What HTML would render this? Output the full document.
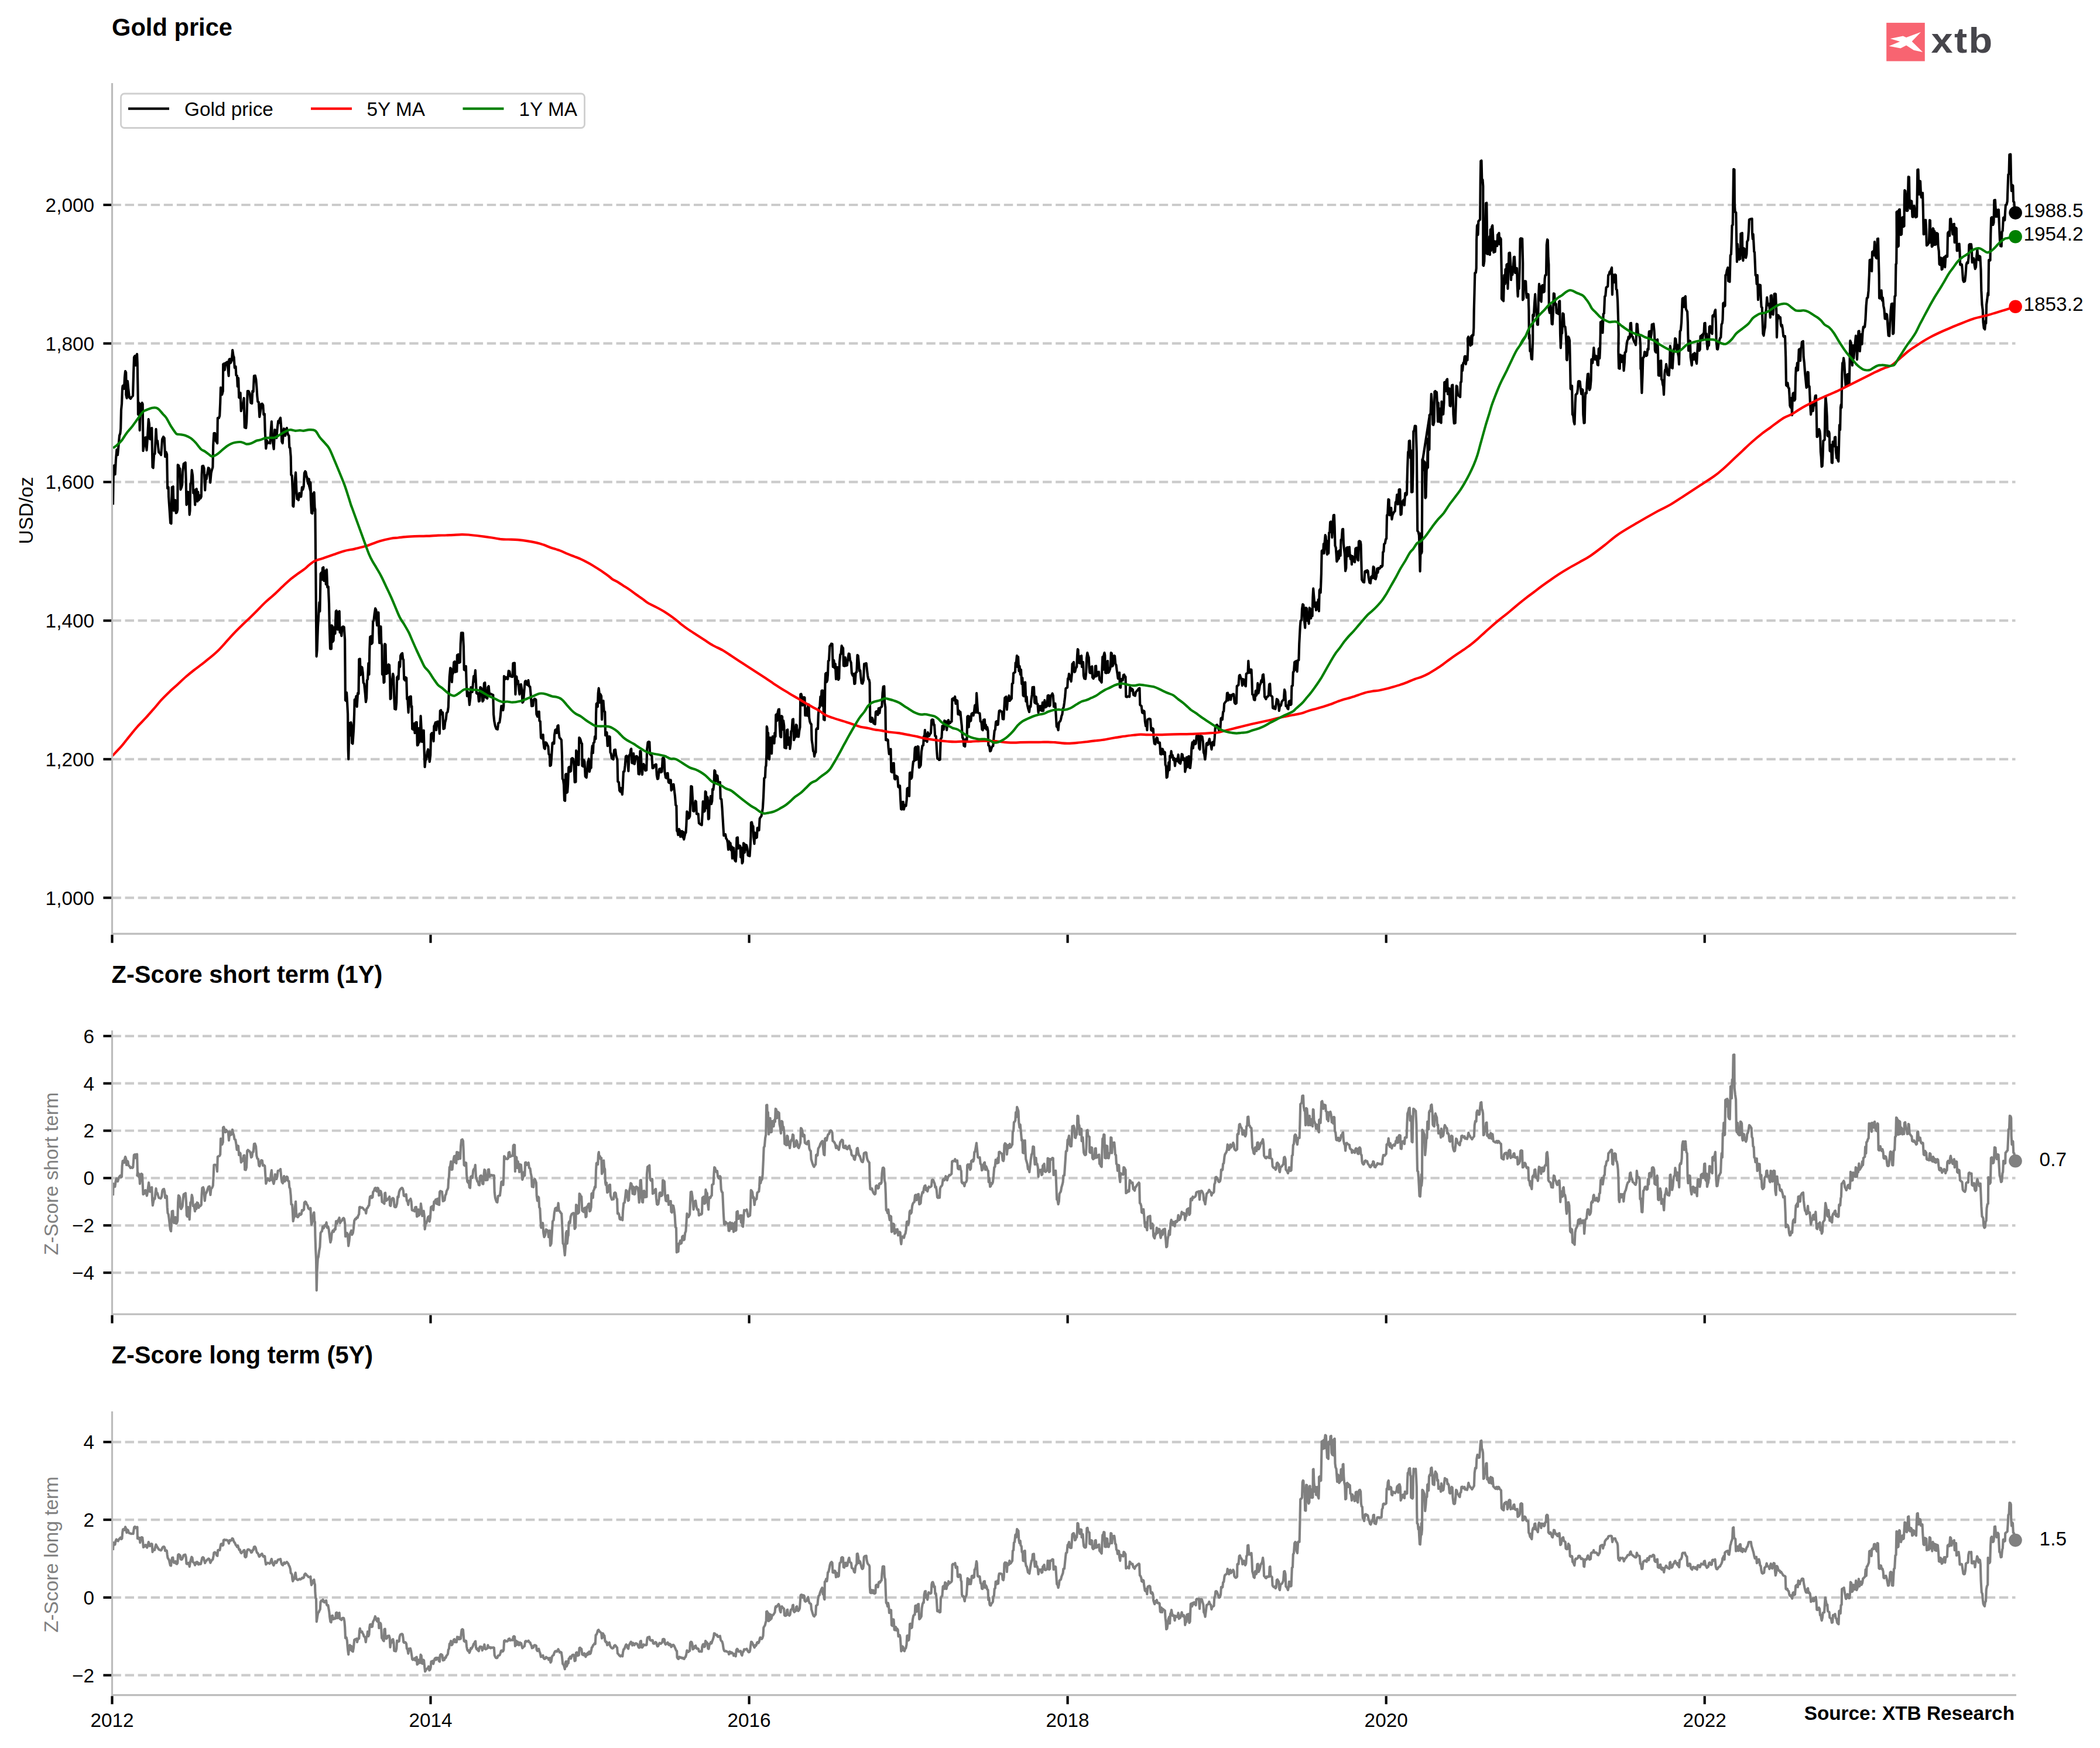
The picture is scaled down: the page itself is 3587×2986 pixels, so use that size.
<!DOCTYPE html>
<html><head><meta charset="utf-8"><title>Gold price</title>
<style>html,body{margin:0;padding:0;background:#fff}body{width:3587px;height:2986px;overflow:hidden}svg{display:block}
text{font-family:"Liberation Sans",Arial,Helvetica,sans-serif;font-size:33.33px;fill:#000}
.t{font-size:41.67px;font-weight:bold}.b{font-weight:bold}.g{fill:#808080}.r{text-anchor:end}.m{text-anchor:middle}
.grid{stroke:#cbcbcb;stroke-width:4.17;stroke-dasharray:15.41 6.6675;fill:none}
.sp{stroke:#bcbcbc;stroke-width:3.2;fill:none}.tk{stroke:#000;stroke-width:4.17;fill:none}
.ln{fill:none;stroke-width:4.17;stroke-linejoin:round;stroke-linecap:butt}
</style></head><body>
<svg xmlns="http://www.w3.org/2000/svg" width="3587" height="2986" viewBox="0 0 3587 2986">
<rect width="3587" height="2986" fill="#fff"/>
<text class="t" x="191" y="61">Gold price</text>
<text class="t" x="190.5" y="1678.5">Z-Score short term (1Y)</text>
<text class="t" x="190.5" y="2329">Z-Score long term (5Y)</text>
<g id="logo"><rect x="3222.2" y="38.9" width="65.6" height="65.6" fill="#f86471"/>
<polygon fill="#fff" points="3228.7,66.0 3250.5,61.4 3256.1,64.1 3281.1,54.7 3265.7,70.8 3284.2,89.1 3269.0,85.7 3256.1,77.4 3246.4,82.4 3226.6,78.7 3245.3,71.0"/>
<text transform="translate(3298.5,89.5) scale(1.075,1)" style="font-size:62px;font-weight:bold;fill:#46454b;letter-spacing:2.2px">xtb</text></g>
<line class="grid" x1="191.5" y1="1533.6" x2="3442.5" y2="1533.6"/>
<line class="grid" x1="191.5" y1="1296.9" x2="3442.5" y2="1296.9"/>
<line class="grid" x1="191.5" y1="1060.2" x2="3442.5" y2="1060.2"/>
<line class="grid" x1="191.5" y1="823.4" x2="3442.5" y2="823.4"/>
<line class="grid" x1="191.5" y1="586.7" x2="3442.5" y2="586.7"/>
<line class="grid" x1="191.5" y1="350.0" x2="3442.5" y2="350.0"/>
<line class="grid" x1="191.5" y1="2174.1" x2="3442.5" y2="2174.1"/>
<line class="grid" x1="191.5" y1="2093.3" x2="3442.5" y2="2093.3"/>
<line class="grid" x1="191.5" y1="2012.4" x2="3442.5" y2="2012.4"/>
<line class="grid" x1="191.5" y1="1931.5" x2="3442.5" y2="1931.5"/>
<line class="grid" x1="191.5" y1="1850.7" x2="3442.5" y2="1850.7"/>
<line class="grid" x1="191.5" y1="1769.8" x2="3442.5" y2="1769.8"/>
<line class="grid" x1="191.5" y1="2861.7" x2="3442.5" y2="2861.7"/>
<line class="grid" x1="191.5" y1="2728.9" x2="3442.5" y2="2728.9"/>
<line class="grid" x1="191.5" y1="2596.1" x2="3442.5" y2="2596.1"/>
<line class="grid" x1="191.5" y1="2463.3" x2="3442.5" y2="2463.3"/>
<defs><clipPath id="cp"><rect x="191.5" y="0" width="3262" height="2986"/></clipPath></defs><g clip-path="url(#cp)">
<polyline class="ln" stroke="#000" points="193.0,862.3 193.6,820.3 194.0,796.2 195.0,795.2 196.6,810.3 198.0,784.2 199.4,768.2 201.0,777.2 202.6,760.2 204.0,744.2 205.4,740.2 206.2,732.2 207.0,700.1 208.0,690.1 209.0,664.1 209.6,659.1 211.0,658.1 212.0,664.1 213.0,644.1 214.0,634.1 215.2,636.1 215.6,654.1 215.2,674.1 216.6,680.1 218.0,651.1 219.4,666.1 221.0,679.1 223.0,681.1 225.0,678.1 227.0,676.1 228.0,640.1 229.0,610.1 230.5,608.0 231.7,624.1 232.7,608.0 234.1,605.0 234.7,620.1 235.3,656.1 235.7,682.1 235.9,708.1 237.3,688.1 238.1,700.1 238.7,735.2 240.1,690.1 241.5,700.1 242.7,688.1 243.7,690.1 244.5,770.2 246.1,760.2 247.1,748.2 248.7,747.2 250.5,769.2 251.7,752.2 253.7,716.2 254.9,724.2 256.1,750.2 257.7,732.2 259.3,731.2 260.5,798.2 261.7,799.2 263.1,776.2 264.5,775.2 266.5,733.2 267.7,754.2 269.1,753.2 271.1,772.2 273.1,774.2 275.1,777.2 277.1,750.2 279.1,746.2 280.7,748.2 282.1,780.2 283.7,772.2 285.1,776.2 286.1,834.3 287.7,832.3 288.1,848.3 289.7,872.3 291.1,893.3 292.5,894.3 293.1,856.3 293.7,832.3 295.7,831.3 296.7,872.3 298.1,871.3 299.3,854.3 300.7,876.3 302.1,875.3 303.3,870.3 303.7,794.2 305.3,795.2 306.1,806.2 307.3,800.2 308.5,836.3 310.1,832.3 311.1,828.3 312.1,806.2 313.7,792.2 315.3,791.2 316.7,790.2 317.7,820.3 318.5,862.3 319.7,860.3 321.1,840.3 322.5,842.3 323.7,879.3 324.5,872.3 325.3,826.3 326.5,824.3 327.7,803.2 329.1,812.3 330.2,842.3 331.8,838.3 333.2,862.3 334.2,836.3 335.8,835.3 337.2,856.3 338.2,840.3 339.6,854.3 341.2,846.3 342.6,851.3 343.8,848.3 344.6,810.3 345.4,796.2 347.2,795.8 348.6,800.2 350.2,837.3 351.4,812.3 352.6,818.3 354.2,808.2 355.8,799.2 357.4,800.2 359.2,824.3 360.6,808.2 361.8,803.2 363.4,798.2 364.2,760.2 365.4,740.2 367.2,740.2 368.2,752.2 371.2,757.2 371.8,714.2 373.8,714.2 375.2,710.2 376.2,688.1 377.0,662.1 378.2,663.1 379.2,674.1 380.8,668.1 381.2,622.1 382.6,621.1 383.8,632.1 385.2,620.1 387.2,619.1 388.2,618.1 390.6,642.1 391.4,614.1 392.6,613.1 393.8,620.1 395.8,616.1 397.2,598.0 398.6,608.0 399.6,610.1 400.8,628.1 402.6,626.1 403.4,641.1 405.0,642.1 405.8,660.1 407.2,646.1 408.2,679.1 409.8,680.1 410.6,671.1 411.8,702.1 413.2,696.1 414.6,694.1 416.6,680.1 417.8,730.2 420.2,731.2 421.2,720.2 422.8,668.1 424.6,668.1 426.6,672.1 428.2,688.1 430.3,689.1 431.3,668.1 432.7,669.1 433.9,642.1 435.9,641.7 437.3,648.1 438.3,660.1 439.3,676.1 440.3,686.1 441.9,687.1 443.3,712.2 444.7,704.1 446.3,690.1 447.9,689.7 449.3,692.1 450.3,708.1 451.9,707.1 452.7,736.2 454.3,766.2 455.9,752.2 457.3,757.2 459.3,756.2 461.3,757.2 462.3,740.2 463.9,720.2 465.1,748.2 466.3,757.2 467.7,767.2 469.3,734.2 470.9,735.2 472.3,748.2 473.9,730.2 475.3,719.2 476.3,722.2 477.7,716.2 479.1,713.8 480.3,730.2 481.3,754.2 482.7,757.2 483.9,740.2 484.9,732.2 486.3,734.2 487.3,744.2 488.3,734.2 489.9,731.2 491.3,740.2 492.3,743.2 493.5,744.2 494.3,764.2 495.5,765.2 496.7,780.2 497.3,811.3 498.7,812.3 499.9,840.3 500.3,864.3 501.3,865.3 502.7,840.3 503.9,818.3 505.1,807.2 506.3,836.3 507.5,852.3 508.7,848.3 509.9,854.3 511.3,842.3 512.7,848.3 514.3,848.3 515.9,832.3 517.3,836.3 518.7,831.3 519.9,808.2 521.3,805.2 522.3,806.2 523.9,815.3 525.3,818.3 526.3,826.3 527.7,818.3 528.7,826.3 530.4,824.3 532.0,876.3 533.4,875.3 534.8,844.3 536.4,841.3 537.4,872.3 538.4,870.3 524.0,814.0 525.4,823.0 526.6,818.0 528.0,827.0 530.0,825.0 531.0,856.1 532.0,876.1 533.4,877.1 534.4,860.1 535.2,844.1 536.6,841.1 537.6,868.1 538.4,871.1 539.0,940.2 539.4,980.2 540.0,1060.3 540.6,1121.3 541.6,1110.3 543.0,1070.3 544.0,1054.3 545.4,1029.2 546.4,1044.3 547.6,980.2 549.0,978.2 550.0,990.2 551.0,970.2 552.4,969.2 553.4,992.2 554.4,978.2 555.6,975.2 556.8,998.2 558.0,973.2 559.2,1003.2 560.8,1002.2 562.0,1030.3 562.8,1070.3 564.0,1108.3 566.0,1108.3 566.4,1068.3 567.6,1069.3 568.4,1096.3 569.6,1094.3 570.5,1074.3 571.7,1071.3 572.5,1082.3 573.7,1044.3 574.7,1043.3 575.7,1074.3 576.9,1075.3 578.1,1045.3 579.7,1044.3 580.5,1080.3 582.1,1078.3 583.3,1086.3 584.5,1071.3 586.1,1070.3 587.7,1071.3 589.1,1092.3 589.5,1140.1 589.9,1196.1 591.1,1197.1 592.1,1183.1 593.1,1200.1 594.1,1220.1 594.7,1280.2 595.3,1296.8 596.1,1260.2 597.1,1235.2 598.5,1256.2 599.5,1234.2 600.5,1240.2 601.1,1269.2 602.5,1270.2 604.1,1246.2 605.1,1220.1 605.7,1195.1 607.1,1196.1 608.5,1189.1 609.7,1207.1 611.1,1184.1 612.5,1185.1 613.3,1126.0 614.9,1125.6 615.7,1153.1 616.9,1139.1 618.5,1140.1 619.7,1149.1 620.7,1166.1 622.1,1168.1 623.7,1184.1 624.9,1199.1 626.1,1192.1 626.9,1162.1 628.1,1160.1 629.3,1133.1 630.5,1152.1 631.3,1110.0 632.1,1088.0 633.7,1087.0 634.5,1100.0 636.1,1098.0 637.1,1062.3 638.5,1059.3 639.7,1048.3 641.1,1039.3 642.5,1042.3 643.1,1058.3 644.1,1068.3 645.3,1046.3 646.5,1046.3 647.3,1080.3 648.1,1098.3 649.1,1070.3 650.5,1070.3 651.3,1098.3 652.5,1102.3 652.9,1152.1 653.7,1151.1 654.5,1140.1 655.5,1166.1 656.5,1165.1 657.3,1100.0 658.5,1101.0 659.1,1130.1 660.1,1151.1 661.7,1150.1 662.5,1137.1 663.7,1135.1 665.1,1136.1 666.1,1160.1 666.7,1194.1 667.7,1193.1 668.5,1166.1 669.7,1165.1 671.2,1151.1 672.2,1156.1 673.2,1190.1 674.2,1211.1 676.2,1211.7 677.2,1200.1 678.2,1157.1 679.8,1155.1 680.6,1160.1 681.8,1131.1 683.2,1139.1 684.2,1120.0 685.8,1117.0 687.2,1116.0 688.2,1126.0 689.2,1127.0 690.2,1160.1 691.8,1162.1 692.6,1157.1 694.2,1158.1 695.2,1194.1 696.2,1192.1 697.6,1217.1 698.8,1191.1 700.2,1190.1 701.8,1189.7 702.6,1208.1 703.4,1206.1 704.2,1245.2 705.8,1246.2 707.2,1236.2 708.6,1252.2 709.8,1234.2 711.8,1233.8 712.8,1273.2 714.2,1272.2 715.2,1244.2 716.2,1268.2 717.4,1265.2 718.6,1223.1 719.8,1246.2 720.8,1267.2 722.2,1248.2 723.8,1247.8 724.6,1280.2 725.6,1310.2 726.8,1298.2 728.2,1297.2 729.8,1284.2 731.2,1280.2 732.6,1290.2 733.8,1301.2 735.2,1290.2 736.2,1254.2 737.8,1252.2 739.2,1253.2 740.6,1266.2 741.4,1240.2 742.6,1238.2 743.8,1234.2 745.2,1247.2 746.2,1233.2 748.2,1232.6 749.8,1240.2 750.8,1253.2 751.8,1214.1 753.2,1213.1 754.6,1220.1 756.2,1217.1 757.4,1245.2 759.2,1244.2 760.2,1234.2 761.8,1228.1 762.8,1218.1 764.6,1216.1 765.8,1208.1 766.8,1180.1 767.8,1156.1 769.2,1141.1 770.3,1142.1 771.9,1165.1 772.7,1152.1 773.9,1150.1 775.3,1131.1 776.7,1130.1 777.9,1148.1 778.9,1136.1 780.3,1147.1 780.9,1119.0 782.7,1118.0 783.9,1132.1 785.9,1131.1 786.7,1100.0 787.9,1081.0 790.7,1081.0 791.9,1104.0 792.7,1144.1 794.3,1145.1 795.9,1138.1 796.7,1166.1 797.9,1189.1 799.3,1182.1 800.3,1184.1 801.9,1204.1 803.3,1192.1 804.3,1174.1 805.7,1175.1 806.7,1182.1 807.9,1168.1 809.1,1155.1 810.3,1164.1 811.9,1145.1 812.7,1160.1 813.9,1184.1 815.3,1185.1 816.7,1184.1 817.9,1198.1 819.3,1197.1 820.3,1174.1 821.9,1175.1 823.3,1178.1 824.3,1198.1 825.7,1196.1 826.9,1167.1 828.3,1166.1 829.5,1191.1 830.9,1192.1 832.3,1193.1 833.3,1174.1 834.7,1172.1 835.9,1186.1 837.9,1185.1 839.9,1186.1 842.3,1187.1 843.1,1220.1 844.3,1232.2 845.9,1240.2 847.9,1245.2 849.9,1245.8 851.3,1235.2 853.3,1234.2 854.7,1224.1 856.3,1206.1 858.3,1205.7 859.3,1213.1 860.3,1206.1 860.9,1155.1 862.3,1156.1 863.3,1160.1 865.3,1157.1 867.3,1160.1 868.7,1146.1 870.4,1147.1 871.6,1155.1 873.4,1155.7 875.4,1156.1 876.4,1133.1 879.0,1132.5 879.8,1160.1 880.4,1186.1 881.4,1160.1 882.4,1155.7 883.4,1168.1 884.8,1163.1 886.0,1174.1 887.4,1186.1 888.4,1170.1 890.0,1169.1 891.4,1179.1 892.4,1200.1 894.0,1198.1 895.4,1180.1 896.8,1164.1 898.0,1163.1 899.4,1168.1 900.8,1170.1 902.4,1162.1 903.6,1172.1 905.4,1173.1 906.4,1184.1 908.0,1206.1 910.4,1205.7 911.4,1195.1 913.4,1193.7 915.4,1195.1 916.4,1220.1 918.0,1224.1 919.4,1216.1 920.8,1215.7 921.4,1231.2 922.8,1232.2 924.0,1260.2 925.4,1261.2 926.4,1256.2 927.6,1255.2 928.4,1269.2 929.6,1278.2 930.8,1279.2 932.0,1268.2 933.4,1269.2 934.8,1272.2 936.4,1275.2 937.4,1288.2 938.8,1289.2 939.4,1308.2 941.0,1307.2 942.0,1294.2 943.6,1269.1 945.0,1268.1 946.4,1270.2 947.0,1256.1 948.4,1247.1 950.0,1246.1 951.0,1252.1 952.4,1240.1 953.6,1239.1 954.4,1250.1 955.6,1260.1 957.0,1261.1 959.0,1264.1 960.0,1290.2 960.8,1330.2 962.0,1332.2 963.0,1340.2 964.0,1367.2 965.2,1367.8 966.0,1323.2 967.2,1322.2 968.0,1354.2 969.2,1353.2 970.1,1340.2 971.3,1311.2 972.5,1310.2 973.5,1318.2 975.1,1317.2 976.1,1296.2 977.5,1295.2 979.3,1296.2 980.5,1308.2 981.7,1336.2 983.5,1335.8 984.1,1282.2 985.3,1284.2 986.5,1306.2 988.5,1306.6 989.3,1260.1 990.5,1261.1 991.7,1264.1 992.9,1269.1 994.1,1270.2 994.5,1308.2 996.1,1309.2 997.1,1298.2 998.5,1301.2 999.7,1326.2 1001.7,1328.2 1002.9,1316.2 1004.1,1302.2 1005.7,1296.2 1006.9,1318.2 1008.1,1312.2 1009.7,1311.8 1010.5,1286.2 1011.7,1274.2 1012.9,1286.2 1013.7,1269.1 1015.1,1268.1 1016.1,1258.1 1017.5,1262.1 1018.1,1220.1 1018.7,1202.1 1019.7,1201.1 1020.9,1207.1 1021.7,1184.1 1022.7,1175.7 1023.7,1184.1 1024.5,1200.1 1025.7,1186.1 1027.1,1189.1 1028.1,1229.1 1029.3,1198.1 1030.5,1197.1 1031.7,1214.1 1033.3,1216.1 1034.1,1256.1 1035.3,1252.1 1036.5,1251.1 1037.7,1274.2 1039.1,1273.2 1040.1,1258.1 1041.7,1258.5 1042.5,1285.2 1043.7,1287.2 1044.9,1295.2 1046.1,1296.2 1047.7,1297.2 1049.1,1281.2 1051.1,1280.6 1052.1,1289.2 1053.3,1294.2 1054.5,1298.2 1055.3,1335.2 1057.1,1336.2 1058.1,1350.2 1059.3,1352.2 1060.5,1346.2 1061.7,1352.2 1062.9,1357.2 1063.7,1346.2 1064.9,1318.2 1066.5,1317.8 1067.7,1307.2 1068.9,1292.2 1070.2,1291.2 1071.4,1294.2 1072.2,1299.2 1073.4,1317.2 1074.6,1290.2 1076.2,1289.2 1077.4,1280.2 1078.2,1279.2 1079.4,1303.2 1081.4,1303.8 1082.2,1287.2 1083.8,1305.2 1085.0,1299.2 1086.2,1292.2 1087.8,1291.8 1089.4,1294.2 1090.6,1322.2 1092.2,1322.6 1093.4,1283.2 1094.6,1283.8 1095.8,1310.2 1097.0,1323.2 1098.2,1307.2 1099.4,1305.2 1100.6,1307.2 1102.2,1316.2 1104.2,1315.8 1105.2,1280.2 1106.6,1268.1 1108.2,1267.1 1109.4,1267.7 1110.2,1288.2 1112.2,1290.2 1113.4,1291.2 1114.6,1312.2 1116.2,1311.8 1117.8,1307.2 1119.4,1306.2 1120.8,1305.8 1121.8,1324.2 1123.0,1330.6 1124.2,1330.2 1126.2,1313.8 1127.8,1313.2 1129.0,1319.2 1130.6,1318.2 1131.8,1295.2 1133.4,1294.2 1134.6,1297.2 1135.4,1318.2 1137.0,1328.2 1138.2,1329.2 1139.4,1321.2 1140.6,1320.8 1141.8,1336.2 1143.2,1337.2 1144.2,1332.2 1145.8,1332.6 1146.6,1350.2 1147.8,1348.2 1149.2,1340.2 1150.6,1339.8 1151.8,1350.2 1153.0,1360.2 1154.2,1375.3 1155.4,1376.3 1156.2,1419.3 1157.4,1420.3 1158.2,1426.3 1159.8,1416.3 1161.0,1418.3 1162.2,1429.3 1163.4,1420.3 1165.0,1419.9 1166.2,1430.3 1167.4,1421.3 1168.2,1433.9 1170.3,1424.3 1171.5,1422.3 1172.3,1410.3 1173.3,1386.3 1174.3,1387.3 1175.5,1398.3 1176.9,1397.3 1178.3,1394.3 1179.5,1366.2 1180.3,1343.2 1181.9,1343.8 1183.1,1366.2 1183.9,1385.3 1185.3,1385.9 1186.7,1376.3 1187.9,1368.2 1188.9,1369.2 1189.9,1390.3 1191.5,1390.7 1192.7,1390.3 1193.9,1406.3 1195.5,1407.3 1196.7,1408.3 1198.7,1409.3 1199.9,1388.3 1200.7,1369.2 1201.9,1369.8 1202.7,1386.3 1203.9,1385.3 1204.7,1352.2 1205.9,1353.2 1206.7,1380.3 1207.9,1361.2 1208.7,1362.2 1209.9,1399.3 1211.1,1398.3 1211.9,1368.2 1213.1,1369.2 1213.9,1360.2 1215.1,1373.3 1216.3,1368.2 1217.1,1348.2 1218.3,1349.2 1219.5,1340.2 1220.3,1316.2 1221.5,1317.2 1222.7,1334.2 1223.9,1324.2 1225.5,1325.2 1226.7,1338.2 1228.3,1337.2 1229.9,1336.2 1230.7,1364.2 1232.3,1365.2 1233.5,1380.3 1234.7,1400.3 1236.3,1427.3 1237.9,1426.3 1239.1,1425.3 1240.3,1432.3 1241.9,1434.3 1243.1,1440.3 1244.0,1451.3 1245.2,1437.3 1246.4,1450.3 1247.6,1440.3 1248.8,1452.3 1250.0,1446.3 1250.8,1466.3 1252.0,1454.3 1253.2,1448.3 1254.4,1467.3 1255.6,1470.3 1256.8,1471.3 1257.6,1460.3 1258.4,1431.3 1260.0,1430.7 1260.8,1449.3 1262.0,1445.3 1263.2,1444.3 1264.4,1445.3 1265.2,1464.3 1266.4,1448.3 1267.6,1474.7 1268.8,1472.3 1270.0,1440.3 1271.2,1441.3 1272.0,1456.3 1273.6,1443.3 1275.2,1443.9 1276.4,1449.3 1277.6,1461.3 1279.2,1461.9 1280.5,1462.3 1281.7,1444.3 1282.5,1428.3 1282.9,1405.2 1284.1,1404.6 1285.3,1410.3 1286.5,1411.3 1287.3,1430.3 1288.5,1441.3 1289.3,1422.3 1290.5,1426.3 1291.7,1431.3 1292.9,1430.3 1293.7,1414.3 1295.3,1413.9 1296.5,1418.3 1297.7,1398.2 1298.9,1396.2 1300.5,1394.2 1301.7,1388.2 1302.9,1380.2 1304.1,1360.2 1305.3,1329.2 1306.9,1328.2 1307.7,1310.2 1308.5,1308.1 1309.3,1288.1 1309.7,1241.1 1310.5,1244.1 1311.3,1268.1 1312.1,1252.1 1312.9,1296.1 1314.1,1297.1 1314.9,1272.1 1315.7,1260.1 1316.9,1286.1 1318.1,1287.1 1318.9,1262.1 1319.7,1258.1 1320.9,1269.1 1322.5,1269.7 1323.3,1252.1 1324.5,1258.1 1325.3,1221.1 1326.5,1220.1 1327.3,1231.1 1328.5,1217.1 1329.7,1212.1 1330.9,1211.7 1331.7,1238.1 1332.9,1258.1 1334.1,1259.1 1334.9,1223.1 1336.1,1224.1 1336.9,1246.1 1338.1,1231.1 1339.3,1240.1 1340.1,1277.1 1341.7,1277.7 1342.9,1278.1 1344.1,1247.1 1345.3,1246.5 1346.1,1272.1 1347.3,1261.1 1348.5,1260.1 1349.3,1279.1 1350.5,1270.1 1351.3,1249.1 1352.5,1248.1 1353.7,1229.1 1354.9,1228.5 1356.1,1264.1 1357.3,1260.1 1358.5,1259.1 1359.7,1238.1 1360.9,1239.1 1362.1,1258.1 1364.1,1258.5 1365.3,1248.1 1366.5,1242.1 1367.3,1186.0 1368.5,1185.6 1369.7,1190.0 1370.9,1205.0 1372.1,1192.0 1373.3,1191.0 1374.5,1191.6 1375.3,1222.1 1376.5,1210.1 1377.7,1222.1 1378.9,1222.5 1380.2,1204.0 1381.4,1203.6 1382.2,1226.1 1383.4,1233.1 1384.6,1236.1 1385.8,1237.1 1386.6,1264.1 1387.8,1272.1 1389.0,1283.1 1390.2,1284.1 1391.0,1292.1 1392.2,1286.1 1393.4,1285.1 1394.2,1246.1 1395.4,1244.1 1397.0,1245.1 1397.8,1220.1 1399.0,1209.0 1400.2,1208.0 1401.4,1190.0 1402.2,1205.0 1403.4,1180.0 1404.6,1179.6 1405.4,1206.0 1406.2,1180.0 1407.0,1229.1 1408.6,1230.1 1409.4,1168.0 1410.0,1151.1 1411.2,1149.7 1412.0,1165.1 1413.2,1162.1 1414.0,1152.1 1414.8,1129.1 1416.0,1128.1 1417.2,1104.1 1418.4,1102.5 1420.0,1099.7 1421.6,1100.1 1422.4,1128.1 1422.8,1139.1 1424.4,1128.1 1425.6,1141.1 1426.8,1134.1 1428.0,1160.1 1429.2,1139.7 1430.8,1140.1 1432.0,1161.1 1433.2,1159.1 1434.0,1132.1 1435.2,1118.1 1436.4,1117.1 1437.6,1103.1 1438.8,1105.7 1440.1,1107.1 1440.9,1137.1 1442.5,1137.7 1443.7,1123.1 1444.9,1137.1 1446.9,1136.5 1448.5,1124.1 1449.7,1116.5 1450.9,1117.1 1452.1,1128.1 1453.7,1132.1 1454.9,1150.1 1456.5,1154.1 1458.1,1151.1 1459.3,1168.1 1460.5,1167.7 1461.7,1149.1 1463.3,1148.1 1464.5,1119.1 1465.7,1120.1 1466.9,1132.1 1468.1,1146.1 1469.3,1145.1 1470.5,1158.1 1471.7,1167.1 1473.3,1167.7 1474.9,1162.1 1476.1,1134.1 1477.7,1133.7 1479.7,1133.1 1480.9,1144.1 1482.1,1154.1 1483.3,1160.1 1484.5,1161.1 1485.5,1166.0 1486.3,1232.1 1487.9,1233.1 1489.1,1226.1 1490.3,1227.1 1491.9,1235.1 1493.1,1236.1 1494.7,1237.1 1495.9,1216.1 1497.1,1215.1 1498.3,1215.7 1499.5,1221.1 1500.7,1210.1 1502.3,1218.1 1503.5,1209.0 1505.1,1208.0 1506.3,1207.0 1507.5,1184.0 1508.7,1173.0 1510.3,1172.4 1511.1,1200.0 1512.3,1208.0 1513.1,1264.1 1514.3,1264.5 1515.5,1263.1 1516.7,1264.1 1517.5,1277.1 1518.7,1288.1 1519.9,1280.1 1521.5,1279.7 1522.3,1318.2 1523.9,1319.2 1525.1,1304.1 1526.7,1303.7 1527.9,1330.2 1529.1,1331.2 1530.3,1325.2 1531.9,1326.2 1533.1,1327.2 1534.3,1344.2 1535.9,1345.2 1537.1,1342.2 1537.9,1362.2 1539.1,1382.2 1540.3,1382.6 1541.1,1370.2 1542.7,1369.8 1543.9,1382.6 1545.1,1377.2 1546.3,1375.2 1547.5,1376.6 1548.7,1366.2 1549.5,1347.2 1550.7,1346.2 1551.9,1359.2 1553.1,1359.8 1553.9,1320.2 1555.1,1319.8 1556.3,1330.2 1557.5,1328.2 1558.7,1312.2 1559.9,1301.1 1561.5,1300.1 1562.7,1278.1 1563.9,1276.1 1564.7,1298.1 1566.3,1297.1 1567.5,1275.1 1568.7,1275.7 1569.9,1311.2 1571.1,1310.2 1572.7,1307.1 1573.9,1284.1 1575.5,1274.1 1577.1,1273.1 1577.9,1258.1 1579.1,1257.1 1579.9,1247.1 1580.8,1265.1 1582.4,1254.1 1583.6,1267.1 1584.8,1251.1 1586.0,1254.1 1587.2,1257.1 1588.4,1254.1 1590.0,1252.1 1591.2,1230.1 1592.4,1229.1 1594.0,1229.7 1595.2,1239.1 1596.0,1238.1 1597.2,1257.1 1598.8,1257.7 1600.0,1280.1 1601.2,1296.1 1602.8,1296.5 1604.0,1298.1 1605.6,1297.7 1606.8,1262.1 1608.4,1260.1 1609.6,1240.1 1610.8,1239.7 1612.0,1246.1 1613.2,1231.1 1614.4,1232.1 1616.0,1232.5 1617.2,1247.1 1618.4,1233.1 1620.0,1230.1 1621.2,1236.1 1622.8,1235.1 1624.0,1233.1 1625.6,1232.5 1626.4,1194.0 1628.0,1193.0 1629.6,1196.0 1631.2,1190.0 1632.4,1202.0 1633.6,1196.0 1635.2,1197.0 1636.4,1220.1 1638.0,1214.1 1639.2,1221.1 1640.4,1216.1 1641.6,1229.1 1642.8,1240.1 1644.0,1260.1 1645.2,1261.1 1646.4,1274.1 1648.0,1274.5 1648.3,1275.2 1649.1,1263.2 1650.7,1262.2 1651.5,1265.2 1652.3,1224.2 1653.5,1223.2 1654.7,1242.2 1655.9,1224.2 1657.1,1232.2 1658.3,1231.2 1659.5,1219.2 1661.1,1218.2 1662.7,1222.2 1663.9,1216.2 1665.1,1205.2 1666.3,1204.2 1667.1,1217.2 1668.1,1184.2 1669.1,1200.2 1670.3,1217.2 1671.9,1218.2 1673.5,1218.6 1674.7,1232.2 1676.3,1233.2 1677.5,1246.2 1678.7,1247.2 1679.9,1229.8 1681.9,1229.2 1682.7,1244.2 1683.9,1238.2 1685.1,1246.2 1686.3,1242.2 1687.5,1248.2 1688.3,1273.2 1689.9,1274.2 1691.1,1283.3 1692.3,1282.7 1693.5,1278.2 1694.7,1275.2 1696.3,1274.2 1697.5,1260.2 1698.7,1248.2 1699.9,1246.2 1701.1,1233.2 1702.3,1232.2 1703.5,1238.2 1704.7,1237.8 1705.9,1222.2 1706.7,1214.2 1708.3,1213.8 1709.9,1215.2 1711.5,1215.8 1712.7,1228.2 1714.3,1228.6 1715.5,1206.2 1716.3,1192.2 1717.5,1191.2 1718.7,1190.2 1719.9,1212.2 1721.1,1196.2 1722.3,1197.2 1723.5,1188.2 1724.7,1197.2 1726.3,1195.2 1727.9,1193.2 1728.7,1168.1 1730.3,1167.1 1731.1,1150.1 1732.7,1149.1 1733.9,1148.1 1734.7,1132.1 1735.9,1131.1 1736.9,1120.1 1737.9,1139.1 1739.1,1122.1 1740.4,1146.1 1741.6,1138.1 1742.8,1152.1 1744.0,1144.1 1745.2,1168.1 1746.4,1158.1 1747.6,1188.2 1748.8,1189.2 1750.0,1166.1 1751.2,1165.7 1752.4,1198.2 1753.6,1190.2 1754.8,1204.2 1756.4,1211.2 1758.0,1216.2 1759.2,1206.2 1760.4,1207.2 1761.6,1194.2 1762.8,1186.2 1763.6,1174.1 1766.0,1173.7 1767.2,1200.2 1768.4,1201.2 1769.6,1190.2 1770.8,1202.2 1772.4,1202.6 1773.6,1217.2 1774.8,1207.2 1776.0,1206.2 1777.2,1213.2 1778.4,1206.2 1779.6,1214.2 1780.8,1200.2 1782.0,1214.2 1783.2,1204.2 1784.4,1196.2 1785.6,1208.2 1787.2,1207.2 1788.4,1206.2 1789.6,1188.2 1791.2,1187.8 1792.4,1206.2 1793.6,1205.2 1794.8,1188.2 1796.4,1187.2 1797.6,1184.6 1798.8,1188.2 1800.0,1207.2 1801.2,1202.2 1802.4,1201.8 1803.6,1220.2 1804.8,1241.2 1806.4,1242.2 1807.6,1247.2 1808.8,1234.2 1809.6,1233.2 1810.8,1232.2 1812.0,1229.2 1813.2,1223.2 1814.4,1220.2 1815.6,1210.2 1816.8,1208.2 1818.0,1200.2 1819.2,1190.2 1820.4,1176.1 1822.0,1175.1 1823.2,1174.5 1824.0,1159.1 1825.2,1158.1 1826.0,1151.1 1827.2,1160.1 1828.4,1154.1 1829.6,1164.1 1830.8,1152.1 1831.6,1134.1 1832.8,1133.1 1834.0,1131.1 1835.2,1148.1 1836.4,1147.1 1837.6,1141.1 1839.2,1139.1 1840.0,1120.1 1840.8,1109.1 1841.6,1110.1 1842.4,1132.1 1843.6,1121.1 1844.8,1133.1 1846.0,1121.1 1847.2,1120.1 1848.0,1139.1 1848.8,1132.1 1850.1,1131.1 1850.9,1154.1 1852.1,1159.1 1854.1,1159.7 1855.3,1148.1 1856.1,1124.1 1857.3,1115.1 1858.5,1120.1 1859.7,1123.1 1860.5,1140.1 1861.3,1149.1 1862.9,1149.7 1864.1,1139.1 1865.3,1138.5 1866.1,1157.1 1867.7,1159.1 1868.9,1155.1 1870.1,1155.7 1870.9,1138.1 1872.1,1137.7 1872.9,1155.1 1874.5,1152.1 1875.7,1148.1 1876.9,1147.7 1878.1,1161.1 1879.3,1162.1 1880.5,1164.1 1881.7,1165.7 1882.5,1141.1 1883.3,1122.1 1884.1,1144.1 1885.3,1120.1 1886.5,1115.1 1887.3,1119.1 1888.1,1149.1 1889.7,1149.7 1890.9,1130.1 1892.1,1129.1 1892.9,1149.1 1894.1,1148.1 1895.7,1144.1 1896.9,1139.1 1897.7,1115.1 1898.9,1116.1 1899.7,1138.1 1900.9,1137.1 1901.7,1122.1 1902.9,1120.1 1904.1,1120.5 1905.3,1134.1 1906.5,1136.1 1907.7,1145.1 1908.5,1150.1 1909.7,1159.1 1910.5,1149.7 1912.1,1149.1 1912.9,1174.1 1914.1,1174.5 1914.9,1160.1 1916.5,1161.1 1917.7,1162.1 1918.9,1153.1 1920.1,1152.5 1921.3,1155.1 1922.5,1156.1 1923.3,1190.2 1924.9,1190.6 1926.5,1189.7 1928.1,1189.1 1929.3,1190.2 1930.1,1174.1 1931.3,1180.1 1932.5,1176.1 1933.7,1177.1 1934.9,1178.1 1936.1,1187.1 1937.7,1188.1 1938.9,1188.5 1940.1,1182.1 1942.1,1180.1 1943.7,1178.1 1945.3,1176.1 1946.5,1175.7 1947.3,1204.2 1948.5,1205.2 1949.7,1206.2 1951.0,1217.2 1952.6,1218.2 1953.4,1214.2 1954.6,1215.2 1955.8,1232.2 1957.0,1240.2 1958.2,1233.2 1959.4,1247.2 1960.2,1229.2 1961.8,1228.2 1963.4,1227.8 1965.0,1228.6 1966.2,1247.2 1967.8,1248.2 1968.6,1244.2 1969.8,1245.2 1970.6,1260.2 1971.8,1270.2 1973.4,1271.2 1974.6,1263.2 1975.8,1260.2 1977.0,1261.2 1978.2,1269.2 1979.4,1268.2 1981.0,1268.6 1982.2,1288.2 1983.8,1288.6 1985.0,1279.2 1986.2,1280.2 1987.4,1288.2 1988.6,1284.2 1989.8,1285.2 1990.6,1306.3 1991.8,1309.3 1992.6,1328.3 1993.8,1327.3 1995.0,1316.3 1996.2,1302.3 1997.4,1315.3 1998.2,1291.3 1999.4,1294.3 2000.6,1283.2 2001.8,1292.3 2003.0,1290.3 2004.2,1298.3 2005.8,1295.3 2007.0,1308.3 2008.2,1297.3 2009.8,1296.3 2011.4,1300.3 2012.6,1289.2 2013.8,1302.3 2015.0,1303.3 2016.2,1304.3 2017.4,1298.3 2018.6,1288.2 2019.8,1289.2 2021.0,1298.3 2022.2,1295.3 2023.4,1296.3 2024.2,1318.3 2025.4,1312.3 2026.6,1293.9 2027.8,1310.3 2029.4,1292.7 2030.6,1291.9 2031.8,1311.3 2033.0,1311.9 2034.2,1300.3 2035.4,1277.2 2036.6,1268.2 2037.8,1278.2 2039.4,1265.2 2041.0,1271.2 2042.6,1270.2 2043.8,1257.2 2045.4,1256.2 2047.0,1256.6 2048.2,1278.2 2049.4,1280.2 2050.7,1257.2 2052.3,1257.8 2053.5,1258.2 2054.7,1266.2 2055.9,1285.2 2057.1,1288.2 2058.3,1297.3 2059.5,1288.2 2060.7,1270.2 2061.9,1269.2 2063.5,1272.2 2064.7,1266.2 2065.9,1262.2 2067.1,1270.2 2068.3,1272.2 2069.5,1280.2 2070.7,1268.2 2072.3,1267.2 2073.5,1273.2 2074.7,1260.2 2075.9,1242.2 2077.1,1239.2 2078.7,1238.2 2080.3,1240.2 2081.9,1247.2 2083.1,1248.2 2084.3,1246.2 2085.5,1227.2 2086.7,1226.2 2087.9,1229.2 2089.1,1216.2 2090.3,1215.2 2091.1,1202.2 2092.3,1200.2 2093.9,1198.2 2095.1,1197.2 2095.9,1184.1 2097.1,1183.7 2098.3,1196.2 2099.9,1187.1 2101.1,1194.2 2102.3,1195.2 2103.5,1187.1 2105.1,1188.1 2106.3,1185.7 2107.5,1186.1 2108.7,1200.2 2110.3,1202.2 2111.9,1201.2 2112.7,1172.1 2114.3,1171.1 2115.5,1170.1 2116.7,1154.1 2117.9,1153.1 2119.5,1158.1 2120.7,1160.1 2121.9,1171.1 2123.1,1160.1 2124.3,1168.1 2125.5,1161.1 2126.7,1171.1 2127.9,1172.1 2128.7,1151.1 2130.3,1150.1 2131.5,1149.7 2132.3,1129.1 2133.5,1148.1 2134.7,1149.1 2136.3,1143.7 2137.5,1144.1 2138.3,1160.1 2139.1,1186.1 2140.7,1187.1 2141.9,1195.2 2143.5,1195.8 2144.7,1180.1 2145.9,1188.1 2147.1,1185.1 2148.3,1167.1 2149.5,1184.1 2150.8,1178.1 2152.0,1170.1 2153.2,1168.1 2154.4,1162.1 2155.6,1165.1 2156.8,1153.1 2158.0,1152.1 2159.2,1166.1 2160.0,1190.2 2161.2,1192.2 2162.4,1194.2 2164.0,1190.2 2165.6,1189.7 2166.8,1188.1 2168.0,1169.1 2169.2,1168.1 2170.4,1188.1 2172.0,1189.1 2173.2,1190.2 2174.0,1209.2 2175.6,1210.2 2177.2,1207.2 2178.4,1211.2 2179.6,1204.2 2180.8,1194.2 2182.4,1195.2 2183.6,1198.2 2184.8,1214.2 2186.4,1204.2 2188.0,1205.2 2189.2,1199.2 2190.4,1197.2 2191.6,1196.2 2192.8,1195.2 2194.0,1178.1 2195.2,1182.1 2196.4,1206.2 2198.0,1205.2 2199.2,1210.2 2200.4,1211.2 2201.6,1198.2 2203.2,1197.2 2204.4,1204.2 2205.6,1203.2 2206.4,1172.1 2208.0,1171.1 2208.8,1148.1 2210.0,1147.1 2211.2,1131.1 2212.4,1130.1 2213.2,1144.1 2214.4,1129.1 2215.6,1147.1 2216.8,1128.1 2218.4,1127.7 2219.2,1100.1 2220.8,1069.9 2221.6,1060.3 2223.2,1059.3 2224.0,1040.3 2225.2,1032.3 2226.4,1033.3 2227.6,1050.3 2228.0,1060.3 2229.2,1072.4 2230.4,1038.3 2232.0,1039.3 2233.2,1060.3 2234.4,1050.3 2235.6,1065.3 2236.8,1038.3 2238.0,1050.3 2239.2,1056.3 2240.4,1040.3 2241.6,1052.3 2242.4,1020.3 2243.2,1005.3 2244.4,1020.3 2245.6,1036.3 2246.8,1029.3 2248.0,1042.3 2249.2,1029.3 2250.5,1040.3 2251.7,1024.3 2252.9,1043.9 2253.7,1008.3 2254.9,1006.3 2255.7,1012.3 2256.9,980.3 2257.7,941.2 2258.9,940.2 2260.1,945.2 2260.9,929.2 2261.7,945.2 2262.5,928.2 2263.7,914.2 2264.5,916.2 2265.7,932.2 2266.9,947.2 2268.1,924.2 2269.3,945.2 2270.1,910.2 2271.3,909.2 2272.1,891.8 2273.3,891.2 2274.5,901.2 2275.3,918.2 2276.5,899.2 2277.7,880.2 2278.9,879.8 2279.7,900.2 2280.5,932.2 2281.7,935.2 2282.5,946.2 2283.3,959.2 2284.9,956.2 2285.7,942.2 2286.9,954.2 2288.1,940.2 2289.7,949.2 2290.5,922.2 2291.7,921.2 2292.9,904.2 2294.1,903.8 2294.9,928.2 2295.7,936.2 2296.9,946.2 2298.1,975.3 2299.3,970.3 2300.1,935.8 2301.3,935.2 2302.1,950.2 2303.3,935.2 2304.9,934.6 2305.7,948.2 2306.9,955.2 2308.1,949.2 2308.9,964.2 2310.1,950.2 2311.7,952.2 2312.9,959.2 2314.1,960.2 2315.3,937.2 2316.5,936.2 2317.7,935.8 2318.9,956.2 2320.1,957.2 2320.9,925.2 2322.1,924.2 2323.7,925.2 2324.5,930.2 2325.3,960.2 2326.1,990.3 2327.3,992.3 2328.5,994.3 2330.1,994.7 2331.3,976.3 2332.9,975.3 2334.1,977.3 2335.3,974.3 2336.5,975.3 2337.7,986.3 2339.3,995.3 2340.9,996.3 2342.1,985.3 2343.3,984.3 2344.5,987.3 2345.7,968.2 2346.9,969.2 2348.1,988.3 2349.7,989.3 2351.0,984.3 2352.2,971.3 2353.4,978.3 2354.6,970.3 2356.2,971.3 2357.4,970.3 2358.6,967.2 2360.2,968.2 2361.4,966.2 2362.2,943.2 2363.4,942.2 2364.2,929.2 2365.8,928.2 2367.0,921.2 2368.2,920.2 2369.0,880.2 2370.2,879.2 2371.4,853.1 2372.6,853.7 2373.4,880.2 2374.2,868.1 2375.4,878.2 2376.2,867.7 2377.4,887.2 2378.6,880.2 2379.8,877.2 2381.4,874.2 2382.7,873.3 2383.8,857.9 2385.1,857.0 2386.2,845.0 2387.6,861.3 2388.6,860.5 2389.6,836.4 2391.3,836.1 2392.4,879.3 2393.7,878.5 2394.8,858.7 2396.5,855.3 2397.8,853.6 2398.9,863.0 2400.3,842.4 2402.0,845.9 2403.0,844.2 2404.0,803.0 2405.1,772.1 2406.1,771.2 2406.8,753.2 2408.1,752.9 2409.2,782.4 2410.2,769.5 2410.9,840.7 2412.6,840.4 2413.6,803.0 2414.3,736.9 2415.4,736.0 2416.7,727.5 2418.4,727.8 2419.8,772.1 2420.5,837.3 2421.2,906.8 2422.6,908.5 2423.9,914.5 2425.0,948.8 2425.6,976.0 2426.3,948.8 2427.0,911.1 2427.7,945.4 2428.7,942.8 2429.1,871.6 2429.4,784.9 2430.8,785.8 2432.2,803.0 2432.9,789.2 2433.9,790.1 2434.6,850.7 2435.6,849.3 2436.6,803.0 2437.7,799.5 2439.0,798.7 2439.4,751.5 2440.4,768.6 2441.4,767.8 2442.1,708.6 2430.0,786.2 2431.2,800.2 2432.4,788.2 2433.6,789.2 2434.4,850.3 2435.6,848.3 2436.8,800.2 2438.0,799.2 2438.8,750.2 2440.0,749.2 2440.8,768.2 2441.6,709.1 2442.8,708.1 2443.6,706.1 2444.8,673.1 2446.0,688.1 2447.2,725.2 2448.4,725.8 2449.6,720.2 2450.4,669.1 2451.6,668.1 2452.8,669.7 2454.0,670.1 2455.2,696.1 2456.0,720.2 2456.8,688.1 2458.0,720.2 2459.2,698.1 2460.4,721.2 2461.6,722.2 2462.4,686.1 2463.6,708.1 2465.2,707.7 2466.4,688.1 2467.2,653.1 2468.4,652.5 2469.6,668.1 2470.9,649.1 2472.1,647.7 2472.9,673.1 2474.1,664.1 2475.3,663.7 2476.5,693.1 2477.7,693.7 2478.9,668.1 2480.1,658.1 2481.3,657.7 2482.5,708.1 2483.7,723.2 2485.7,722.6 2486.9,688.1 2487.7,659.1 2488.9,660.1 2490.1,675.1 2491.7,675.7 2492.9,677.1 2494.1,678.1 2494.9,653.1 2496.1,652.1 2496.9,624.1 2498.1,633.1 2499.3,620.1 2500.5,619.7 2501.7,609.0 2502.9,608.6 2503.7,622.1 2504.9,614.1 2506.5,615.1 2507.3,596.0 2506.9,578.3 2508.1,575.3 2509.3,588.3 2510.5,578.3 2511.7,590.3 2512.9,574.3 2514.1,588.3 2514.9,572.3 2516.5,572.7 2517.3,560.3 2517.7,530.3 2518.5,500.3 2519.3,466.2 2520.9,465.8 2521.7,458.2 2522.1,410.2 2522.9,386.1 2523.7,384.1 2524.5,401.2 2525.3,378.1 2526.9,376.1 2528.1,375.1 2528.7,310.1 2529.3,275.0 2530.5,274.4 2531.3,308.1 2532.5,307.1 2533.3,318.1 2533.3,453.2 2534.1,453.8 2535.3,446.2 2536.1,414.2 2537.3,380.1 2538.1,347.1 2539.3,346.7 2539.9,386.1 2539.7,433.2 2540.5,433.8 2541.3,412.2 2542.5,411.2 2543.3,434.2 2544.1,404.2 2544.9,435.2 2545.7,392.1 2546.9,428.2 2548.1,388.1 2549.3,385.1 2550.5,410.2 2551.3,431.2 2552.5,412.2 2553.7,430.2 2554.9,413.2 2556.1,412.2 2557.3,420.2 2558.1,401.2 2559.3,400.2 2560.5,398.1 2561.3,417.2 2562.5,406.2 2563.7,408.2 2564.5,450.2 2565.1,480.2 2564.9,510.3 2566.1,512.3 2567.3,490.2 2568.1,514.3 2569.3,470.2 2570.6,485.2 2571.4,460.2 2572.6,482.2 2573.4,452.2 2574.6,451.2 2575.4,493.2 2576.6,460.2 2577.4,432.2 2579.0,431.8 2580.2,450.2 2581.0,478.2 2582.2,456.2 2583.4,469.2 2584.6,458.2 2585.8,439.2 2587.0,438.8 2588.2,466.2 2589.4,460.2 2591.0,458.2 2591.8,490.2 2592.6,506.3 2593.8,480.2 2594.6,493.2 2595.8,456.2 2596.6,408.2 2597.8,407.2 2600.2,407.8 2601.2,450.2 2601.0,512.3 2602.2,510.3 2603.0,481.2 2604.6,480.2 2606.2,480.6 2607.0,500.3 2607.8,508.3 2609.0,502.3 2610.6,502.7 2611.4,530.3 2611.8,578.3 2612.6,572.0 2613.4,600.0 2614.6,597.0 2615.8,613.1 2617.0,613.7 2618.2,580.0 2618.2,538.3 2619.0,537.3 2619.8,540.3 2621.0,518.3 2622.2,502.7 2623.4,530.3 2624.6,534.3 2625.8,554.3 2627.0,554.7 2627.8,510.3 2629.0,485.2 2630.2,492.2 2631.4,512.3 2632.6,515.3 2633.8,488.2 2635.0,487.2 2636.2,499.2 2637.8,498.2 2638.6,476.2 2639.4,470.2 2641.0,469.8 2641.8,418.2 2643.0,409.2 2643.8,410.2 2644.6,440.2 2645.4,452.2 2645.8,528.3 2647.0,534.3 2648.2,520.3 2649.4,528.3 2650.6,553.3 2651.8,553.9 2653.0,530.3 2653.8,501.3 2655.0,501.9 2656.2,520.3 2657.8,519.3 2658.6,534.3 2660.2,535.3 2661.4,529.3 2662.2,536.3 2663.0,515.3 2664.2,514.3 2665.0,570.3 2665.8,594.3 2667.0,570.3 2668.2,569.3 2669.4,535.3 2670.7,536.3 2671.9,557.3 2673.5,558.3 2674.7,570.3 2675.5,590.3 2675.9,614.1 2676.7,615.1 2677.5,600.0 2678.7,575.0 2679.9,577.0 2681.1,582.0 2681.9,620.1 2682.7,664.1 2683.9,665.1 2685.1,659.1 2685.9,708.1 2687.1,709.1 2688.3,720.2 2689.5,724.6 2690.7,688.1 2691.5,674.1 2692.7,673.1 2693.9,672.1 2695.1,664.1 2695.9,651.7 2697.1,651.1 2698.7,651.7 2699.9,664.1 2701.1,673.1 2702.3,665.1 2703.5,666.1 2704.3,708.1 2705.5,722.6 2706.7,722.2 2707.5,684.1 2708.3,671.1 2709.9,671.7 2710.7,654.1 2711.9,639.1 2713.1,638.7 2713.9,662.1 2715.1,666.1 2716.3,663.1 2717.5,650.1 2718.3,614.1 2719.5,613.7 2720.3,620.1 2721.5,606.0 2722.3,594.0 2723.5,608.0 2724.7,614.1 2726.3,608.0 2727.5,609.0 2728.7,623.1 2729.9,623.7 2730.7,596.0 2731.5,595.0 2732.3,612.1 2733.1,596.0 2733.7,570.0 2733.9,550.3 2735.1,566.3 2736.3,548.3 2737.5,568.3 2738.7,536.3 2739.9,535.3 2741.1,506.3 2742.3,505.3 2743.5,491.2 2744.7,490.2 2746.3,489.2 2747.1,470.2 2748.3,469.2 2749.5,464.2 2750.7,467.2 2751.9,460.2 2753.1,457.2 2753.9,503.3 2755.1,469.2 2756.3,470.2 2757.5,482.2 2758.7,469.2 2759.9,469.8 2760.7,494.2 2761.9,495.2 2763.1,514.3 2763.9,540.3 2764.7,570.3 2764.3,600.0 2765.1,629.1 2766.7,629.7 2767.5,606.0 2768.7,607.0 2769.9,618.1 2771.2,608.0 2772.4,607.6 2773.6,633.1 2774.8,620.1 2775.6,602.0 2777.2,601.0 2778.4,590.0 2779.6,582.0 2780.8,580.0 2781.6,575.3 2782.8,578.3 2784.0,576.3 2784.8,552.3 2786.0,551.9 2787.2,574.3 2788.8,575.3 2790.0,580.3 2791.6,584.3 2792.8,586.3 2794.0,589.3 2794.8,578.3 2795.6,553.3 2796.8,553.9 2798.0,570.3 2799.6,571.3 2801.2,578.3 2802.0,590.3 2802.4,630.1 2803.2,632.1 2803.8,656.1 2804.4,671.1 2805.6,640.1 2806.4,611.1 2808.0,610.1 2809.2,601.0 2810.8,602.0 2812.0,608.0 2813.2,607.0 2814.4,596.0 2815.6,597.0 2816.4,572.0 2816.8,566.3 2818.4,565.9 2819.6,578.3 2820.8,570.3 2821.6,554.3 2823.2,553.9 2824.4,553.3 2825.6,565.3 2826.4,580.3 2826.8,598.0 2827.6,601.0 2828.8,602.0 2830.0,581.0 2831.2,580.0 2832.0,600.0 2832.8,641.1 2834.4,641.7 2835.6,617.1 2837.2,616.1 2838.0,648.1 2839.2,649.1 2840.0,656.1 2841.2,660.1 2842.0,674.1 2843.2,640.1 2844.0,632.1 2845.2,631.1 2846.0,622.1 2847.2,630.1 2848.4,640.1 2849.6,639.1 2850.8,641.1 2852.0,620.1 2852.8,591.0 2854.0,600.0 2855.2,628.1 2856.8,629.1 2858.0,608.0 2859.2,596.0 2860.0,595.0 2861.2,578.0 2862.4,579.0 2863.6,597.0 2864.8,589.0 2866.0,603.0 2867.2,609.0 2868.0,622.5 2868.8,590.0 2869.6,566.0 2870.9,564.0 2872.1,550.3 2872.9,530.3 2873.7,510.2 2874.9,509.2 2876.1,524.3 2877.3,508.2 2878.9,506.2 2879.7,527.3 2880.9,530.3 2882.1,532.3 2882.9,550.3 2883.3,570.0 2884.1,599.0 2885.3,582.0 2886.9,582.4 2887.7,610.1 2888.9,618.1 2889.7,624.1 2890.9,608.0 2892.1,605.0 2893.3,614.1 2894.5,603.0 2895.7,605.0 2896.9,616.1 2898.1,621.1 2899.3,600.0 2900.1,587.0 2901.3,590.0 2902.5,599.0 2903.7,597.0 2904.5,574.4 2905.7,576.0 2906.9,572.4 2908.1,579.0 2909.3,570.0 2910.5,568.4 2911.3,552.3 2912.5,551.9 2913.7,578.3 2914.9,570.3 2915.7,586.3 2916.5,596.3 2917.7,588.3 2918.9,590.3 2919.7,558.3 2920.9,557.3 2922.1,566.3 2923.3,568.3 2924.5,570.3 2925.3,539.3 2926.5,538.3 2927.7,540.3 2928.9,532.3 2930.1,529.3 2930.9,550.3 2931.7,582.3 2932.9,596.3 2934.1,596.7 2935.3,588.3 2936.5,582.3 2938.1,577.3 2939.3,576.3 2940.5,554.3 2941.7,552.3 2942.5,546.3 2943.3,518.2 2944.5,517.2 2945.3,523.3 2946.5,522.3 2947.3,470.2 2948.5,469.2 2949.7,462.2 2951.3,457.2 2952.1,480.2 2953.3,480.6 2954.5,481.2 2955.7,436.2 2956.9,434.2 2957.7,414.1 2958.5,385.1 2959.7,384.1 2960.5,330.1 2961.1,289.0 2962.5,289.6 2962.9,350.1 2963.7,362.1 2965.3,363.1 2966.1,410.1 2966.9,447.2 2968.1,417.1 2969.3,442.2 2970.6,443.2 2971.4,426.2 2972.6,442.2 2973.4,399.1 2975.8,398.1 2976.2,424.2 2977.4,445.2 2978.6,424.2 2979.8,425.2 2981.0,439.2 2982.2,440.2 2983.4,434.2 2984.2,413.1 2985.8,410.1 2987.0,394.1 2987.8,375.1 2989.4,374.5 2990.6,374.1 2992.6,373.7 2993.0,398.1 2993.8,408.1 2994.6,400.1 2995.4,414.1 2996.2,430.2 2997.0,430.6 2997.8,450.2 2998.6,470.2 2999.8,471.2 3000.6,485.2 3001.8,470.2 3003.0,512.2 3004.2,490.2 3005.4,486.6 3007.0,487.2 3007.8,510.2 3008.6,524.3 3009.8,525.3 3010.2,540.3 3011.4,570.3 3012.6,573.3 3013.8,564.3 3015.0,558.3 3015.8,536.3 3017.0,526.3 3018.2,508.2 3019.4,520.3 3020.6,521.3 3021.8,519.2 3023.0,530.3 3023.8,542.3 3024.6,505.2 3025.8,504.6 3027.0,536.3 3028.6,537.3 3029.4,528.3 3030.6,502.2 3031.8,501.8 3033.0,502.2 3034.2,530.3 3035.0,576.3 3035.8,550.3 3037.0,538.3 3038.2,539.3 3039.4,543.3 3041.0,542.3 3041.8,554.3 3042.6,557.3 3043.8,555.3 3045.0,562.3 3046.2,574.3 3047.4,575.3 3049.0,574.3 3050.2,610.1 3051.0,658.1 3052.2,659.1 3053.4,654.1 3054.6,662.1 3055.8,663.1 3056.6,676.1 3057.4,693.1 3058.6,696.1 3059.8,680.1 3061.0,709.1 3061.8,680.1 3062.6,672.1 3063.8,671.1 3065.0,684.1 3066.2,682.1 3067.0,644.1 3067.8,628.1 3069.0,633.1 3069.8,620.1 3071.1,632.5 3071.9,616.1 3072.7,597.0 3073.9,596.4 3075.1,616.1 3075.9,595.0 3077.1,593.0 3077.9,584.0 3079.1,583.6 3079.9,583.0 3080.7,610.1 3081.9,620.1 3083.1,637.1 3084.3,649.1 3085.5,662.1 3086.7,661.1 3087.5,635.7 3088.7,636.1 3089.5,659.1 3090.7,660.1 3091.9,688.1 3093.1,708.1 3094.3,698.1 3095.5,690.1 3096.7,702.1 3097.9,691.1 3099.1,692.1 3099.9,682.1 3100.7,676.1 3101.9,675.7 3102.7,704.1 3103.5,746.2 3104.7,745.8 3105.9,734.2 3107.1,733.2 3108.3,736.2 3109.1,744.2 3109.9,772.2 3110.7,780.2 3111.5,797.2 3112.7,796.2 3113.5,780.2 3114.3,753.2 3115.5,752.2 3116.7,751.2 3117.5,700.1 3118.3,677.1 3119.5,690.1 3120.7,712.2 3121.5,744.2 3122.7,745.2 3123.9,737.2 3124.7,740.2 3125.5,770.2 3126.7,771.2 3127.9,760.2 3128.7,790.2 3129.9,790.6 3130.7,754.6 3131.9,755.2 3133.1,762.2 3133.9,747.2 3135.1,746.6 3135.9,770.2 3137.1,782.2 3137.9,764.2 3139.1,785.2 3140.3,788.2 3141.1,760.2 3141.9,726.2 3143.1,734.2 3143.9,696.1 3144.7,691.1 3145.5,696.1 3146.3,640.1 3147.1,620.1 3148.3,619.1 3149.1,611.7 3150.3,620.1 3151.5,644.1 3152.7,660.1 3153.9,659.1 3155.1,640.1 3156.3,639.1 3157.5,656.1 3158.7,657.1 3159.5,620.1 3160.3,582.0 3161.5,585.0 3162.7,595.0 3163.9,624.1 3165.1,590.0 3166.3,612.1 3167.5,598.0 3168.7,586.0 3169.9,573.6 3171.2,590.0 3172.0,614.1 3173.2,590.0 3174.4,566.0 3175.6,565.6 3176.8,600.0 3178.0,584.0 3179.2,571.0 3180.4,588.0 3181.6,568.0 3182.8,558.3 3184.0,559.3 3185.2,558.3 3186.4,546.3 3187.6,522.3 3188.8,509.2 3190.4,508.2 3191.6,496.2 3192.8,470.2 3193.6,444.2 3194.8,443.8 3196.0,462.2 3197.2,463.2 3198.0,430.2 3199.6,429.2 3200.8,436.2 3202.0,413.1 3203.2,436.2 3204.4,440.2 3205.6,441.2 3206.8,408.1 3208.0,407.7 3208.8,440.2 3209.6,470.2 3210.0,509.2 3211.6,509.8 3212.4,497.2 3213.6,496.2 3214.8,513.2 3216.0,508.6 3217.2,522.3 3218.4,528.3 3219.6,544.3 3220.8,544.7 3222.0,536.3 3223.2,537.3 3224.4,556.3 3225.6,573.3 3227.2,573.9 3228.4,550.3 3229.6,530.3 3230.8,519.2 3232.4,518.6 3233.2,570.3 3234.4,569.3 3235.6,530.3 3236.4,506.2 3237.6,505.2 3238.4,451.2 3239.2,450.2 3239.3,444.3 3239.7,400.2 3239.5,362.2 3240.9,361.2 3241.7,421.3 3242.9,420.3 3243.7,358.2 3244.9,357.8 3245.7,384.2 3246.9,401.2 3248.1,400.2 3248.9,372.2 3250.1,371.2 3251.3,387.2 3252.5,386.2 3252.9,340.1 3253.3,325.1 3254.5,326.1 3255.7,340.1 3256.9,360.2 3258.5,359.8 3259.3,320.1 3259.7,302.1 3260.9,302.5 3261.7,344.1 3262.9,356.2 3264.1,343.1 3265.3,343.7 3266.5,370.2 3267.7,370.6 3268.5,352.2 3269.7,351.8 3270.9,362.2 3272.1,371.2 3274.1,370.2 3274.9,320.1 3275.3,290.1 3276.5,289.7 3277.3,314.1 3278.1,332.1 3278.9,309.1 3280.1,309.7 3280.9,328.1 3281.7,337.1 3282.9,330.1 3284.1,329.7 3284.9,360.2 3285.7,400.2 3286.9,399.8 3287.7,376.2 3289.3,375.8 3290.1,392.2 3290.9,419.3 3292.5,418.2 3293.7,416.2 3294.9,415.2 3296.1,376.2 3296.9,376.6 3297.7,414.2 3298.9,392.2 3299.7,421.3 3300.9,420.3 3301.7,390.2 3302.5,391.2 3303.7,418.2 3304.5,395.2 3305.7,417.8 3306.9,417.2 3308.2,398.2 3309.8,399.2 3310.6,420.3 3311.8,429.3 3312.6,451.3 3313.8,452.3 3314.6,440.3 3315.8,440.7 3316.6,460.3 3317.8,459.3 3318.6,448.3 3319.8,440.3 3321.0,439.3 3322.2,456.3 3323.4,437.3 3325.0,436.7 3326.2,438.3 3327.0,398.2 3328.2,396.2 3329.4,402.2 3330.2,402.6 3331.0,374.2 3332.2,373.8 3333.0,384.2 3334.2,388.2 3335.4,400.2 3336.2,383.2 3337.8,382.6 3338.6,414.2 3339.8,400.2 3340.6,389.2 3341.8,390.2 3342.6,428.3 3344.2,427.9 3345.0,417.2 3346.6,416.6 3347.4,428.3 3348.2,452.3 3349.8,451.3 3351.0,451.9 3351.8,460.3 3353.0,478.3 3354.2,481.3 3356.2,480.3 3357.4,470.3 3358.6,452.3 3359.8,448.3 3361.4,449.3 3362.6,440.3 3363.4,418.2 3364.6,417.2 3365.8,424.3 3367.0,417.2 3367.8,424.3 3368.6,448.3 3370.2,446.3 3371.4,441.3 3372.6,452.3 3373.8,459.3 3375.0,456.3 3376.2,438.3 3377.4,426.3 3378.7,442.3 3379.9,444.3 3380.7,437.3 3382.3,438.3 3383.5,460.3 3384.3,496.4 3385.5,520.4 3386.7,529.4 3387.5,550.4 3388.7,560.4 3390.3,562.5 3391.5,548.4 3392.3,552.4 3393.1,520.4 3394.3,511.4 3395.5,500.4 3396.3,504.4 3397.1,444.3 3398.3,443.9 3399.5,444.7 3400.3,400.2 3401.1,372.2 3402.3,371.2 3403.5,372.2 3404.3,384.2 3405.5,380.2 3406.3,342.1 3407.9,341.7 3408.7,356.2 3409.5,370.2 3410.3,358.2 3411.9,359.2 3412.7,370.2 3413.9,358.2 3414.7,380.2 3415.9,409.2 3417.1,420.3 3418.7,420.7 3419.5,396.2 3420.7,394.2 3421.9,372.2 3423.1,371.2 3424.3,376.2 3425.1,361.2 3425.9,350.2 3427.5,349.2 3428.7,344.1 3429.5,320.1 3430.3,298.1 3431.5,297.1 3432.3,264.0 3434.3,263.6 3435.1,308.1 3435.9,326.1 3437.1,316.1 3438.3,317.1 3439.1,344.1 3440.3,345.1 3441.1,356.2 3441.9,363.8"/>
<path class="ln" stroke="#ff0000" d="M192.0,1291.2 C194.6,1288.4 202.6,1280.3 207.5,1274.7 C212.3,1269.1 216.6,1263.2 221.2,1257.6 C225.8,1251.9 230.3,1246.2 234.9,1241.1 C239.5,1235.9 244.1,1231.6 248.6,1226.7 C253.2,1221.7 257.8,1216.5 262.4,1211.2 C267.0,1206.0 271.5,1200.1 276.1,1195.1 C280.7,1190.1 285.3,1185.7 289.8,1181.4 C294.4,1177.0 299.0,1173.2 303.6,1169.0 C308.1,1164.8 312.7,1160.3 317.3,1156.3 C321.9,1152.3 326.4,1148.6 331.0,1145.0 C335.6,1141.4 340.2,1138.2 344.8,1134.7 C349.3,1131.1 353.9,1127.5 358.5,1123.7 C363.1,1119.9 367.6,1116.1 372.2,1111.7 C376.8,1107.2 381.4,1101.9 385.9,1096.9 C390.5,1091.9 395.1,1086.6 399.7,1081.8 C404.2,1077.0 408.8,1072.6 413.4,1068.1 C418.0,1063.6 422.5,1059.5 427.1,1055.0 C431.7,1050.6 436.3,1045.9 440.9,1041.3 C445.4,1036.7 450.0,1031.9 454.6,1027.6 C459.2,1023.3 463.7,1019.8 468.3,1015.6 C472.9,1011.4 477.5,1006.8 482.0,1002.5 C486.6,998.2 491.2,993.7 495.8,989.8 C500.3,986.0 505.5,982.5 509.5,979.5 C513.5,976.6 516.9,974.6 520.0,972.2 C523.1,969.8 525.0,967.5 528.0,965.2 C531.0,962.8 534.3,960.0 538.0,958.2 C541.7,956.3 544.7,956.0 550.0,954.2 C555.4,952.3 563.7,949.3 570.1,947.2 C576.4,945.0 582.1,942.8 588.1,941.2 C594.1,939.6 599.7,939.0 606.1,937.6 C612.4,936.1 619.1,934.7 626.1,932.6 C633.1,930.4 641.1,926.7 648.1,924.5 C655.1,922.4 662.8,920.7 668.1,919.7 C673.5,918.7 676.2,919.0 680.2,918.5 C684.2,918.1 687.5,917.5 692.2,917.1 C696.8,916.7 702.2,916.4 708.2,916.1 C714.2,915.9 721.5,916.0 728.2,915.7 C734.9,915.5 741.6,915.0 748.2,914.7 C754.9,914.5 761.6,914.4 768.2,914.1 C774.9,913.9 782.9,913.2 788.3,913.1 C793.6,913.0 794.9,913.1 800.3,913.5 C805.6,914.0 813.6,914.9 820.3,915.7 C827.0,916.6 834.3,917.6 840.3,918.5 C846.3,919.4 851.7,920.6 856.3,921.1 C861.0,921.6 863.7,921.4 868.3,921.5 C873.0,921.7 879.0,921.7 884.4,922.1 C889.7,922.6 895.0,923.3 900.4,924.1 C905.7,925.0 911.7,926.1 916.4,927.1 C921.1,928.2 924.5,929.2 928.4,930.6 C932.3,931.9 935.4,933.5 940.0,935.2 C944.6,936.8 951.0,938.6 956.1,940.4 C961.1,942.3 965.7,944.7 970.1,946.4 C974.4,948.2 978.4,949.6 982.1,951.1 C985.8,952.5 988.8,953.6 992.1,955.1 C995.4,956.6 998.8,958.3 1002.1,960.1 C1005.4,961.8 1008.8,963.7 1012.1,965.7 C1015.4,967.7 1018.8,969.9 1022.1,972.1 C1025.5,974.2 1029.1,976.6 1032.1,978.7 C1035.1,980.7 1037.8,982.7 1040.1,984.5 C1042.5,986.3 1043.5,987.7 1046.1,989.4 C1048.8,991.1 1052.8,992.9 1056.2,994.9 C1059.5,996.9 1062.8,999.2 1066.2,1001.4 C1069.5,1003.5 1072.8,1005.5 1076.2,1007.9 C1079.5,1010.2 1082.8,1012.9 1086.2,1015.3 C1089.5,1017.7 1093.9,1020.6 1096.2,1022.2 C1098.5,1023.8 1098.2,1023.7 1100.0,1025.0 C1101.8,1026.4 1103.6,1028.2 1107.2,1030.3 C1110.7,1032.4 1116.4,1034.8 1121.5,1037.5 C1126.5,1040.2 1131.7,1042.9 1137.2,1046.5 C1142.7,1050.0 1150.1,1055.4 1154.3,1058.6 C1158.6,1061.8 1159.6,1063.2 1162.9,1065.8 C1166.3,1068.4 1170.1,1071.4 1174.4,1074.4 C1178.7,1077.3 1183.9,1080.6 1188.7,1083.7 C1193.4,1086.8 1198.2,1089.9 1203.0,1093.0 C1207.7,1096.0 1212.0,1099.3 1217.3,1102.2 C1222.5,1105.2 1229.2,1107.8 1234.4,1110.8 C1239.7,1113.8 1244.0,1117.0 1248.7,1120.1 C1253.5,1123.2 1258.3,1126.3 1263.0,1129.4 C1267.8,1132.5 1272.6,1135.6 1277.3,1138.7 C1282.1,1141.8 1286.9,1144.9 1291.6,1148.0 C1296.4,1151.1 1301.2,1154.2 1305.9,1157.3 C1310.7,1160.4 1315.5,1163.7 1320.2,1166.9 C1325.0,1170.0 1329.8,1173.2 1334.5,1176.2 C1339.3,1179.2 1344.1,1182.0 1348.8,1184.9 C1353.6,1187.8 1358.4,1190.5 1363.1,1193.3 C1367.9,1196.2 1372.7,1199.2 1377.4,1201.9 C1382.2,1204.7 1388.0,1207.8 1391.7,1209.9 C1395.5,1212.0 1396.9,1212.5 1400.0,1214.5 C1403.1,1216.5 1406.5,1219.7 1410.2,1221.7 C1413.9,1223.6 1418.2,1224.7 1422.2,1226.1 C1426.2,1227.5 1430.2,1228.8 1434.2,1230.1 C1438.2,1231.3 1442.2,1232.4 1446.2,1233.7 C1450.2,1234.9 1454.2,1236.3 1458.2,1237.7 C1462.2,1239.0 1466.2,1240.7 1470.2,1241.7 C1474.2,1242.7 1478.2,1242.9 1482.3,1243.7 C1486.3,1244.5 1490.3,1245.8 1494.3,1246.5 C1498.3,1247.2 1502.3,1247.4 1506.3,1248.1 C1510.3,1248.8 1513.6,1249.8 1518.3,1250.5 C1523.0,1251.2 1529.0,1251.3 1534.3,1252.1 C1539.6,1252.9 1545.0,1254.1 1550.3,1255.1 C1555.7,1256.1 1561.7,1257.1 1566.3,1258.1 C1571.0,1259.1 1574.3,1260.3 1578.3,1261.1 C1582.4,1261.9 1586.0,1262.4 1590.4,1263.1 C1594.7,1263.8 1599.7,1264.5 1604.4,1265.1 C1609.0,1265.7 1614.1,1266.2 1618.4,1266.5 C1622.7,1266.8 1626.4,1267.1 1630.4,1267.1 C1634.4,1267.1 1637.8,1266.8 1642.4,1266.7 C1647.1,1266.7 1653.0,1267.0 1658.3,1266.8 C1663.6,1266.7 1668.9,1266.0 1674.3,1265.8 C1679.6,1265.7 1685.6,1265.8 1690.3,1265.8 C1695.0,1265.9 1698.3,1265.9 1702.3,1266.2 C1706.3,1266.6 1710.3,1267.4 1714.3,1267.8 C1718.3,1268.2 1721.7,1268.6 1726.3,1268.6 C1731.0,1268.7 1737.0,1268.4 1742.4,1268.2 C1747.7,1268.1 1753.0,1267.9 1758.4,1267.8 C1763.7,1267.8 1769.0,1267.9 1774.4,1267.8 C1779.7,1267.8 1785.7,1267.6 1790.4,1267.6 C1795.1,1267.7 1798.8,1268.0 1802.4,1268.2 C1806.0,1268.5 1808.4,1269.0 1812.0,1269.2 C1815.6,1269.5 1819.4,1269.9 1824.0,1269.8 C1828.7,1269.8 1834.7,1269.3 1840.0,1268.8 C1845.4,1268.4 1850.7,1267.8 1856.1,1267.2 C1861.4,1266.6 1866.7,1265.9 1872.1,1265.2 C1877.4,1264.6 1882.7,1264.1 1888.1,1263.2 C1893.4,1262.4 1898.8,1261.1 1904.1,1260.2 C1909.4,1259.3 1914.8,1258.6 1920.1,1257.8 C1925.5,1257.1 1931.5,1256.3 1936.1,1255.8 C1940.8,1255.3 1944.1,1254.7 1948.1,1254.6 C1952.2,1254.5 1955.5,1255.1 1960.2,1255.2 C1964.8,1255.3 1970.2,1255.3 1976.2,1255.2 C1982.2,1255.1 1989.5,1254.8 1996.2,1254.6 C2002.9,1254.4 2009.5,1254.3 2016.2,1254.2 C2022.9,1254.1 2030.2,1254.0 2036.2,1253.8 C2042.2,1253.6 2046.9,1253.5 2052.3,1253.2 C2057.6,1252.9 2063.6,1252.5 2068.3,1252.2 C2072.9,1251.9 2076.3,1251.9 2080.3,1251.2 C2084.3,1250.5 2088.3,1249.2 2092.3,1248.2 C2096.3,1247.2 2099.6,1246.4 2104.3,1245.2 C2109.0,1244.0 2115.0,1242.5 2120.3,1241.2 C2125.7,1239.9 2131.0,1238.4 2136.3,1237.2 C2141.7,1236.0 2147.0,1235.0 2152.4,1233.8 C2157.7,1232.6 2163.0,1231.5 2168.4,1230.2 C2173.7,1228.9 2179.0,1227.4 2184.4,1226.2 C2189.7,1225.0 2195.7,1223.9 2200.4,1223.0 C2205.1,1222.0 2208.5,1221.4 2212.4,1220.6 C2216.3,1219.8 2220.1,1219.4 2224.0,1218.3 C2228.0,1217.1 2232.0,1215.1 2236.0,1213.9 C2240.0,1212.6 2244.0,1211.8 2248.0,1210.7 C2252.1,1209.6 2256.1,1208.5 2260.1,1207.3 C2264.1,1206.0 2268.1,1204.7 2272.1,1203.3 C2276.1,1201.8 2280.1,1200.1 2284.1,1198.6 C2288.1,1197.2 2292.1,1195.9 2296.1,1194.6 C2300.1,1193.4 2304.1,1192.5 2308.1,1191.2 C2312.1,1190.0 2316.1,1188.6 2320.1,1187.2 C2324.1,1185.9 2328.1,1184.3 2332.1,1183.2 C2336.1,1182.2 2340.1,1181.5 2344.1,1180.8 C2348.1,1180.2 2352.2,1179.9 2356.2,1179.2 C2360.2,1178.5 2364.2,1177.6 2368.2,1176.6 C2372.2,1175.6 2376.2,1174.4 2380.2,1173.2 C2384.2,1172.1 2388.2,1171.0 2392.2,1169.6 C2396.2,1168.3 2400.2,1166.8 2404.2,1165.2 C2408.2,1163.6 2412.2,1161.7 2416.2,1160.2 C2420.2,1158.7 2424.2,1157.8 2428.2,1156.2 C2432.2,1154.6 2436.2,1152.8 2440.2,1150.6 C2444.2,1148.4 2448.2,1145.8 2452.3,1143.2 C2456.3,1140.6 2460.3,1138.0 2464.3,1135.2 C2468.3,1132.3 2472.3,1129.1 2476.3,1126.2 C2480.3,1123.3 2484.3,1120.5 2488.3,1117.8 C2492.3,1115.0 2496.3,1112.5 2500.3,1109.8 C2504.3,1107.0 2508.3,1104.3 2512.3,1101.2 C2516.3,1098.0 2520.3,1094.6 2524.3,1091.1 C2528.3,1087.6 2532.3,1083.7 2536.3,1080.1 C2540.3,1076.5 2544.3,1073.0 2548.3,1069.5 C2552.4,1066.0 2556.4,1062.4 2560.4,1059.1 C2564.4,1055.8 2568.4,1052.9 2572.4,1049.7 C2576.4,1046.5 2580.4,1043.0 2584.4,1039.7 C2588.4,1036.4 2592.4,1032.9 2596.4,1029.7 C2600.4,1026.4 2604.5,1023.1 2608.4,1020.1 C2612.3,1017.0 2616.1,1014.4 2620.0,1011.5 C2624.0,1008.5 2627.7,1005.4 2632.1,1002.2 C2636.4,999.0 2641.1,995.7 2646.1,992.2 C2651.1,988.7 2656.4,984.9 2662.1,981.2 C2667.8,977.5 2674.1,973.7 2680.1,970.2 C2686.1,966.7 2692.1,963.6 2698.1,960.2 C2704.1,956.8 2709.2,954.4 2716.2,949.7 C2723.1,945.1 2732.2,938.0 2740.0,932.0 C2747.8,926.0 2754.0,919.9 2762.9,913.7 C2771.7,907.6 2781.9,901.8 2793.3,895.0 C2804.8,888.3 2821.5,878.8 2831.4,873.3 C2841.3,867.9 2845.1,866.7 2852.8,862.3 C2860.4,857.8 2869.3,851.7 2877.1,846.7 C2885.0,841.6 2891.5,837.4 2900.0,831.8 C2908.5,826.2 2920.8,818.5 2928.1,813.3 C2935.5,808.0 2938.8,804.9 2944.1,800.2 C2949.5,795.6 2954.8,790.2 2960.1,785.2 C2965.5,780.2 2970.8,775.2 2976.2,770.2 C2981.5,765.2 2986.8,759.9 2992.2,755.2 C2997.5,750.5 3002.8,746.0 3008.2,741.8 C3013.5,737.6 3019.5,733.6 3024.2,730.2 C3028.9,726.7 3032.2,724.0 3036.2,721.2 C3040.2,718.3 3044.2,715.4 3048.2,713.2 C3052.2,710.9 3056.2,709.9 3060.2,707.7 C3064.2,705.6 3068.2,702.6 3072.3,700.1 C3076.3,697.7 3080.3,695.3 3084.3,693.1 C3088.3,691.0 3092.3,689.1 3096.3,687.1 C3100.3,685.1 3103.6,683.3 3108.3,681.1 C3113.0,679.0 3119.0,676.4 3124.3,674.1 C3129.6,671.8 3135.0,669.6 3140.3,667.1 C3145.7,664.6 3151.0,661.8 3156.3,659.1 C3161.7,656.4 3167.0,653.8 3172.4,651.1 C3177.7,648.4 3183.0,645.8 3188.4,643.1 C3193.7,640.4 3199.0,637.6 3204.4,635.1 C3209.7,632.6 3215.7,630.1 3220.4,628.1 C3225.1,626.1 3225.9,627.7 3232.4,623.1 C3238.9,618.4 3252.6,605.5 3259.5,600.0 C3266.4,594.5 3270.0,592.8 3274.1,590.1 C3278.2,587.3 3280.4,585.8 3284.1,583.5 C3287.8,581.2 3291.5,579.0 3296.1,576.5 C3300.8,574.0 3306.8,571.0 3312.2,568.5 C3317.5,566.0 3322.8,563.7 3328.2,561.5 C3333.5,559.2 3338.9,557.0 3344.2,554.8 C3349.5,552.7 3355.6,550.2 3360.2,548.4 C3364.9,546.6 3368.2,545.3 3372.2,544.0 C3376.2,542.8 3380.3,542.0 3384.3,541.0 C3388.3,540.0 3392.3,539.1 3396.3,538.0 C3400.3,536.9 3404.3,535.6 3408.3,534.4 C3412.3,533.2 3416.3,532.0 3420.3,530.8 C3424.3,529.6 3428.7,528.1 3432.3,527.0 C3436.0,525.9 3440.7,524.5 3442.3,524.0"/>
<path class="ln" stroke="#008000" d="M193.0,765.2 C194.2,764.4 197.5,762.4 200.0,760.2 C202.5,758.0 205.4,755.5 208.0,752.2 C210.7,748.9 213.0,744.2 216.0,740.2 C219.0,736.2 222.7,732.5 226.0,728.2 C229.4,723.8 233.1,718.2 236.1,714.2 C239.1,710.1 242.1,705.9 244.1,703.7 C246.1,701.6 246.4,702.0 248.1,701.1 C249.7,700.3 252.1,699.5 254.1,698.7 C256.1,698.0 257.9,697.1 260.1,696.7 C262.2,696.4 265.1,696.2 267.1,696.7 C269.1,697.3 270.3,698.4 272.1,700.1 C273.9,701.9 276.1,704.9 278.1,707.1 C280.1,709.4 281.8,710.3 284.1,713.8 C286.4,717.3 289.4,723.8 292.1,728.2 C294.8,732.5 298.3,737.5 300.1,739.8 C302.0,742.0 301.8,741.4 303.1,741.8 C304.5,742.2 306.0,741.8 308.1,742.2 C310.3,742.5 313.1,742.7 316.1,743.8 C319.1,744.9 323.1,746.5 326.1,748.6 C329.1,750.7 331.3,753.1 334.2,756.2 C337.0,759.3 340.5,764.7 343.2,767.2 C345.8,769.7 347.7,769.5 350.2,771.2 C352.7,772.9 356.1,775.8 358.2,777.2 C360.2,778.6 360.4,779.9 362.6,779.6 C364.8,779.4 368.3,777.7 371.2,775.8 C374.1,773.9 377.4,770.5 380.2,768.2 C383.0,765.9 385.7,763.5 388.2,761.8 C390.7,760.1 392.9,758.8 395.2,757.8 C397.6,756.8 399.7,756.3 402.2,755.8 C404.7,755.3 407.9,754.9 410.2,755.0 C412.6,755.1 414.4,756.0 416.2,756.6 C418.1,757.2 419.1,758.5 421.2,758.6 C423.4,758.7 426.4,758.2 429.2,757.2 C432.1,756.2 435.8,753.7 438.3,752.8 C440.8,751.9 441.9,752.3 444.3,751.6 C446.6,750.9 449.6,749.2 452.3,748.6 C454.9,748.0 457.3,748.0 460.3,747.8 C463.3,747.6 467.0,748.3 470.3,747.2 C473.6,746.1 477.0,743.1 480.3,741.2 C483.6,739.3 487.6,736.9 490.3,735.8 C493.0,734.6 494.0,734.2 496.3,734.2 C498.7,734.2 501.7,735.6 504.3,735.8 C507.0,735.9 510.0,735.2 512.3,735.2 C514.7,735.2 515.7,735.9 518.3,735.8 C521.0,735.6 525.0,734.2 528.3,734.2 C531.7,734.2 535.4,733.6 538.4,735.8 C541.4,737.9 543.7,743.8 546.4,747.2 C549.0,750.6 551.7,753.0 554.4,756.2 C557.0,759.4 559.7,761.5 562.4,766.2 C565.1,770.9 567.4,777.2 570.4,784.2 C573.4,791.2 577.4,800.9 580.4,808.2 C583.4,815.6 586.1,821.9 588.4,828.3 C590.7,834.6 592.5,840.3 594.4,846.3 C596.3,852.3 599.1,861.3 600.0,864.3 C601.0,867.3 598.7,860.5 600.1,864.1 C601.4,867.7 605.4,878.8 608.1,886.1 C610.8,893.4 613.4,900.8 616.1,908.1 C618.8,915.5 621.8,923.8 624.1,930.2 C626.4,936.5 628.1,941.4 630.1,946.2 C632.1,950.9 633.9,954.6 636.1,958.6 C638.3,962.6 640.6,965.9 643.1,970.2 C645.6,974.5 648.3,978.7 651.1,984.2 C654.0,989.7 657.3,997.2 660.1,1003.2 C663.0,1009.2 665.5,1014.2 668.1,1020.2 C670.8,1026.2 673.7,1033.4 676.2,1039.3 C678.7,1045.1 680.8,1050.8 683.2,1055.3 C685.5,1059.8 687.7,1062.1 690.2,1066.3 C692.7,1070.5 695.8,1075.7 698.2,1080.3 C700.5,1084.9 701.8,1088.7 704.2,1094.0 C706.5,1099.3 709.5,1106.2 712.2,1112.0 C714.9,1117.9 718.0,1124.5 720.2,1129.0 C722.4,1133.6 723.2,1136.1 725.2,1139.1 C727.2,1142.1 729.7,1143.7 732.2,1147.1 C734.7,1150.4 737.6,1155.2 740.2,1159.1 C742.9,1162.9 745.6,1167.3 748.2,1170.1 C750.9,1172.9 753.6,1173.9 756.2,1176.1 C758.9,1178.3 761.9,1181.3 764.2,1183.1 C766.6,1184.9 768.4,1186.2 770.3,1187.1 C772.1,1188.0 773.8,1188.7 775.3,1188.7 C776.8,1188.7 777.4,1188.1 779.3,1187.1 C781.1,1186.1 784.1,1184.0 786.3,1182.5 C788.4,1181.0 790.3,1179.0 792.3,1178.1 C794.3,1177.2 795.9,1177.0 798.3,1177.1 C800.6,1177.2 803.6,1178.3 806.3,1178.5 C809.0,1178.7 812.0,1178.2 814.3,1178.5 C816.6,1178.8 818.0,1179.4 820.3,1180.5 C822.6,1181.6 825.6,1183.6 828.3,1185.1 C831.0,1186.6 833.6,1188.4 836.3,1189.7 C839.0,1191.0 841.7,1191.9 844.3,1193.1 C847.0,1194.3 850.0,1196.1 852.3,1197.1 C854.7,1198.1 856.0,1198.9 858.3,1199.1 C860.7,1199.4 863.5,1198.4 866.3,1198.5 C869.2,1198.6 871.7,1199.9 875.4,1199.7 C879.0,1199.6 884.9,1198.5 888.4,1197.7 C891.9,1197.0 893.7,1196.1 896.4,1195.1 C899.0,1194.1 901.7,1192.8 904.4,1191.7 C907.1,1190.6 910.1,1189.5 912.4,1188.5 C914.7,1187.5 916.4,1186.4 918.4,1185.7 C920.4,1185.0 922.1,1184.5 924.4,1184.5 C926.7,1184.5 929.3,1184.9 932.4,1185.7 C935.5,1186.5 940.1,1188.7 943.0,1189.5 C946.0,1190.3 947.9,1190.0 950.0,1190.5 C952.2,1191.0 954.2,1191.5 956.0,1192.5 C957.9,1193.4 959.0,1194.1 961.0,1196.1 C963.0,1198.0 965.5,1201.2 968.0,1204.1 C970.6,1206.9 973.6,1210.6 976.1,1213.1 C978.6,1215.6 980.4,1217.3 983.1,1219.1 C985.7,1220.9 989.2,1221.9 992.1,1223.7 C994.9,1225.5 997.4,1227.8 1000.1,1229.7 C1002.7,1231.6 1005.4,1233.4 1008.1,1235.1 C1010.8,1236.8 1013.4,1238.8 1016.1,1239.7 C1018.8,1240.6 1021.4,1240.4 1024.1,1240.5 C1026.8,1240.7 1029.4,1240.4 1032.1,1240.5 C1034.8,1240.7 1037.8,1240.8 1040.1,1241.3 C1042.5,1241.9 1043.8,1242.4 1046.1,1243.7 C1048.5,1245.0 1051.8,1247.2 1054.1,1249.1 C1056.5,1251.0 1058.3,1253.3 1060.1,1255.1 C1062.0,1257.0 1063.1,1258.5 1065.1,1260.1 C1067.1,1261.8 1069.3,1263.4 1072.2,1265.1 C1075.0,1266.9 1078.8,1268.5 1082.2,1270.6 C1085.5,1272.6 1089.2,1275.2 1092.2,1277.2 C1095.2,1279.1 1097.8,1280.8 1100.2,1282.2 C1102.5,1283.5 1104.2,1284.4 1106.2,1285.2 C1108.2,1285.9 1109.9,1286.3 1112.2,1286.8 C1114.5,1287.3 1117.2,1287.6 1120.2,1288.2 C1123.2,1288.7 1127.5,1289.6 1130.2,1290.2 C1132.9,1290.8 1134.5,1291.2 1136.2,1291.8 C1137.9,1292.4 1138.6,1293.0 1140.2,1293.8 C1141.9,1294.5 1144.2,1295.8 1146.2,1296.2 C1148.2,1296.6 1150.4,1295.8 1152.2,1296.2 C1154.1,1296.5 1155.2,1297.1 1157.2,1298.2 C1159.2,1299.2 1161.7,1301.0 1164.2,1302.6 C1166.7,1304.2 1169.7,1306.3 1172.3,1307.8 C1174.8,1309.3 1176.6,1310.7 1179.3,1311.8 C1181.9,1312.9 1185.4,1313.5 1188.3,1314.6 C1191.1,1315.7 1193.6,1317.0 1196.3,1318.6 C1198.9,1320.2 1201.9,1322.3 1204.3,1324.2 C1206.6,1326.1 1208.3,1328.0 1210.3,1329.8 C1212.3,1331.6 1214.0,1333.7 1216.3,1335.2 C1218.6,1336.7 1221.6,1337.7 1224.3,1338.8 C1227.0,1340.0 1229.6,1340.8 1232.3,1342.2 C1235.0,1343.6 1237.5,1345.8 1240.3,1347.2 C1243.1,1348.6 1245.7,1348.6 1249.0,1350.6 C1252.3,1352.6 1256.5,1356.4 1260.0,1359.2 C1263.5,1362.0 1266.4,1364.4 1270.0,1367.2 C1273.7,1370.0 1278.7,1373.9 1282.1,1376.2 C1285.4,1378.5 1287.4,1379.1 1290.1,1380.8 C1292.7,1382.6 1295.6,1385.2 1298.1,1386.6 C1300.6,1388.1 1302.7,1389.3 1305.1,1389.6 C1307.4,1390.0 1309.2,1389.2 1312.1,1388.6 C1314.9,1388.1 1318.8,1387.5 1322.1,1386.2 C1325.4,1385.0 1328.8,1383.1 1332.1,1381.2 C1335.4,1379.4 1339.1,1377.3 1342.1,1375.2 C1345.1,1373.1 1347.5,1370.9 1350.1,1368.6 C1352.8,1366.3 1355.1,1363.6 1358.1,1361.2 C1361.1,1358.8 1365.1,1356.6 1368.1,1354.2 C1371.1,1351.8 1373.3,1349.3 1376.1,1346.6 C1379.0,1343.9 1382.2,1340.0 1385.2,1337.8 C1388.2,1335.5 1391.3,1335.0 1394.2,1333.2 C1397.0,1331.3 1399.3,1328.7 1402.2,1326.6 C1405.0,1324.4 1408.5,1322.4 1411.2,1320.2 C1413.9,1317.9 1415.7,1316.5 1418.2,1313.2 C1420.7,1309.8 1423.5,1304.6 1426.2,1300.1 C1428.9,1295.6 1431.5,1291.0 1434.2,1286.1 C1436.9,1281.3 1439.5,1276.0 1442.2,1271.1 C1444.9,1266.2 1447.2,1261.8 1450.2,1256.5 C1453.2,1251.2 1457.2,1244.2 1460.2,1239.1 C1463.2,1234.0 1465.6,1229.9 1468.2,1226.1 C1470.9,1222.2 1473.9,1219.3 1476.2,1216.1 C1478.6,1212.8 1480.3,1208.9 1482.3,1206.4 C1484.3,1203.9 1486.3,1202.4 1488.3,1201.0 C1490.3,1199.7 1491.9,1199.2 1494.3,1198.4 C1496.6,1197.7 1499.4,1197.5 1502.3,1196.6 C1505.1,1195.7 1508.6,1193.4 1511.3,1193.0 C1514.0,1192.7 1515.8,1193.8 1518.3,1194.4 C1520.8,1195.0 1523.3,1195.6 1526.3,1196.6 C1529.3,1197.7 1533.3,1199.1 1536.3,1200.6 C1539.3,1202.2 1541.6,1204.3 1544.3,1206.0 C1547.0,1207.8 1549.7,1209.4 1552.3,1211.1 C1555.0,1212.7 1557.7,1214.7 1560.3,1216.1 C1563.0,1217.5 1566.0,1218.7 1568.3,1219.5 C1570.7,1220.2 1572.3,1220.6 1574.3,1220.7 C1576.3,1220.8 1578.0,1219.9 1580.4,1220.1 C1582.7,1220.2 1585.7,1221.1 1588.4,1221.7 C1591.0,1222.3 1594.0,1222.7 1596.4,1223.7 C1598.7,1224.7 1600.4,1226.0 1602.4,1227.7 C1604.4,1229.3 1606.4,1232.0 1608.4,1233.7 C1610.4,1235.3 1612.0,1236.4 1614.4,1237.7 C1616.7,1238.9 1620.2,1240.1 1622.4,1241.1 C1624.6,1242.1 1625.1,1242.8 1627.4,1243.7 C1629.7,1244.6 1632.9,1244.7 1636.4,1246.5 C1639.9,1248.3 1644.9,1252.6 1648.3,1254.6 C1651.6,1256.6 1653.6,1257.5 1656.3,1258.6 C1658.9,1259.7 1661.6,1260.5 1664.3,1261.2 C1666.9,1261.9 1669.3,1262.6 1672.3,1262.8 C1675.3,1263.1 1679.3,1262.3 1682.3,1262.6 C1685.3,1262.9 1687.6,1263.6 1690.3,1264.6 C1693.0,1265.6 1695.6,1268.2 1698.3,1268.6 C1701.0,1269.1 1703.6,1268.1 1706.3,1267.2 C1709.0,1266.3 1711.7,1264.9 1714.3,1263.2 C1717.0,1261.6 1719.7,1259.6 1722.3,1257.2 C1725.0,1254.9 1727.7,1252.2 1730.3,1249.2 C1733.0,1246.2 1735.7,1242.0 1738.3,1239.2 C1741.0,1236.4 1743.7,1234.0 1746.4,1232.2 C1749.0,1230.4 1751.4,1229.6 1754.4,1228.2 C1757.4,1226.8 1761.4,1225.0 1764.4,1223.8 C1767.4,1222.6 1769.4,1222.0 1772.4,1221.2 C1775.4,1220.4 1779.4,1220.1 1782.4,1219.2 C1785.4,1218.3 1787.7,1216.8 1790.4,1215.8 C1793.1,1214.8 1795.4,1213.8 1798.4,1213.2 C1801.4,1212.6 1805.2,1212.3 1808.4,1212.2 C1811.7,1212.1 1814.7,1213.0 1818.0,1212.6 C1821.3,1212.2 1824.7,1211.2 1828.0,1209.8 C1831.4,1208.3 1834.7,1205.7 1838.0,1203.8 C1841.4,1201.8 1845.0,1199.5 1848.0,1198.2 C1851.1,1196.8 1853.4,1196.8 1856.1,1195.8 C1858.7,1194.8 1861.4,1193.4 1864.1,1192.2 C1866.7,1191.0 1869.4,1190.1 1872.1,1188.5 C1874.7,1187.0 1877.4,1184.9 1880.1,1183.1 C1882.7,1181.4 1885.4,1179.6 1888.1,1178.1 C1890.8,1176.7 1893.4,1175.8 1896.1,1174.5 C1898.8,1173.3 1901.4,1171.6 1904.1,1170.5 C1906.8,1169.5 1909.8,1168.6 1912.1,1168.1 C1914.4,1167.7 1916.1,1167.6 1918.1,1167.7 C1920.1,1167.9 1922.1,1168.7 1924.1,1169.1 C1926.1,1169.6 1927.8,1170.2 1930.1,1170.5 C1932.5,1170.9 1935.5,1171.3 1938.1,1171.1 C1940.8,1171.0 1943.5,1169.8 1946.1,1169.7 C1948.8,1169.6 1951.5,1170.2 1954.2,1170.5 C1956.8,1170.9 1959.5,1171.3 1962.2,1171.7 C1964.8,1172.2 1967.5,1172.4 1970.2,1173.1 C1972.8,1173.9 1975.5,1175.0 1978.2,1176.1 C1980.8,1177.3 1983.5,1178.9 1986.2,1180.1 C1988.9,1181.4 1991.2,1182.5 1994.2,1183.7 C1997.2,1185.0 2001.2,1186.0 2004.2,1187.7 C2007.2,1189.5 2009.5,1192.1 2012.2,1194.2 C2014.9,1196.2 2017.6,1198.0 2020.2,1200.2 C2022.9,1202.3 2025.9,1205.1 2028.2,1207.2 C2030.6,1209.2 2031.9,1210.8 2034.2,1212.6 C2036.6,1214.3 2039.6,1215.9 2042.2,1217.8 C2044.9,1219.6 2047.6,1221.9 2050.3,1223.8 C2052.9,1225.7 2055.6,1227.4 2058.3,1229.2 C2060.9,1231.0 2063.6,1232.8 2066.3,1234.6 C2068.9,1236.4 2071.6,1238.1 2074.3,1239.8 C2076.9,1241.5 2079.9,1243.3 2082.3,1244.6 C2084.6,1245.9 2086.0,1246.9 2088.3,1247.8 C2090.6,1248.7 2093.6,1249.5 2096.3,1250.2 C2099.0,1250.9 2101.6,1251.4 2104.3,1251.8 C2107.0,1252.2 2109.6,1252.6 2112.3,1252.6 C2115.0,1252.6 2117.3,1252.1 2120.3,1251.8 C2123.3,1251.5 2127.0,1251.6 2130.3,1250.8 C2133.7,1250.0 2137.0,1248.3 2140.3,1247.2 C2143.7,1246.1 2147.0,1245.4 2150.4,1244.2 C2153.7,1243.0 2157.0,1241.5 2160.4,1239.8 C2163.7,1238.1 2167.0,1236.0 2170.4,1234.2 C2173.7,1232.4 2177.0,1230.9 2180.4,1229.2 C2183.7,1227.5 2187.1,1225.5 2190.4,1223.8 C2193.7,1222.1 2197.4,1220.6 2200.4,1219.2 C2203.4,1217.7 2206.1,1216.7 2208.4,1215.2 C2210.7,1213.6 2211.8,1212.1 2214.4,1209.8 C2217.0,1207.4 2221.1,1204.2 2224.0,1201.3 C2227.0,1198.3 2229.4,1195.0 2232.0,1191.8 C2234.7,1188.7 2237.4,1185.7 2240.0,1182.2 C2242.7,1178.8 2245.4,1175.1 2248.0,1171.2 C2250.7,1167.4 2253.4,1163.5 2256.1,1159.2 C2258.7,1154.9 2261.4,1149.9 2264.1,1145.2 C2266.7,1140.5 2269.4,1135.8 2272.1,1131.2 C2274.7,1126.6 2277.4,1121.8 2280.1,1117.8 C2282.7,1113.8 2285.4,1110.8 2288.1,1107.2 C2290.8,1103.6 2293.4,1099.6 2296.1,1096.1 C2298.8,1092.7 2301.4,1089.5 2304.1,1086.5 C2306.8,1083.5 2309.6,1080.9 2312.1,1078.1 C2314.6,1075.4 2316.4,1073.1 2319.1,1069.9 C2321.8,1066.8 2325.3,1062.6 2328.1,1059.3 C2331.0,1056.1 2333.5,1053.0 2336.1,1050.3 C2338.8,1047.7 2341.5,1045.8 2344.1,1043.3 C2346.8,1040.8 2349.5,1038.2 2352.2,1035.3 C2354.8,1032.5 2357.5,1029.8 2360.2,1026.3 C2362.8,1022.8 2365.5,1018.6 2368.2,1014.3 C2370.8,1010.0 2373.5,1005.0 2376.2,1000.3 C2378.8,995.6 2381.5,991.1 2384.2,986.3 C2386.9,981.4 2389.5,975.9 2392.2,971.3 C2394.9,966.6 2397.5,962.7 2400.2,958.2 C2402.9,953.7 2405.9,947.7 2408.2,944.2 C2410.5,940.7 2412.2,939.9 2414.2,937.2 C2416.2,934.5 2418.1,930.4 2420.2,928.2 C2422.4,926.0 2424.6,926.5 2427.2,924.2 C2429.9,921.9 2433.1,918.2 2436.2,914.2 C2439.4,910.2 2442.9,904.7 2446.2,900.2 C2449.6,895.7 2452.9,891.2 2456.3,887.2 C2459.6,883.2 2462.9,880.5 2466.3,876.2 C2469.6,871.8 2472.9,865.8 2476.3,861.1 C2479.6,856.5 2483.3,852.1 2486.3,848.1 C2489.3,844.1 2491.6,841.1 2494.3,837.1 C2497.0,833.1 2499.6,828.8 2502.3,824.1 C2505.0,819.4 2507.8,814.1 2510.3,809.1 C2512.8,804.1 2515.1,799.2 2517.3,794.1 C2519.5,788.9 2521.5,783.7 2523.3,778.1 C2525.2,772.4 2526.7,766.0 2528.3,760.0 C2530.0,754.0 2531.8,747.7 2533.3,742.0 C2534.9,736.4 2536.2,731.5 2537.7,726.2 C2539.3,720.9 2541.0,715.8 2542.7,710.2 C2544.5,704.5 2546.2,697.8 2548.1,692.1 C2550.0,686.5 2552.1,681.3 2554.1,676.1 C2556.1,670.9 2558.1,665.8 2560.1,661.1 C2562.1,656.4 2563.8,652.9 2566.1,648.1 C2568.5,643.2 2571.5,637.6 2574.2,632.1 C2576.8,626.6 2579.5,620.6 2582.2,615.1 C2584.8,609.5 2587.8,603.2 2590.2,599.0 C2592.5,594.9 2594.5,592.9 2596.2,590.0 C2597.8,587.2 2598.5,584.7 2600.2,582.0 C2601.8,579.4 2606.9,572.6 2606.2,574.0 C2605.5,575.4 2597.2,589.0 2596.2,590.3 C2595.2,591.7 2598.7,584.8 2600.2,582.3 C2601.7,579.8 2603.5,578.3 2605.2,575.3 C2606.9,572.3 2608.5,567.7 2610.2,564.3 C2611.9,561.0 2613.2,558.3 2615.2,555.3 C2617.2,552.3 2619.7,549.3 2622.2,546.3 C2624.7,543.3 2627.5,540.1 2630.2,537.3 C2632.9,534.5 2635.5,532.1 2638.2,529.3 C2640.9,526.4 2643.6,522.8 2646.2,520.3 C2648.9,517.8 2651.6,516.3 2654.2,514.3 C2656.9,512.2 2659.9,509.5 2662.2,507.9 C2664.6,506.2 2666.2,505.7 2668.2,504.3 C2670.3,502.8 2672.1,500.7 2674.3,499.2 C2676.4,497.8 2679.3,496.2 2681.3,495.8 C2683.3,495.4 2684.4,496.2 2686.3,496.8 C2688.1,497.5 2690.3,498.9 2692.3,499.8 C2694.3,500.8 2696.3,501.4 2698.3,502.3 C2700.3,503.2 2702.4,503.8 2704.3,505.3 C2706.1,506.8 2707.6,509.1 2709.3,511.3 C2711.0,513.4 2712.6,515.6 2714.3,518.3 C2716.0,520.9 2717.5,524.8 2719.3,527.3 C2721.1,529.8 2723.1,531.0 2725.3,533.3 C2727.5,535.5 2729.8,538.5 2732.3,540.7 C2734.8,542.9 2737.7,544.8 2740.3,546.3 C2743.0,547.8 2746.0,549.3 2748.3,549.9 C2750.7,550.5 2752.2,549.7 2754.3,549.7 C2756.5,549.7 2759.0,548.8 2761.3,549.7 C2763.7,550.6 2765.8,553.4 2768.3,555.3 C2770.9,557.2 2773.7,559.5 2776.4,561.3 C2779.0,563.1 2781.7,564.9 2784.4,566.3 C2787.0,567.8 2790.0,568.9 2792.4,569.9 C2794.7,570.9 2796.7,571.9 2798.4,572.3 C2800.0,572.7 2800.7,571.8 2802.4,572.3 C2804.1,572.8 2806.1,574.3 2808.4,575.3 C2810.7,576.3 2813.7,577.3 2816.4,578.3 C2819.1,579.3 2821.7,579.9 2824.4,581.3 C2827.1,582.7 2830.1,585.2 2832.4,586.7 C2834.7,588.2 2835.4,588.8 2838.0,590.3 C2840.6,591.9 2844.7,594.3 2848.0,595.9 C2851.4,597.5 2854.9,599.2 2858.0,599.9 C2861.2,600.7 2864.4,601.1 2867.0,600.3 C2869.7,599.6 2871.6,597.3 2874.1,595.3 C2876.6,593.3 2879.1,590.1 2882.1,588.3 C2885.1,586.5 2888.7,585.7 2892.1,584.7 C2895.4,583.7 2898.7,583.0 2902.1,582.3 C2905.4,581.6 2909.1,580.7 2912.1,580.3 C2915.1,579.9 2917.3,579.8 2920.1,579.9 C2922.9,580.0 2926.6,580.0 2929.1,580.7 C2931.6,581.4 2933.1,582.9 2935.1,583.9 C2937.1,584.9 2939.1,586.1 2941.1,586.7 C2943.1,587.4 2945.1,588.1 2947.1,587.7 C2949.1,587.3 2951.1,585.9 2953.1,584.3 C2955.1,582.7 2957.0,580.8 2959.1,578.3 C2961.3,575.8 2963.3,572.1 2966.1,569.3 C2969.0,566.5 2972.8,564.0 2976.2,561.3 C2979.5,558.6 2983.2,556.3 2986.2,553.3 C2989.2,550.3 2991.7,545.8 2994.2,543.3 C2996.7,540.8 2998.8,539.6 3001.2,538.3 C3003.5,536.9 3005.9,535.9 3008.2,535.3 C3010.5,534.6 3012.9,535.0 3015.2,534.3 C3017.5,533.5 3019.7,532.2 3022.2,530.7 C3024.7,529.2 3027.5,526.9 3030.2,525.3 C3032.9,523.6 3035.5,521.7 3038.2,520.7 C3040.9,519.6 3043.7,519.0 3046.2,518.8 C3048.7,518.7 3050.9,518.8 3053.2,519.8 C3055.6,520.9 3057.9,523.5 3060.2,525.3 C3062.6,527.0 3064.9,529.3 3067.2,530.3 C3069.6,531.2 3071.9,530.9 3074.3,530.9 C3076.6,530.9 3078.9,530.0 3081.3,530.3 C3083.6,530.5 3085.8,531.1 3088.3,532.3 C3090.8,533.4 3093.6,535.6 3096.3,537.3 C3098.9,538.9 3101.9,540.6 3104.3,542.3 C3106.6,543.9 3108.3,545.3 3110.3,547.3 C3112.3,549.3 3114.0,552.3 3116.3,554.3 C3118.6,556.3 3121.6,556.9 3124.3,559.3 C3127.0,561.7 3129.6,564.9 3132.3,568.7 C3135.0,572.5 3137.7,577.6 3140.3,581.9 C3143.0,586.2 3145.7,590.4 3148.3,594.3 C3151.0,598.2 3153.7,602.0 3156.3,605.3 C3159.0,608.7 3162.0,611.6 3164.3,614.3 C3166.7,617.1 3168.3,619.5 3170.4,621.7 C3172.4,623.8 3174.4,625.5 3176.4,627.1 C3178.4,628.6 3180.4,630.2 3182.4,631.1 C3184.4,632.0 3186.4,632.4 3188.4,632.5 C3190.4,632.6 3192.4,632.4 3194.4,631.7 C3196.4,630.9 3198.2,629.3 3200.4,628.1 C3202.5,626.9 3205.1,625.2 3207.4,624.5 C3209.7,623.7 3212.2,623.7 3214.4,623.7 C3216.6,623.6 3218.4,623.8 3220.4,624.1 C3222.4,624.3 3224.4,625.0 3226.4,625.1 C3228.4,625.1 3230.7,624.9 3232.4,624.5 C3234.1,624.0 3234.7,624.5 3236.4,622.5 C3238.2,620.4 3240.6,615.7 3243.0,612.0 C3245.4,608.3 3248.4,603.7 3250.7,600.0 C3253.0,596.3 3254.8,593.3 3257.1,590.1 C3259.3,586.8 3261.6,584.1 3264.1,580.5 C3266.6,576.9 3269.4,573.1 3272.1,568.5 C3274.8,563.8 3277.4,557.6 3280.1,552.4 C3282.8,547.3 3285.5,542.4 3288.1,537.4 C3290.8,532.4 3293.5,527.2 3296.1,522.4 C3298.8,517.6 3301.5,512.9 3304.1,508.4 C3306.8,503.9 3309.5,499.7 3312.2,495.4 C3314.8,491.0 3317.5,486.8 3320.2,482.3 C3322.8,477.8 3325.5,472.5 3328.2,468.3 C3330.8,464.1 3333.5,461.0 3336.2,457.3 C3338.9,453.6 3341.5,449.3 3344.2,446.3 C3346.9,443.3 3349.5,441.3 3352.2,439.3 C3354.9,437.3 3357.6,436.2 3360.2,434.3 C3362.9,432.4 3365.7,429.5 3368.2,427.9 C3370.7,426.3 3373.1,425.3 3375.2,424.7 C3377.4,424.1 3379.3,423.8 3381.3,424.3 C3383.3,424.7 3385.1,426.1 3387.3,427.3 C3389.4,428.4 3392.1,430.9 3394.3,431.3 C3396.4,431.6 3398.3,430.4 3400.3,429.3 C3402.3,428.1 3404.3,426.2 3406.3,424.3 C3408.3,422.4 3410.3,419.9 3412.3,417.8 C3414.3,415.8 3416.3,413.9 3418.3,412.2 C3420.3,410.6 3422.3,408.8 3424.3,407.8 C3426.3,406.9 3428.3,407.2 3430.3,406.6 C3432.3,406.1 3434.3,405.0 3436.3,404.6 C3438.3,404.2 3441.3,404.3 3442.3,404.2"/>
<polyline class="ln" stroke="#808080" points="193.0,2042.2 193.6,2022.2 195.0,2023.2 196.4,2027.2 197.6,2018.1 198.8,2013.1 200.0,2014.1 201.2,2018.1 202.4,2013.1 204.0,2010.1 205.6,2008.1 206.8,2011.1 208.0,2010.1 208.6,1992.1 209.6,1983.1 211.2,1982.5 212.4,1986.1 213.2,1979.1 214.0,1976.1 215.2,1979.1 216.0,1990.1 217.2,1983.1 218.4,1984.1 219.6,1991.1 221.2,1992.1 222.8,1995.1 224.4,1994.1 226.0,1995.1 227.2,1994.1 228.0,1984.1 228.8,1973.1 230.1,1972.1 231.3,1978.1 232.5,1972.1 234.1,1971.7 234.9,2002.1 234.3,2008.1 235.7,2003.1 236.9,2010.1 238.1,2006.1 238.9,2022.2 240.1,2010.1 241.3,2005.1 242.9,2006.1 243.7,2022.2 244.5,2040.2 246.1,2039.2 247.3,2034.2 248.5,2033.2 249.7,2038.2 250.9,2042.6 252.1,2036.2 253.3,2026.2 254.1,2020.2 255.3,2030.2 256.1,2035.8 257.3,2035.2 258.1,2029.2 259.3,2028.2 260.1,2050.2 260.9,2059.2 262.1,2052.2 263.3,2047.2 264.5,2047.8 265.7,2036.2 266.5,2030.2 267.7,2039.2 268.9,2038.2 270.1,2042.6 271.3,2046.2 272.9,2046.6 274.5,2047.2 276.1,2044.2 277.3,2034.2 278.5,2031.8 280.1,2031.2 281.3,2036.2 282.1,2046.2 283.3,2042.2 284.9,2043.2 285.7,2062.2 286.5,2072.2 287.7,2074.2 288.5,2080.2 289.7,2090.2 290.9,2100.2 292.1,2103.2 292.9,2086.2 293.7,2069.2 295.3,2068.6 296.1,2084.2 297.3,2089.2 298.5,2088.2 299.7,2079.2 300.9,2090.2 302.1,2089.2 303.3,2085.2 304.1,2054.2 304.9,2042.2 306.1,2043.2 307.3,2046.2 308.1,2062.2 309.3,2065.2 310.5,2063.2 311.7,2060.2 312.5,2050.2 313.7,2040.2 315.3,2039.2 316.9,2038.2 318.1,2054.2 318.9,2076.2 320.1,2078.2 321.3,2062.2 322.5,2070.2 323.7,2083.2 324.5,2068.2 325.3,2054.2 326.5,2053.2 327.7,2041.2 328.9,2046.2 329.7,2060.2 331.4,2059.2 333.0,2069.2 334.2,2057.2 335.4,2065.2 336.6,2054.2 338.2,2055.2 339.4,2063.2 340.6,2059.2 342.2,2060.2 343.8,2058.2 344.6,2040.2 345.4,2029.2 347.0,2028.2 348.2,2032.2 349.8,2051.2 351.0,2040.2 352.6,2037.2 353.8,2034.2 355.0,2030.2 356.2,2027.2 357.8,2026.6 359.4,2041.2 360.6,2030.2 362.2,2029.2 363.8,2025.2 364.6,2010.1 365.4,1990.1 367.0,1989.7 368.2,1990.1 369.8,1990.1 371.0,2001.1 371.8,1976.1 373.4,1975.1 375.0,1974.5 376.2,1972.1 377.0,1945.1 378.6,1946.1 379.4,1955.1 380.8,1951.1 381.0,1926.1 382.2,1925.1 383.8,1930.1 385.0,1934.1 386.2,1930.1 388.2,1932.5 389.8,1934.1 391.0,1948.1 392.2,1933.1 393.8,1939.1 395.4,1938.1 397.0,1929.7 398.2,1936.1 399.4,1939.1 400.6,1946.1 402.2,1947.1 403.4,1954.1 404.6,1964.1 405.8,1957.1 407.0,1957.7 408.2,1973.1 409.4,1969.1 410.6,1970.1 411.8,1985.7 413.0,1984.1 414.6,1983.1 416.2,1974.1 417.4,1973.7 418.2,1998.1 419.8,1998.5 421.0,1994.1 422.2,1966.1 423.4,1964.5 425.0,1965.7 426.6,1967.1 427.8,1970.1 429.0,1977.1 430.3,1976.1 431.5,1968.1 432.7,1967.7 433.9,1954.1 435.5,1953.7 437.1,1958.1 438.3,1974.1 439.5,1979.1 441.1,1980.1 442.3,1991.1 443.5,1992.1 444.7,1986.1 446.3,1982.1 447.9,1982.5 449.1,1991.1 450.7,1990.1 452.3,1991.7 453.5,2010.1 454.3,2021.8 455.5,2018.1 457.1,2013.1 458.7,2014.1 460.3,2017.1 461.9,2016.1 462.7,2006.1 463.9,1999.1 465.1,2014.1 466.3,2018.1 467.5,2022.2 468.7,2017.1 469.9,2006.1 471.1,2007.1 472.3,2014.1 473.5,2010.1 474.7,2000.1 476.3,1999.7 477.9,1999.1 479.1,1997.1 480.3,2010.1 481.5,2019.1 483.1,2021.2 484.3,2014.1 485.1,2009.1 486.3,2018.1 487.9,2016.1 489.5,2010.1 490.7,2010.5 491.9,2017.1 493.5,2017.7 494.3,2028.2 495.5,2030.2 496.7,2042.2 497.5,2057.2 499.1,2057.8 499.9,2070.2 500.7,2086.2 501.9,2080.2 503.1,2078.2 503.9,2062.2 505.1,2052.6 505.9,2070.2 507.1,2078.2 508.7,2079.2 510.3,2077.2 511.5,2073.2 513.1,2075.2 514.7,2074.2 515.9,2067.2 517.5,2067.8 519.1,2066.2 519.9,2054.2 521.5,2052.6 522.7,2053.8 523.9,2057.2 525.5,2059.2 526.7,2064.2 527.9,2065.2 529.1,2066.2 530.4,2063.8 531.2,2082.2 532.0,2092.2 533.2,2089.2 534.4,2080.2 535.6,2072.2 536.4,2071.2 537.2,2086.2 538.0,2087.2 538.4,2110.2 539.2,2134.3 540.0,2150.3 540.8,2204.3 541.6,2170.3 542.8,2150.3 544.0,2146.3 545.2,2136.3 546.4,2130.3 547.6,2106.2 548.8,2104.2 550.0,2103.2 551.2,2095.2 552.8,2098.2 554.4,2093.2 556.0,2094.2 557.6,2088.2 558.8,2097.2 560.4,2095.2 561.6,2100.2 562.8,2110.2 564.4,2122.3 565.6,2118.2 566.8,2106.2 568.4,2102.2 570.0,2104.2 571.6,2099.2 572.8,2100.2 574.0,2086.2 575.6,2090.2 576.8,2085.2 578.4,2083.2 579.6,2080.2 580.8,2089.2 582.4,2086.2 584.0,2085.2 585.2,2082.2 586.8,2080.6 588.0,2082.2 589.2,2090.2 590.0,2112.2 591.6,2111.2 592.8,2106.2 594.0,2110.2 595.2,2128.3 596.4,2120.3 597.6,2108.2 598.8,2105.2 600.0,2102.2 601.2,2109.2 602.8,2106.2 604.0,2098.2 605.2,2085.2 606.8,2082.2 608.0,2082.6 609.2,2079.8 610.8,2080.2 612.0,2076.2 613.2,2074.2 614.0,2062.2 615.2,2061.8 616.8,2063.2 618.4,2062.6 620.0,2063.8 621.6,2066.2 623.2,2067.2 624.4,2068.2 625.2,2072.6 626.4,2064.2 628.0,2063.2 629.2,2060.2 630.4,2059.2 631.2,2050.2 632.0,2044.2 633.6,2043.2 635.2,2046.2 636.4,2045.2 637.2,2036.2 638.8,2034.2 640.1,2030.2 641.3,2029.2 642.5,2034.2 643.7,2035.2 644.9,2029.2 646.1,2030.2 647.3,2042.2 648.5,2041.2 649.3,2034.2 650.5,2035.2 651.7,2040.2 652.5,2053.2 654.1,2053.8 655.3,2055.2 656.5,2056.2 657.3,2038.2 658.1,2037.8 659.3,2051.2 660.9,2050.2 662.5,2048.2 664.1,2046.2 665.3,2044.2 666.1,2059.2 667.3,2059.8 668.5,2050.2 670.1,2047.2 671.3,2046.6 672.5,2048.2 673.7,2061.2 674.9,2062.2 676.5,2061.8 678.1,2056.2 679.3,2044.2 680.5,2045.2 681.7,2036.2 683.3,2032.2 684.9,2030.2 686.5,2029.2 687.7,2030.2 688.9,2034.2 689.7,2042.6 691.3,2043.2 692.5,2041.2 693.7,2040.2 694.9,2051.2 696.1,2052.2 697.3,2058.2 698.1,2051.2 699.7,2050.2 701.3,2047.8 702.5,2052.2 703.7,2067.2 705.3,2067.8 706.9,2067.2 708.1,2069.2 709.3,2062.2 710.9,2061.8 712.1,2078.2 713.7,2077.2 714.5,2066.2 715.7,2076.2 716.9,2074.2 718.1,2068.2 718.9,2056.2 720.1,2065.2 721.3,2077.2 722.5,2069.2 723.7,2068.6 724.9,2078.2 725.7,2099.8 726.9,2090.2 728.1,2089.8 729.7,2085.2 730.9,2079.2 732.5,2077.8 733.7,2086.6 734.9,2080.2 736.1,2062.2 737.3,2061.2 738.9,2060.2 740.2,2067.2 741.4,2052.6 743.0,2051.8 744.2,2049.2 745.4,2056.2 746.6,2048.2 747.8,2057.2 749.0,2047.2 750.2,2058.2 751.0,2036.2 752.2,2034.6 753.4,2035.2 755.0,2035.8 756.6,2051.8 758.2,2051.2 759.4,2050.2 760.6,2041.8 761.8,2040.2 763.0,2034.2 764.2,2032.2 765.4,2029.2 766.2,2014.1 767.0,2010.1 767.8,1994.1 769.0,1992.1 770.2,1984.1 771.4,1998.1 772.6,1997.7 773.4,1988.1 774.6,1981.1 775.8,1975.1 777.0,1985.1 778.2,1974.1 779.4,1987.1 780.2,1968.1 781.8,1968.5 783.0,1980.1 783.8,1969.1 785.0,1978.1 786.2,1979.1 787.0,1958.1 788.2,1947.1 789.8,1946.5 791.0,1949.1 791.8,1966.1 792.6,1990.1 793.8,1991.1 795.0,1986.1 796.2,1986.5 797.0,2006.1 798.2,2018.1 799.4,2020.2 800.6,2017.1 801.8,2028.2 803.0,2029.2 804.2,2010.1 805.8,2009.1 807.0,2012.1 808.2,2000.1 809.4,1997.1 810.6,1998.1 811.8,1990.1 813.0,2010.1 814.2,2014.1 815.4,2018.1 816.6,2019.1 817.8,2024.2 819.0,2024.6 820.2,2009.1 821.8,2008.1 823.0,2010.1 824.2,2022.2 825.4,2022.6 826.2,2010.1 827.4,1998.1 828.6,1999.1 829.8,2016.1 831.0,2015.1 832.6,2015.7 833.8,1998.1 835.0,1997.7 836.2,2010.1 837.8,2008.1 839.4,2007.1 841.1,2008.1 842.7,2007.7 843.9,2008.1 844.7,2036.2 845.9,2046.2 847.1,2050.2 848.3,2053.2 849.5,2053.8 850.7,2043.2 852.3,2042.6 853.9,2042.2 855.1,2032.2 856.3,2019.1 857.9,2018.1 859.5,2024.2 860.3,2010.1 861.1,1975.1 862.3,1976.1 863.5,1979.7 864.7,1979.1 866.3,1980.1 867.9,1979.1 868.7,1969.1 870.3,1968.1 871.5,1976.1 873.1,1975.1 874.3,1974.1 875.9,1974.5 876.7,1957.1 877.9,1955.7 879.1,1956.1 879.9,2001.1 880.7,1976.1 882.3,1977.1 883.5,1995.1 884.7,1984.1 885.9,1990.1 887.1,2002.1 888.3,1989.1 889.9,1989.7 891.1,2002.1 892.3,2015.1 893.9,2010.1 895.1,2002.1 896.3,2008.1 897.1,1986.1 898.3,1985.7 899.5,1990.1 901.1,1989.1 902.7,1986.1 903.9,1995.1 905.5,1996.1 906.7,2004.1 907.9,2010.1 908.7,2027.2 909.9,2026.2 911.1,2027.8 912.3,2015.1 913.5,2014.1 914.7,2017.1 915.9,2020.2 916.7,2042.2 917.9,2051.2 919.1,2044.2 920.3,2045.8 921.1,2062.2 922.3,2064.2 923.1,2080.2 924.3,2097.2 925.9,2096.2 927.1,2089.2 928.3,2106.2 929.5,2113.2 931.1,2110.2 932.7,2100.2 934.3,2101.2 935.9,2102.2 937.1,2113.2 938.3,2103.2 939.1,2102.2 939.9,2127.9 941.6,2124.3 942.8,2106.2 944.0,2086.2 945.6,2084.2 946.8,2072.2 948.4,2064.2 950.0,2063.2 951.2,2068.2 952.4,2067.2 953.6,2055.2 954.8,2068.2 956.4,2069.2 958.0,2072.2 959.2,2073.2 960.4,2096.2 961.6,2124.3 962.8,2125.3 963.6,2132.3 964.8,2144.3 966.0,2128.3 966.8,2106.2 968.0,2103.2 968.8,2124.3 970.0,2112.2 970.8,2110.2 971.6,2088.2 972.8,2086.2 973.6,2089.2 974.8,2078.2 976.4,2074.2 977.6,2073.2 979.2,2072.2 980.4,2072.6 981.6,2099.2 983.2,2096.2 984.0,2058.2 985.2,2059.2 986.4,2073.2 987.6,2072.6 988.8,2071.2 989.6,2039.2 990.8,2040.2 992.0,2043.2 993.2,2044.2 994.4,2068.2 995.6,2069.2 996.8,2070.2 998.0,2064.2 999.2,2063.2 1000.4,2079.2 1001.6,2078.2 1002.4,2061.2 1003.6,2062.2 1004.8,2057.2 1006.0,2056.2 1007.2,2069.2 1008.4,2068.2 1009.6,2062.2 1010.4,2039.2 1011.6,2038.2 1012.8,2046.2 1013.6,2034.2 1014.8,2032.2 1016.0,2027.2 1017.2,2028.2 1018.0,2000.2 1018.8,1987.1 1020.0,1986.1 1021.2,1989.1 1022.0,1972.1 1022.8,1968.1 1023.6,1978.1 1024.8,1975.1 1026.0,1980.1 1027.2,1978.1 1028.0,2005.2 1029.2,2002.2 1030.0,1983.1 1031.2,1982.5 1032.0,1994.2 1033.2,1997.2 1034.0,2020.2 1034.8,2024.2 1036.0,2020.2 1037.2,2037.2 1038.4,2036.2 1039.6,2030.2 1040.8,2024.2 1042.0,2023.8 1042.8,2042.2 1044.0,2046.2 1045.2,2049.2 1046.8,2048.2 1048.0,2048.6 1049.2,2038.2 1050.5,2037.2 1051.7,2038.2 1052.9,2046.2 1054.1,2048.2 1054.9,2073.2 1056.1,2072.2 1057.3,2074.2 1058.5,2082.2 1059.7,2083.2 1060.9,2080.2 1062.1,2083.2 1063.3,2084.2 1064.1,2068.2 1065.3,2055.2 1066.9,2054.2 1068.1,2044.2 1069.3,2033.2 1070.5,2034.2 1071.7,2042.2 1072.9,2051.2 1074.1,2050.2 1074.9,2034.2 1076.1,2029.2 1077.3,2021.2 1078.5,2022.2 1079.7,2028.2 1080.5,2039.2 1081.7,2027.2 1083.3,2040.2 1084.5,2039.8 1085.7,2028.2 1086.9,2027.2 1088.1,2027.8 1089.3,2029.2 1090.5,2037.2 1091.7,2054.2 1092.9,2040.2 1093.7,2016.2 1094.9,2015.8 1096.1,2040.2 1096.9,2053.2 1098.1,2053.8 1098.9,2035.2 1100.1,2034.2 1101.3,2036.2 1102.1,2045.2 1103.3,2044.2 1104.5,2044.6 1104.9,2006.2 1106.1,1993.2 1107.7,1992.2 1109.3,1990.6 1110.1,2010.2 1111.3,2016.2 1112.5,2017.2 1114.1,2014.2 1114.9,2039.2 1116.1,2038.2 1117.7,2037.2 1118.9,2032.2 1120.1,2031.2 1120.9,2046.2 1122.1,2057.2 1123.3,2057.8 1124.5,2056.6 1125.7,2048.2 1126.5,2038.2 1127.7,2037.2 1128.9,2043.2 1130.1,2042.6 1131.3,2041.2 1132.1,2016.2 1133.3,2016.6 1134.9,2018.2 1136.1,2042.2 1137.3,2051.2 1138.5,2051.8 1139.7,2042.2 1140.9,2041.8 1142.1,2058.2 1143.3,2057.2 1144.5,2052.2 1145.7,2051.8 1146.5,2070.2 1147.7,2071.2 1148.9,2059.2 1150.2,2059.8 1151.4,2066.2 1152.6,2076.2 1153.8,2096.3 1155.0,2097.3 1155.8,2139.3 1157.4,2138.3 1158.6,2137.9 1159.4,2124.3 1160.6,2125.3 1161.8,2119.3 1163.0,2124.3 1164.2,2123.3 1165.4,2112.3 1166.6,2111.3 1167.8,2118.3 1169.0,2117.3 1170.2,2106.3 1171.4,2103.3 1172.6,2086.2 1173.4,2073.2 1174.6,2075.2 1175.8,2079.2 1177.0,2077.2 1178.2,2074.2 1179.0,2052.2 1179.8,2036.2 1181.4,2035.8 1182.6,2044.2 1183.8,2056.2 1184.6,2066.2 1185.8,2057.2 1187.0,2052.2 1188.2,2051.2 1189.4,2060.2 1190.6,2065.2 1191.8,2067.2 1193.0,2066.2 1193.8,2076.2 1195.4,2075.2 1196.6,2073.8 1197.8,2074.6 1199.0,2073.2 1199.8,2046.2 1201.0,2045.2 1202.2,2044.2 1203.4,2056.2 1204.6,2055.2 1205.4,2032.2 1206.6,2037.2 1207.8,2038.2 1209.0,2056.2 1210.2,2066.2 1211.0,2046.2 1212.2,2045.2 1213.4,2046.2 1214.6,2043.2 1215.8,2042.2 1216.2,2024.2 1217.4,2023.2 1218.6,2022.6 1219.4,2006.2 1220.2,1994.2 1221.4,1995.2 1222.6,2000.2 1223.8,2002.2 1225.0,2000.2 1226.2,2010.2 1227.4,2012.6 1228.6,2013.2 1229.8,2009.2 1230.6,2010.2 1231.8,2032.2 1233.0,2036.2 1234.2,2037.2 1235.0,2055.2 1235.8,2072.2 1237.0,2091.3 1238.2,2091.9 1239.4,2087.2 1241.0,2089.2 1242.6,2090.3 1243.8,2089.8 1244.6,2102.3 1245.8,2102.7 1247.0,2088.2 1248.2,2091.3 1249.4,2099.3 1250.7,2089.2 1251.9,2092.3 1253.1,2104.3 1254.3,2091.3 1255.5,2088.2 1256.7,2102.3 1257.5,2101.3 1258.3,2070.2 1259.9,2069.2 1261.1,2082.2 1262.3,2080.2 1263.5,2079.2 1264.7,2076.2 1265.9,2088.2 1267.1,2076.2 1267.9,2094.3 1269.1,2095.3 1270.3,2078.2 1271.1,2067.2 1272.7,2068.2 1273.9,2067.8 1275.5,2066.2 1276.7,2072.2 1277.9,2078.2 1279.5,2077.2 1281.1,2076.2 1281.9,2062.2 1282.7,2033.2 1283.9,2034.2 1285.1,2036.2 1286.3,2046.2 1287.5,2045.2 1288.7,2058.2 1289.9,2048.2 1291.1,2049.2 1292.3,2048.2 1293.5,2037.2 1295.1,2036.2 1296.3,2035.2 1297.1,2027.2 1297.9,2011.2 1299.1,2021.2 1300.3,2016.2 1301.5,2015.2 1302.7,2006.2 1303.9,1980.1 1304.7,1960.1 1305.9,1958.1 1307.1,1944.1 1308.3,1938.1 1309.1,1888.0 1310.3,1887.6 1311.1,1920.1 1311.9,1900.1 1313.1,1937.7 1314.3,1911.1 1315.5,1910.1 1316.7,1934.1 1317.9,1933.7 1319.1,1915.1 1320.3,1915.7 1321.5,1924.1 1322.7,1913.1 1323.9,1916.1 1324.7,1894.1 1325.9,1895.1 1327.1,1910.1 1328.3,1899.1 1329.5,1900.1 1330.7,1901.1 1331.5,1920.1 1332.7,1926.1 1333.9,1936.1 1335.1,1915.1 1336.3,1916.1 1337.5,1930.1 1338.3,1925.1 1339.5,1936.1 1340.3,1954.1 1341.9,1955.1 1343.1,1956.1 1344.3,1940.1 1345.5,1941.1 1346.7,1956.1 1347.9,1950.1 1349.1,1961.1 1350.4,1952.1 1351.6,1947.1 1352.8,1948.1 1354.0,1938.1 1355.2,1939.1 1356.4,1959.1 1358.0,1958.1 1359.2,1956.1 1360.4,1948.1 1361.6,1950.1 1362.8,1959.1 1364.4,1961.1 1366.0,1956.1 1367.2,1952.1 1368.0,1927.1 1369.2,1928.1 1370.4,1932.1 1371.6,1941.1 1372.8,1938.1 1374.0,1939.1 1374.8,1952.1 1376.0,1953.1 1377.2,1954.1 1378.4,1954.5 1379.6,1950.1 1381.2,1949.1 1382.4,1962.1 1383.6,1965.1 1384.8,1966.1 1385.6,1980.1 1386.8,1984.1 1388.0,1988.1 1389.2,1991.2 1390.4,1993.2 1392.0,1990.2 1393.2,1989.1 1394.0,1973.1 1395.2,1972.1 1396.4,1973.7 1397.6,1962.1 1398.8,1960.1 1400.0,1958.1 1401.2,1954.1 1402.4,1952.1 1403.6,1950.1 1404.8,1949.1 1406.0,1960.1 1407.2,1972.1 1408.4,1973.1 1409.2,1945.1 1410.4,1944.1 1412.0,1948.1 1413.2,1942.1 1414.4,1938.1 1416.0,1937.1 1417.6,1932.1 1418.8,1931.1 1420.4,1932.1 1421.6,1935.1 1422.4,1949.1 1424.0,1950.1 1425.6,1952.1 1426.8,1955.1 1428.0,1961.1 1429.2,1957.1 1430.4,1960.1 1431.6,1962.1 1432.8,1964.1 1434.0,1958.1 1435.2,1951.1 1436.4,1949.7 1438.0,1947.1 1439.6,1948.1 1440.4,1960.1 1442.0,1961.1 1443.2,1958.1 1444.4,1957.1 1445.6,1962.1 1447.2,1963.1 1448.4,1960.1 1449.6,1958.1 1450.8,1957.1 1452.0,1963.1 1453.6,1965.1 1454.4,1972.1 1456.0,1974.1 1457.6,1974.5 1458.8,1980.1 1460.1,1981.1 1461.3,1974.1 1462.5,1973.1 1463.7,1962.1 1464.9,1961.1 1466.1,1968.1 1467.3,1974.1 1468.5,1974.5 1469.7,1978.1 1470.9,1982.1 1472.1,1984.5 1473.7,1985.1 1474.9,1980.1 1475.7,1970.1 1477.3,1969.1 1478.9,1968.5 1479.7,1969.1 1480.9,1978.1 1482.1,1982.1 1483.3,1984.1 1484.9,1986.1 1485.7,2018.2 1486.5,2031.2 1488.1,2031.8 1489.3,2030.2 1490.5,2034.2 1491.7,2037.2 1492.9,2039.2 1494.1,2040.2 1495.3,2039.2 1496.1,2026.2 1497.3,2025.2 1498.5,2027.2 1499.7,2030.2 1500.9,2029.2 1501.7,2022.2 1503.3,2021.2 1504.5,2022.2 1505.7,2020.2 1506.5,2004.2 1507.7,1995.2 1508.9,1994.6 1510.1,1996.2 1510.9,2016.2 1512.1,2021.2 1512.9,2040.2 1513.7,2067.2 1514.9,2068.2 1516.1,2072.2 1517.3,2066.2 1518.5,2077.2 1519.7,2084.2 1520.9,2077.2 1522.1,2078.2 1522.9,2104.3 1524.1,2103.3 1525.3,2090.3 1526.9,2091.3 1528.1,2107.3 1529.3,2106.3 1530.5,2100.3 1531.7,2102.3 1532.9,2099.9 1534.1,2110.3 1535.3,2109.3 1536.5,2104.3 1537.7,2105.3 1538.5,2119.3 1539.3,2125.3 1540.5,2114.3 1541.7,2112.3 1542.9,2113.3 1544.1,2114.3 1545.3,2109.3 1546.5,2107.3 1547.7,2100.3 1548.9,2087.2 1550.1,2086.6 1551.3,2092.3 1552.5,2088.2 1553.7,2070.2 1554.5,2068.2 1555.7,2073.2 1556.9,2071.2 1558.1,2060.2 1559.3,2056.2 1560.6,2054.2 1561.8,2053.2 1563.0,2042.2 1564.2,2041.2 1565.4,2050.2 1566.6,2048.2 1567.8,2040.2 1569.0,2039.8 1570.2,2057.2 1571.4,2056.6 1572.6,2055.2 1573.4,2045.2 1574.6,2040.2 1575.8,2036.2 1577.0,2037.2 1578.2,2029.2 1579.4,2025.8 1580.6,2025.2 1581.8,2033.2 1583.0,2029.2 1584.2,2035.2 1585.4,2030.2 1586.6,2027.2 1588.2,2028.2 1589.8,2027.2 1591.0,2026.2 1591.8,2016.2 1593.0,2015.2 1594.2,2016.2 1595.4,2019.2 1596.6,2022.2 1597.4,2028.2 1598.6,2027.2 1599.8,2033.2 1601.0,2045.2 1602.2,2046.2 1603.8,2043.2 1605.0,2045.8 1605.8,2030.2 1607.0,2027.2 1608.2,2026.2 1609.4,2024.2 1610.6,2015.2 1611.8,2014.2 1613.0,2016.2 1614.2,2014.2 1615.4,2009.2 1616.6,2011.2 1617.8,2016.2 1619.0,2012.2 1620.2,2009.2 1621.4,2007.2 1622.6,2007.8 1624.2,2006.2 1625.4,2005.2 1626.2,1984.1 1627.4,1983.1 1629.0,1983.7 1630.2,1983.1 1631.4,1980.1 1632.6,1984.1 1633.8,1983.1 1635.0,1982.5 1636.2,1996.2 1637.4,1997.2 1638.6,1992.2 1639.8,1991.8 1641.0,1998.2 1641.8,2000.2 1642.6,2019.2 1643.8,2021.2 1645.0,2020.2 1646.2,2022.2 1647.4,2026.2 1648.6,2020.2 1650.2,2019.2 1651.4,2016.2 1652.2,1990.2 1653.4,1989.1 1654.6,1994.2 1655.8,1989.1 1657.0,1998.2 1658.2,1996.2 1659.0,1983.1 1660.3,1982.5 1661.5,1981.1 1662.3,1984.1 1663.5,1980.1 1664.3,1968.1 1665.5,1967.1 1666.7,1960.1 1667.9,1952.5 1669.1,1964.1 1670.3,1977.1 1671.9,1977.7 1673.5,1977.1 1674.7,1988.1 1675.9,1989.1 1677.1,1999.2 1678.3,1998.2 1679.5,1992.2 1680.7,1987.1 1681.9,1985.7 1683.1,1998.2 1684.3,1992.2 1685.5,1995.2 1686.7,1999.2 1687.9,2000.2 1688.7,2019.2 1689.9,2012.2 1691.1,2027.2 1692.3,2026.2 1693.5,2021.2 1694.7,2022.2 1695.9,2019.2 1697.1,2008.2 1698.3,1994.2 1699.5,1993.2 1700.7,1981.1 1701.9,1982.1 1703.1,1987.1 1704.3,1978.1 1705.5,1986.1 1706.3,1968.1 1707.5,1967.7 1708.7,1969.1 1710.3,1970.1 1711.5,1971.1 1712.7,1982.1 1713.9,1983.1 1714.7,1980.1 1715.5,1956.1 1716.7,1953.1 1717.9,1954.1 1719.1,1956.1 1719.9,1972.1 1721.1,1960.1 1722.3,1956.1 1723.5,1961.1 1724.7,1954.1 1725.9,1960.1 1727.1,1959.1 1728.3,1956.1 1729.1,1955.1 1729.9,1933.1 1731.1,1932.1 1731.9,1917.1 1733.1,1916.1 1734.3,1914.1 1735.1,1900.1 1736.3,1908.1 1737.1,1891.1 1738.3,1894.1 1739.5,1898.1 1740.3,1917.1 1741.5,1926.1 1742.7,1921.1 1743.9,1934.1 1745.1,1948.1 1746.3,1947.1 1747.1,1969.1 1748.3,1969.7 1749.5,1949.1 1750.7,1948.1 1751.5,1968.1 1752.3,1980.1 1753.5,1984.1 1754.7,1988.1 1755.9,1997.2 1757.1,1996.2 1758.3,2002.2 1759.5,1992.2 1760.8,1980.1 1762.0,1972.1 1763.2,1970.1 1764.4,1958.5 1766.0,1959.1 1766.8,1978.1 1767.6,1989.1 1768.4,1977.7 1769.6,1978.1 1770.4,1989.1 1771.6,1988.1 1772.8,1994.2 1773.6,2010.2 1774.8,1998.2 1776.4,1999.2 1778.0,1998.2 1779.2,2007.2 1780.4,2006.2 1781.2,1991.2 1782.4,1990.2 1783.6,1988.1 1784.8,2001.2 1786.0,2001.8 1787.6,2000.2 1788.8,1999.2 1789.6,1978.5 1790.8,1979.1 1792.0,2002.2 1793.2,2001.2 1793.6,1980.1 1795.2,1981.1 1796.4,1979.7 1797.6,1978.1 1798.8,1978.5 1799.6,2007.2 1800.8,2006.2 1802.0,2000.2 1803.2,1999.8 1804.4,2028.2 1805.2,2049.2 1806.4,2050.2 1807.6,2057.2 1808.8,2052.2 1809.6,2039.2 1810.8,2037.2 1812.0,2035.2 1813.2,2028.2 1814.4,2024.2 1815.6,2019.2 1816.4,2008.2 1818.0,2007.8 1818.8,1996.2 1820.0,1978.1 1820.8,1966.5 1822.4,1966.1 1823.6,1947.1 1824.8,1946.1 1826.0,1940.1 1827.2,1955.1 1828.4,1958.1 1830.0,1958.1 1830.8,1944.1 1831.6,1924.1 1832.8,1923.7 1834.0,1923.1 1835.2,1928.1 1836.0,1943.1 1837.2,1943.7 1838.0,1939.1 1839.2,1938.1 1840.0,1924.1 1840.4,1906.1 1841.6,1906.5 1842.4,1920.1 1843.6,1923.1 1844.4,1938.1 1845.6,1928.1 1847.2,1928.5 1847.6,1949.1 1848.8,1949.7 1849.6,1943.1 1850.4,1958.1 1851.2,1969.1 1852.4,1972.1 1853.6,1973.1 1854.8,1972.5 1855.6,1960.1 1856.4,1931.1 1857.6,1930.5 1858.4,1940.1 1859.6,1941.1 1860.8,1942.1 1861.2,1968.1 1862.4,1969.1 1863.6,1960.1 1865.2,1960.5 1866.0,1978.1 1867.2,1980.1 1868.4,1978.1 1869.6,1978.5 1870.5,1962.1 1871.7,1961.7 1872.5,1977.7 1873.7,1977.1 1874.9,1976.1 1876.1,1973.1 1877.3,1972.5 1878.1,1988.1 1879.3,1989.1 1880.5,1992.2 1881.7,1993.2 1882.5,1966.1 1883.3,1945.1 1884.5,1944.1 1885.3,1938.1 1886.5,1938.5 1887.3,1978.1 1888.9,1978.5 1889.7,1957.1 1891.3,1957.7 1892.1,1978.1 1893.7,1978.5 1894.9,1970.1 1896.5,1969.7 1897.3,1943.1 1898.5,1943.7 1899.3,1969.7 1900.1,1954.1 1901.7,1952.1 1903.3,1951.7 1904.1,1960.1 1904.9,1972.1 1906.1,1973.1 1906.9,1988.1 1908.1,1989.1 1908.9,1999.8 1910.1,1990.2 1911.3,1990.6 1912.1,2010.2 1913.3,2019.2 1914.1,2004.2 1915.7,2005.2 1917.3,2006.2 1918.5,2006.6 1919.3,1994.2 1920.5,1994.6 1921.7,1997.2 1922.5,1998.2 1923.3,2038.2 1924.5,2037.2 1926.1,2036.2 1927.3,2033.2 1928.5,2035.2 1929.7,2016.2 1930.9,2017.2 1932.1,2020.2 1933.3,2021.2 1934.5,2020.2 1935.7,2031.2 1936.9,2032.2 1938.1,2033.8 1939.3,2028.2 1940.5,2027.2 1942.1,2024.2 1943.7,2022.2 1945.3,2020.2 1946.1,2021.2 1946.9,2055.2 1948.1,2056.2 1949.3,2060.2 1950.1,2071.2 1951.3,2071.8 1952.1,2066.2 1953.3,2065.8 1954.5,2080.2 1955.7,2095.3 1956.9,2096.3 1958.1,2088.2 1959.3,2101.3 1960.5,2079.2 1961.7,2078.2 1963.3,2077.8 1964.5,2077.2 1965.7,2098.3 1966.9,2097.3 1968.1,2090.3 1969.3,2092.7 1970.2,2111.3 1971.4,2114.3 1972.2,2115.3 1973.4,2107.3 1974.6,2108.3 1975.8,2097.3 1977.0,2106.3 1978.2,2104.3 1979.4,2099.3 1980.6,2099.9 1981.8,2110.3 1982.6,2114.7 1983.8,2109.3 1985.0,2102.3 1985.8,2109.3 1987.0,2100.3 1988.2,2099.9 1989.8,2099.3 1990.6,2112.3 1991.4,2119.3 1992.2,2130.3 1993.4,2129.3 1994.6,2116.3 1995.8,2110.3 1997.0,2102.3 1998.2,2109.3 1999.4,2090.3 2000.6,2083.8 2001.8,2088.2 2003.0,2092.7 2004.2,2087.2 2005.4,2088.2 2006.6,2094.7 2007.8,2086.2 2009.0,2085.8 2010.2,2087.2 2011.4,2085.2 2012.6,2075.8 2013.8,2084.2 2015.0,2083.2 2016.2,2081.2 2017.4,2076.2 2018.6,2070.2 2019.8,2073.2 2021.0,2074.2 2022.2,2072.2 2023.4,2073.2 2024.2,2084.2 2025.4,2078.2 2026.6,2077.2 2027.4,2066.2 2028.6,2065.2 2030.2,2064.2 2031.4,2075.2 2032.6,2073.2 2033.8,2048.2 2035.0,2047.2 2036.2,2050.2 2037.4,2044.2 2038.6,2046.2 2039.8,2045.2 2041.4,2044.2 2042.6,2042.2 2043.4,2037.2 2044.6,2036.2 2046.2,2035.8 2047.8,2035.2 2049.0,2049.2 2050.2,2035.2 2051.8,2034.2 2053.0,2034.6 2054.2,2037.2 2055.4,2040.2 2056.2,2050.2 2057.4,2052.2 2058.6,2057.2 2059.8,2048.2 2061.0,2039.2 2062.2,2038.2 2063.8,2036.2 2065.4,2032.6 2066.6,2035.2 2068.2,2036.2 2069.4,2042.2 2070.7,2038.2 2072.3,2037.8 2073.5,2036.2 2074.3,2023.2 2075.5,2020.2 2076.3,2011.2 2077.5,2010.6 2078.7,2012.2 2079.9,2014.2 2081.1,2018.2 2082.3,2019.2 2083.9,2017.8 2085.1,2012.2 2085.9,1998.2 2087.1,1999.2 2088.3,1998.2 2089.1,1988.1 2090.3,1987.1 2091.5,1976.1 2092.3,1972.1 2093.5,1970.1 2094.7,1968.1 2095.9,1964.1 2096.7,1955.1 2097.9,1958.1 2099.1,1964.1 2100.3,1962.1 2101.5,1955.1 2102.7,1960.1 2103.9,1958.1 2105.1,1956.1 2106.3,1952.1 2107.5,1955.1 2108.3,1962.1 2109.5,1964.1 2110.7,1965.1 2111.9,1964.5 2113.1,1963.1 2113.5,1938.1 2114.7,1936.1 2115.5,1937.1 2116.7,1921.1 2117.9,1920.1 2119.1,1925.1 2120.3,1926.1 2121.5,1929.1 2122.3,1938.1 2123.5,1932.1 2124.7,1931.1 2125.9,1939.1 2127.1,1941.1 2128.3,1938.1 2129.1,1924.1 2130.3,1923.1 2131.1,1908.1 2132.3,1907.7 2133.5,1922.1 2134.7,1923.1 2135.9,1926.1 2137.5,1927.1 2138.3,1942.1 2139.1,1960.1 2140.3,1964.1 2141.5,1970.1 2142.7,1971.1 2143.9,1960.1 2145.1,1965.1 2146.3,1966.1 2147.5,1952.1 2148.7,1951.7 2149.9,1963.1 2151.1,1961.1 2152.3,1958.1 2153.5,1952.1 2154.7,1953.1 2155.9,1949.1 2157.1,1946.1 2158.3,1954.1 2159.1,1974.1 2160.3,1976.1 2161.5,1978.1 2162.7,1978.5 2163.9,1976.1 2165.5,1977.1 2166.7,1976.5 2167.9,1978.1 2168.7,1964.1 2169.5,1963.7 2170.4,1978.1 2171.6,1979.1 2172.8,1980.1 2173.6,1992.2 2174.8,1994.2 2176.0,1995.2 2177.6,1994.6 2178.8,1998.2 2180.0,1996.2 2180.8,1987.1 2182.0,1986.1 2183.2,1988.1 2184.4,1989.1 2185.2,2000.2 2186.0,2002.2 2187.2,1994.2 2188.4,1993.2 2189.6,1992.2 2190.8,1990.2 2192.0,1989.1 2193.2,1977.1 2194.4,1976.5 2195.6,1980.1 2196.4,1998.2 2197.6,1999.2 2198.8,2001.2 2200.0,2004.2 2201.2,1999.2 2202.0,1994.2 2203.2,1994.6 2204.4,2000.2 2205.6,1999.2 2206.8,1974.1 2208.0,1973.1 2208.8,1956.1 2210.0,1954.1 2211.2,1940.1 2212.4,1938.1 2213.6,1939.1 2214.8,1951.1 2216.0,1955.1 2217.2,1944.1 2218.4,1943.1 2219.6,1943.7 2220.4,1920.1 2221.2,1886.0 2222.4,1885.0 2223.6,1883.0 2224.4,1872.0 2226.0,1871.6 2226.8,1890.1 2228.0,1897.1 2229.2,1898.1 2230.0,1922.1 2231.2,1893.1 2232.4,1894.1 2233.6,1908.1 2234.4,1922.1 2235.6,1907.1 2236.8,1906.1 2238.0,1922.1 2239.6,1912.1 2240.8,1921.1 2242.0,1924.1 2242.8,1895.1 2243.6,1895.7 2244.4,1914.1 2245.6,1917.1 2246.8,1920.1 2248.0,1928.1 2249.2,1921.1 2250.4,1924.1 2251.6,1931.1 2252.8,1934.1 2253.2,1913.1 2254.4,1912.1 2255.6,1918.1 2256.4,1900.1 2257.2,1882.0 2258.4,1881.0 2259.6,1888.0 2260.4,1894.1 2261.2,1887.0 2262.8,1887.6 2264.0,1888.0 2264.8,1898.1 2266.0,1899.1 2266.8,1912.1 2268.0,1900.1 2268.8,1915.1 2270.0,1900.5 2271.2,1900.1 2272.4,1899.1 2273.6,1904.1 2274.8,1917.1 2276.0,1909.1 2277.2,1919.1 2278.0,1908.1 2279.2,1908.5 2280.1,1932.1 2281.3,1935.1 2282.5,1947.1 2283.7,1947.7 2284.9,1944.1 2286.1,1943.7 2287.3,1949.1 2288.9,1948.1 2290.1,1944.1 2290.9,1939.1 2292.1,1939.7 2293.3,1935.1 2294.1,1934.5 2294.9,1948.1 2296.1,1954.1 2297.3,1956.1 2298.1,1965.7 2299.3,1953.1 2300.5,1952.5 2301.7,1954.1 2303.3,1955.1 2304.9,1955.7 2305.7,1961.1 2306.9,1963.1 2308.5,1963.7 2309.3,1969.1 2310.5,1965.1 2311.7,1966.1 2312.9,1968.1 2314.1,1969.1 2315.3,1963.1 2316.1,1961.7 2317.7,1962.5 2318.9,1970.1 2320.1,1971.1 2321.3,1961.1 2322.5,1960.1 2323.7,1962.1 2324.5,1972.1 2325.7,1973.1 2326.5,1984.1 2327.3,1987.1 2328.9,1989.1 2330.1,1988.1 2331.3,1983.1 2332.5,1982.5 2333.7,1984.1 2335.3,1983.7 2336.1,1987.1 2337.3,1989.1 2338.5,1990.2 2339.7,1993.2 2340.9,1993.8 2342.1,1992.2 2343.3,1989.1 2344.5,1989.7 2345.3,1984.1 2346.5,1984.5 2347.7,1993.2 2349.3,1993.8 2350.5,1991.2 2351.7,1990.2 2352.9,1987.1 2354.5,1987.7 2356.1,1988.5 2357.7,1988.1 2359.3,1989.1 2360.9,1988.5 2361.7,1980.1 2362.9,1973.1 2364.1,1973.7 2365.3,1974.1 2366.5,1972.1 2367.7,1971.1 2368.5,1955.1 2369.7,1954.1 2370.5,1955.1 2371.7,1944.5 2372.9,1956.1 2374.1,1959.1 2374.9,1953.1 2376.1,1958.1 2377.3,1961.7 2378.5,1957.1 2379.7,1956.1 2381.0,1955.1 2382.2,1957.1 2383.4,1954.1 2384.2,1949.1 2385.4,1950.1 2386.2,1943.1 2387.4,1952.1 2388.6,1951.1 2389.4,1940.1 2390.2,1939.1 2391.8,1939.7 2392.6,1962.1 2393.8,1962.5 2395.0,1950.1 2396.6,1949.7 2397.8,1949.1 2399.0,1954.1 2399.8,1943.1 2401.4,1942.5 2402.6,1943.1 2403.4,1920.1 2404.2,1902.1 2405.4,1899.1 2406.6,1893.1 2407.8,1892.5 2408.6,1914.1 2409.4,1906.1 2410.6,1910.1 2411.4,1950.1 2412.6,1951.1 2413.4,1916.1 2414.2,1894.1 2415.8,1895.1 2417.0,1897.1 2418.2,1897.7 2419.4,1920.1 2420.2,1960.1 2421.0,2000.2 2422.2,2001.2 2423.0,2012.2 2423.8,2026.2 2424.6,2043.2 2425.8,2043.8 2427.0,2026.2 2427.8,2006.2 2428.2,2025.2 2429.0,2016.2 2429.4,1930.1 2430.6,1932.1 2431.8,1935.1 2433.0,1938.1 2434.2,1973.1 2435.4,1960.1 2436.2,1946.1 2437.4,1944.1 2438.2,1916.1 2439.4,1915.7 2440.2,1929.1 2441.0,1900.1 2442.2,1897.1 2443.4,1898.1 2444.2,1888.0 2445.4,1887.0 2446.6,1900.1 2447.4,1921.1 2448.6,1923.1 2449.8,1924.1 2450.6,1908.1 2451.8,1902.1 2453.0,1906.1 2454.2,1909.1 2455.0,1922.1 2456.2,1921.7 2457.0,1936.1 2458.2,1935.7 2459.0,1934.1 2459.8,1932.1 2461.0,1943.1 2461.8,1928.1 2463.0,1940.1 2464.2,1941.1 2465.4,1939.1 2466.6,1928.1 2467.8,1922.1 2469.0,1924.1 2470.2,1926.5 2471.4,1927.1 2472.2,1936.1 2473.4,1935.7 2474.6,1938.1 2475.8,1949.1 2477.0,1950.1 2478.2,1942.1 2479.4,1940.1 2480.7,1941.1 2481.5,1958.1 2482.7,1964.1 2483.9,1966.5 2485.1,1966.1 2486.3,1956.1 2487.1,1945.1 2488.3,1946.1 2489.5,1952.1 2491.1,1953.1 2492.3,1955.1 2493.5,1956.1 2494.3,1950.1 2495.5,1949.1 2496.3,1940.5 2497.9,1940.1 2499.1,1942.5 2500.3,1943.1 2501.5,1941.1 2502.7,1945.1 2504.3,1944.1 2505.9,1945.7 2507.1,1942.1 2508.3,1935.1 2509.5,1939.1 2510.7,1940.1 2511.9,1943.1 2513.1,1943.7 2514.3,1946.1 2515.5,1944.1 2516.7,1942.5 2517.9,1941.1 2518.7,1922.1 2519.9,1915.1 2521.5,1915.7 2522.3,1900.1 2523.5,1897.1 2524.7,1898.1 2525.9,1904.1 2527.1,1903.7 2527.9,1894.1 2529.1,1883.6 2530.3,1883.0 2531.1,1894.1 2532.3,1897.1 2533.1,1902.1 2533.9,1939.1 2535.1,1938.1 2535.9,1931.1 2537.1,1932.1 2538.3,1918.1 2539.5,1917.7 2540.3,1940.1 2541.5,1938.1 2542.7,1943.1 2543.9,1944.1 2545.1,1938.1 2546.3,1935.7 2547.5,1945.1 2548.3,1937.1 2549.5,1937.7 2550.7,1949.1 2551.9,1950.1 2553.5,1951.1 2554.7,1951.7 2556.3,1949.1 2557.9,1952.1 2559.1,1949.1 2560.3,1949.7 2561.5,1952.1 2562.7,1953.1 2563.9,1954.1 2564.7,1978.1 2565.9,1979.1 2567.1,1980.1 2568.3,1980.5 2569.1,1972.1 2570.3,1970.1 2571.5,1971.1 2572.7,1969.1 2573.9,1969.7 2574.7,1979.1 2575.9,1976.1 2577.1,1965.7 2578.3,1964.5 2579.5,1965.1 2580.4,1978.1 2581.6,1976.1 2582.8,1975.7 2584.0,1976.5 2585.2,1971.1 2586.4,1970.1 2587.6,1977.1 2589.2,1977.7 2590.4,1977.1 2591.6,1976.5 2592.4,1989.1 2593.6,1988.1 2594.8,1987.1 2596.0,1984.1 2597.2,1966.1 2598.4,1965.1 2600.0,1965.7 2600.8,1994.2 2602.0,1993.8 2603.2,1987.1 2604.4,1986.5 2605.6,1987.7 2606.8,1993.2 2608.0,1995.2 2609.2,1994.2 2610.4,1994.6 2611.2,2016.2 2612.4,2017.2 2613.6,2025.2 2614.4,2018.2 2615.2,2027.2 2616.4,2031.2 2617.6,2010.2 2618.8,2008.2 2620.0,2010.2 2621.2,1998.2 2622.4,1997.8 2623.2,2010.2 2624.4,2012.2 2625.6,2011.2 2626.8,2017.2 2628.0,2000.2 2628.8,1993.2 2630.0,1994.2 2631.2,1995.2 2632.4,2005.2 2633.6,1995.2 2634.8,1994.6 2636.0,2001.2 2637.2,2000.2 2638.4,1992.2 2639.6,1990.2 2640.8,1990.6 2641.6,1970.1 2642.8,1968.1 2644.0,1980.1 2644.8,2016.2 2646.0,2018.2 2647.2,2019.2 2648.4,2020.2 2650.0,2028.2 2651.2,2027.8 2652.4,2028.6 2653.2,2016.2 2654.0,2008.2 2655.2,2009.2 2656.4,2016.2 2657.6,2017.2 2658.8,2022.2 2660.0,2024.2 2661.2,2023.2 2662.4,2017.2 2663.6,2016.6 2664.4,2030.2 2665.2,2053.3 2666.4,2036.2 2667.6,2035.2 2668.8,2044.3 2670.0,2029.2 2670.8,2028.2 2672.0,2042.3 2673.2,2041.3 2674.4,2048.3 2675.2,2066.3 2676.0,2073.3 2677.2,2066.3 2678.0,2054.3 2679.2,2053.9 2680.4,2059.3 2681.2,2080.3 2682.0,2103.3 2683.2,2105.3 2684.0,2099.3 2685.2,2100.3 2686.0,2122.3 2687.2,2123.3 2688.4,2124.3 2689.6,2126.3 2690.5,2105.3 2691.7,2099.3 2692.9,2097.3 2694.1,2094.3 2694.9,2091.3 2695.7,2084.3 2696.9,2083.3 2698.1,2090.3 2699.3,2082.3 2700.5,2088.3 2701.7,2089.3 2702.9,2085.3 2704.1,2084.7 2705.3,2086.3 2706.1,2107.3 2706.9,2096.3 2707.7,2084.3 2708.9,2082.3 2710.1,2081.3 2710.9,2072.3 2711.7,2066.3 2712.9,2065.9 2714.1,2070.3 2715.3,2075.3 2716.5,2073.3 2717.3,2070.3 2718.1,2054.3 2719.3,2052.3 2720.5,2053.9 2721.7,2042.3 2722.5,2041.3 2723.7,2050.3 2724.9,2050.7 2726.1,2048.3 2727.3,2046.3 2728.5,2051.3 2729.7,2052.3 2730.9,2050.3 2731.7,2039.2 2732.9,2038.2 2734.1,2016.2 2735.3,2015.2 2736.5,2012.2 2737.7,2023.2 2738.5,2017.2 2739.7,2008.2 2740.9,2007.2 2741.7,1992.2 2742.9,1991.2 2744.1,1984.2 2745.3,1983.2 2746.5,1982.2 2747.3,1970.2 2748.5,1969.2 2749.7,1967.2 2750.9,1965.8 2752.1,1964.2 2753.3,1964.6 2754.1,1988.2 2755.3,1989.2 2756.5,1971.2 2758.1,1970.2 2759.7,1971.2 2760.5,1983.2 2761.7,1984.2 2762.9,1990.2 2763.7,1998.2 2764.5,2016.2 2765.3,2050.3 2766.1,2053.3 2767.3,2040.3 2768.5,2039.8 2769.7,2045.3 2770.9,2040.3 2772.1,2039.8 2773.3,2052.3 2774.5,2040.3 2775.7,2035.2 2776.9,2033.2 2778.1,2028.2 2779.3,2023.2 2780.5,2020.2 2781.7,2019.2 2782.9,2018.2 2784.1,2004.2 2785.3,2003.2 2786.5,2014.2 2787.7,2013.8 2788.9,2019.2 2790.2,2020.2 2791.4,2021.2 2792.6,2023.2 2793.8,2023.8 2795.0,2020.2 2795.8,2000.2 2797.0,2010.2 2798.2,2011.8 2799.4,2011.2 2800.6,2014.2 2801.4,2048.3 2802.6,2047.3 2803.4,2058.3 2804.2,2070.3 2805.4,2070.7 2806.2,2052.3 2807.0,2034.2 2808.2,2033.2 2809.4,2028.2 2810.6,2027.2 2811.8,2027.8 2813.0,2032.2 2814.2,2031.2 2815.0,2014.2 2816.2,2023.2 2817.0,2004.6 2818.2,2003.8 2819.8,2010.2 2821.0,2009.2 2821.8,1995.2 2823.0,1994.2 2824.2,1994.6 2825.4,1998.2 2826.2,2022.2 2827.4,2023.2 2828.6,2023.8 2829.4,2012.2 2830.6,2008.2 2831.4,2024.2 2832.2,2049.3 2833.4,2049.9 2834.6,2032.2 2835.8,2030.2 2837.0,2036.2 2837.8,2056.3 2839.0,2048.3 2840.2,2048.7 2841.0,2056.3 2842.2,2067.3 2843.0,2050.3 2843.8,2041.3 2845.0,2038.2 2846.2,2030.2 2847.4,2036.2 2848.6,2041.3 2849.8,2040.3 2851.0,2042.3 2851.8,2038.2 2852.6,2007.2 2853.4,2006.6 2854.2,2018.2 2855.0,2032.2 2856.2,2032.6 2857.4,2026.2 2858.2,2016.2 2859.4,2009.2 2860.6,2008.2 2861.4,1995.2 2862.6,2002.2 2863.8,2004.2 2864.6,2016.2 2865.4,2003.2 2866.6,2010.2 2867.4,2018.2 2868.2,2028.2 2869.0,1990.2 2870.2,1987.2 2871.4,1988.2 2872.6,1979.2 2873.4,1956.2 2874.6,1949.8 2875.8,1950.2 2877.0,1964.2 2877.8,1950.2 2879.0,1949.8 2879.8,1960.2 2880.6,1968.2 2881.8,1970.2 2882.6,2010.2 2883.4,2021.2 2884.6,2020.2 2885.4,2008.2 2886.6,2008.6 2887.4,2025.2 2888.2,2034.2 2889.4,2040.3 2890.7,2028.2 2891.9,2027.2 2893.1,2028.2 2894.3,2037.2 2895.5,2030.2 2896.7,2029.2 2897.9,2038.2 2898.7,2043.3 2899.9,2015.2 2901.1,2014.2 2902.3,2026.2 2903.5,2027.2 2904.7,2020.2 2905.5,2007.2 2906.7,2005.8 2907.9,2005.2 2909.1,2012.2 2910.3,2004.2 2911.1,1988.2 2912.3,1987.8 2913.1,2015.2 2914.3,2017.2 2915.1,2005.2 2915.9,2027.2 2917.1,2022.2 2917.9,2020.2 2919.1,2010.2 2919.9,1992.2 2921.1,1992.6 2922.3,2000.2 2923.5,2002.2 2924.7,2004.2 2925.1,1977.2 2926.3,1976.2 2927.5,1982.2 2928.7,1974.2 2929.9,1967.8 2930.7,1990.2 2931.5,2016.2 2932.3,2026.2 2933.5,2025.8 2934.7,2018.2 2935.9,2008.2 2937.1,2007.2 2938.3,2004.2 2939.1,2003.2 2939.9,1982.2 2940.7,1970.2 2941.9,1977.2 2942.7,1936.1 2943.5,1935.1 2944.3,1918.1 2945.5,1939.1 2946.3,1938.1 2947.1,1879.1 2948.3,1878.1 2949.1,1890.1 2950.3,1877.1 2951.5,1880.1 2952.3,1908.1 2953.5,1911.1 2954.7,1911.7 2955.5,1880.1 2955.9,1856.1 2957.1,1855.1 2957.9,1876.1 2958.7,1844.1 2959.9,1843.1 2960.7,1802.0 2962.3,1801.6 2962.7,1859.1 2963.9,1870.1 2965.1,1878.1 2965.9,1930.1 2966.7,1934.1 2967.9,1918.1 2968.7,1937.1 2969.9,1937.7 2970.7,1939.1 2971.9,1939.1 2972.7,1916.1 2973.9,1916.5 2975.1,1919.1 2975.9,1944.2 2976.7,1948.2 2977.9,1937.1 2979.1,1937.7 2979.9,1946.2 2981.1,1948.2 2982.3,1950.2 2983.5,1946.2 2984.3,1937.1 2985.5,1935.1 2986.7,1930.1 2987.9,1922.1 2989.1,1923.1 2990.4,1925.1 2991.6,1927.1 2992.4,1942.2 2993.6,1944.2 2994.4,1958.2 2995.6,1959.2 2996.4,1977.2 2997.6,1978.2 2998.4,1985.2 2999.6,1980.2 3000.8,1979.2 3001.6,2000.2 3002.8,1998.2 3004.0,1988.2 3005.6,1988.6 3006.4,2006.2 3007.6,2014.2 3008.4,2007.2 3009.6,2028.2 3010.8,2031.2 3012.0,2030.2 3013.2,2028.2 3014.0,2012.2 3015.2,2010.2 3016.4,2009.8 3017.2,2000.2 3018.4,1999.8 3019.2,2010.2 3020.4,2008.2 3021.6,2009.2 3022.8,2018.2 3023.6,2019.2 3024.4,2000.2 3025.6,2000.6 3026.4,2016.2 3027.6,2018.2 3028.8,2017.2 3029.6,1999.8 3031.2,2000.2 3032.4,2034.2 3033.6,2041.3 3034.4,2010.2 3035.6,2009.8 3036.8,2022.2 3038.0,2023.2 3039.2,2024.2 3040.4,2033.2 3041.6,2034.2 3042.8,2032.2 3044.0,2036.2 3045.2,2040.3 3046.0,2045.3 3047.2,2044.3 3048.4,2043.9 3049.6,2070.3 3050.4,2096.3 3051.6,2095.3 3052.8,2092.3 3054.0,2093.3 3055.2,2098.3 3056.0,2106.3 3057.2,2110.3 3058.4,2109.9 3060.0,2103.3 3061.2,2105.9 3062.0,2092.3 3062.8,2085.2 3064.0,2083.2 3065.2,2087.2 3066.0,2088.2 3066.8,2070.2 3067.6,2059.2 3068.8,2058.2 3069.6,2055.8 3070.8,2061.2 3071.6,2044.2 3072.8,2043.8 3073.6,2052.2 3074.8,2052.6 3075.6,2042.2 3076.8,2040.2 3078.0,2038.2 3079.2,2037.8 3080.0,2037.2 3080.8,2050.2 3082.0,2060.2 3083.2,2068.2 3084.4,2069.2 3085.6,2074.2 3086.8,2073.2 3088.0,2060.2 3088.8,2070.2 3090.0,2072.2 3091.2,2071.2 3092.0,2080.2 3093.2,2091.9 3094.4,2085.2 3095.6,2084.2 3096.8,2076.2 3098.0,2075.2 3099.2,2083.2 3100.5,2076.2 3101.3,2070.2 3102.1,2083.2 3102.9,2098.3 3104.1,2099.3 3105.3,2094.3 3106.5,2090.3 3107.7,2089.2 3108.5,2088.2 3109.3,2101.3 3110.5,2096.3 3111.7,2107.3 3112.9,2104.3 3113.7,2088.2 3114.9,2086.2 3116.5,2084.2 3117.3,2068.2 3118.1,2055.2 3119.3,2061.2 3120.5,2068.2 3121.3,2077.2 3122.5,2078.2 3123.3,2067.2 3124.1,2075.2 3125.3,2085.2 3126.5,2079.2 3127.7,2086.2 3129.3,2088.2 3130.1,2076.2 3131.3,2073.2 3132.5,2074.2 3133.7,2069.2 3134.9,2068.2 3136.1,2077.2 3137.3,2074.2 3138.5,2078.2 3139.7,2078.6 3140.5,2078.2 3141.3,2058.2 3142.5,2057.2 3143.3,2059.2 3144.1,2047.2 3144.9,2044.2 3145.7,2022.2 3146.9,2021.2 3148.1,2019.2 3149.3,2017.2 3150.1,2019.2 3151.3,2028.2 3152.5,2030.2 3153.7,2033.2 3154.9,2029.8 3156.1,2025.2 3157.3,2024.2 3158.5,2029.2 3159.7,2030.2 3160.5,2018.2 3160.9,2001.8 3162.1,2003.2 3163.3,2016.6 3164.5,2016.2 3165.3,2003.2 3166.5,2003.8 3167.7,2009.2 3168.9,2010.2 3169.7,1994.2 3170.9,1995.2 3171.7,2010.2 3172.9,2000.2 3174.1,2002.2 3175.3,1987.7 3176.5,1998.2 3177.7,1996.2 3178.9,1994.2 3180.1,1992.2 3180.9,1984.1 3182.1,1990.2 3182.9,1978.1 3184.1,1977.1 3185.3,1976.1 3186.1,1959.1 3187.3,1970.1 3188.1,1951.1 3189.3,1950.1 3190.5,1946.1 3191.7,1944.1 3192.5,1919.1 3193.7,1920.1 3194.5,1928.1 3195.7,1919.1 3196.9,1933.1 3197.7,1918.1 3198.9,1919.1 3200.2,1926.1 3201.4,1917.1 3202.2,1916.1 3203.4,1928.1 3204.6,1931.1 3205.8,1932.1 3207.0,1919.1 3207.8,1920.1 3208.6,1964.1 3209.8,1965.1 3211.0,1963.7 3211.8,1958.1 3213.0,1964.1 3214.2,1966.1 3215.4,1963.1 3216.6,1968.1 3217.4,1978.1 3218.6,1979.1 3219.8,1975.1 3221.4,1976.1 3222.6,1982.1 3223.8,1991.2 3225.0,1991.8 3226.2,1991.2 3227.4,1980.1 3228.6,1968.1 3229.4,1967.1 3230.6,1968.1 3231.4,1980.1 3232.2,1990.2 3233.4,1990.6 3234.6,1966.1 3236.2,1964.1 3237.0,1942.1 3238.2,1941.1 3239.0,1909.1 3240.2,1910.1 3241.0,1938.1 3241.8,1913.1 3243.0,1938.1 3244.2,1915.1 3245.4,1916.1 3246.2,1937.1 3247.4,1926.1 3248.6,1928.1 3249.8,1937.7 3251.0,1934.1 3252.2,1937.1 3253.0,1918.1 3254.2,1917.1 3255.4,1928.1 3256.6,1929.1 3257.8,1937.1 3259.0,1936.1 3259.8,1920.1 3260.6,1920.5 3261.8,1937.1 3263.0,1938.1 3264.2,1940.1 3265.4,1941.1 3266.2,1949.1 3267.8,1950.1 3269.4,1948.1 3270.6,1951.1 3271.8,1952.1 3273.0,1955.1 3274.2,1954.1 3275.0,1934.1 3276.2,1933.1 3277.4,1948.1 3278.6,1943.1 3279.8,1943.7 3281.0,1951.1 3282.2,1953.1 3283.4,1952.1 3284.6,1952.5 3285.8,1972.1 3287.0,1973.1 3288.2,1966.1 3289.4,1968.1 3290.2,1969.1 3291.0,1980.1 3292.2,1981.1 3293.8,1980.1 3295.0,1982.1 3296.2,1970.1 3297.4,1971.1 3298.6,1982.1 3299.8,1977.1 3300.7,1984.1 3301.9,1976.1 3303.1,1978.1 3304.3,1985.1 3305.5,1980.1 3306.7,1986.1 3307.9,1981.1 3309.1,1980.1 3310.3,1981.1 3311.5,1992.2 3312.3,1998.2 3313.5,1999.2 3314.7,1995.2 3315.9,1996.2 3317.1,2003.2 3318.3,2001.2 3319.5,2000.2 3320.7,1997.2 3321.9,1998.2 3323.1,2004.2 3324.3,2000.2 3325.5,1999.2 3326.3,1985.1 3327.5,1983.1 3328.7,1983.7 3329.9,1987.1 3331.1,1978.1 3331.9,1974.5 3333.1,1980.1 3334.3,1986.1 3335.5,1988.1 3336.7,1983.1 3337.9,1980.1 3338.7,1994.2 3339.9,1988.1 3341.1,1984.1 3342.3,1984.5 3343.1,2002.2 3344.3,2003.2 3345.5,1998.2 3346.7,1999.2 3347.9,2016.2 3349.1,2017.2 3350.3,2018.2 3351.5,2019.2 3352.7,2032.2 3353.9,2034.2 3355.1,2035.2 3356.3,2035.8 3357.5,2032.2 3358.3,2021.2 3359.5,2020.2 3360.7,2019.2 3361.9,2019.8 3362.7,2004.2 3363.9,2003.2 3365.1,2004.2 3366.3,2005.2 3367.5,2004.6 3368.3,2024.2 3369.5,2025.2 3370.7,2022.2 3371.9,2021.2 3373.1,2032.2 3374.3,2034.2 3375.5,2033.2 3376.3,2020.2 3377.5,2014.2 3378.7,2019.2 3379.9,2023.2 3380.7,2026.2 3381.5,2022.2 3382.7,2021.8 3383.5,2040.2 3384.3,2060.2 3385.5,2078.2 3386.7,2079.2 3387.5,2081.2 3388.3,2094.3 3389.5,2097.3 3390.7,2096.3 3391.5,2087.2 3392.7,2085.2 3393.5,2064.2 3394.7,2057.2 3395.9,2056.2 3396.3,2011.2 3397.5,2012.2 3398.7,2022.2 3399.9,2020.2 3400.8,1978.1 3402.0,1977.1 3403.2,1977.7 3404.0,1987.1 3405.2,1986.1 3406.0,1980.1 3406.8,1960.1 3408.4,1960.5 3409.6,1976.1 3410.8,1980.1 3412.0,1972.1 3413.6,1972.5 3414.4,1988.1 3415.6,2008.2 3416.8,2012.2 3418.0,2019.2 3419.2,2018.2 3420.4,2004.2 3421.2,2002.2 3422.0,1983.1 3423.2,1983.7 3424.0,1987.7 3425.2,1987.1 3425.6,1969.1 3426.8,1968.1 3428.0,1966.1 3429.2,1965.1 3430.0,1948.1 3430.8,1929.1 3432.0,1928.1 3432.8,1906.1 3434.4,1907.1 3435.2,1910.1 3435.6,1940.1 3436.4,1955.1 3437.6,1949.1 3438.4,1950.1 3439.2,1969.1 3440.4,1970.1 3441.6,1980.1"/>
<polyline class="ln" stroke="#808080" points="193.0,2648.1 193.6,2635.1 195.2,2636.1 196.4,2638.5 197.6,2632.1 198.8,2629.7 200.0,2631.7 201.6,2632.5 202.8,2630.1 204.4,2628.1 206.0,2626.5 207.2,2629.1 208.4,2628.1 209.2,2618.1 210.0,2612.5 211.6,2612.1 212.8,2613.7 214.0,2608.4 215.2,2611.1 216.4,2618.1 217.6,2613.1 218.8,2614.1 220.0,2618.5 222.0,2619.3 224.0,2620.1 226.0,2619.7 227.6,2620.1 228.4,2614.1 229.2,2609.0 230.5,2608.0 231.7,2610.1 232.9,2609.0 234.5,2608.6 234.9,2628.1 236.1,2626.1 237.3,2629.1 238.5,2627.1 239.3,2635.1 240.5,2627.1 241.7,2626.1 243.3,2626.5 244.1,2634.1 244.9,2643.1 246.5,2642.1 247.7,2639.7 248.9,2639.1 250.1,2642.1 251.3,2643.7 252.5,2640.1 253.7,2634.1 254.9,2637.1 256.1,2641.1 257.7,2640.1 258.9,2637.1 259.7,2637.7 260.5,2651.1 261.7,2648.1 262.9,2647.1 264.1,2647.7 265.3,2642.1 266.5,2638.5 267.7,2641.1 268.9,2643.1 270.1,2645.1 271.7,2647.1 273.3,2647.7 274.9,2648.5 276.1,2647.1 277.3,2644.1 278.5,2642.5 280.1,2642.1 281.3,2643.7 282.1,2649.1 283.3,2648.1 284.9,2649.1 285.7,2656.1 286.5,2661.1 287.7,2663.1 288.9,2665.1 289.7,2669.1 290.9,2674.1 292.1,2674.5 292.9,2666.1 294.1,2661.1 295.3,2660.7 296.1,2667.1 297.3,2669.7 298.5,2669.1 299.7,2667.1 300.9,2671.1 302.1,2671.7 303.3,2670.1 304.1,2656.1 305.3,2655.1 306.5,2656.1 307.7,2657.1 308.5,2663.1 309.7,2664.1 310.9,2663.7 312.1,2661.1 313.3,2657.1 314.9,2656.1 316.5,2655.7 317.7,2660.1 318.5,2671.1 319.7,2671.7 321.3,2670.1 322.5,2669.7 323.7,2676.1 324.9,2669.1 326.1,2664.1 327.3,2659.7 328.5,2661.1 329.3,2668.1 330.6,2669.1 331.8,2670.1 333.0,2673.7 334.2,2669.1 335.4,2671.1 336.6,2668.1 337.8,2669.1 339.0,2672.5 340.2,2670.5 341.4,2672.1 343.0,2671.7 344.2,2666.1 345.4,2661.1 346.6,2660.1 347.8,2661.1 349.0,2666.1 350.2,2670.1 351.4,2667.1 352.6,2666.1 353.8,2664.5 355.0,2663.7 356.2,2662.5 357.4,2663.1 358.6,2667.1 359.4,2669.7 360.6,2667.1 361.8,2665.1 363.4,2664.1 364.6,2658.1 365.4,2652.5 366.6,2651.7 367.8,2652.1 369.0,2653.1 370.2,2657.1 371.4,2657.7 372.2,2648.1 373.8,2647.7 375.4,2648.1 376.6,2641.1 377.4,2637.7 379.0,2637.1 380.2,2640.1 381.4,2639.1 381.8,2631.1 383.4,2630.1 385.0,2631.1 386.6,2630.5 388.2,2631.1 389.8,2633.1 391.0,2636.5 392.2,2631.1 393.8,2632.1 395.4,2631.1 396.6,2628.1 397.8,2628.5 399.0,2632.1 400.2,2634.5 401.4,2636.1 402.6,2639.1 403.8,2640.1 405.0,2642.5 406.2,2640.1 407.4,2644.1 408.6,2647.7 409.8,2647.1 411.0,2651.7 412.2,2653.1 413.8,2651.1 415.0,2650.5 416.2,2648.5 417.4,2648.1 418.2,2659.1 419.4,2660.1 420.6,2659.1 421.8,2650.1 423.0,2647.1 424.6,2646.7 426.2,2647.7 427.8,2649.1 429.0,2652.1 430.3,2651.7 431.5,2648.1 432.7,2647.7 433.9,2642.5 435.5,2642.1 436.7,2644.1 437.9,2649.1 439.1,2652.5 440.3,2653.1 441.5,2656.1 442.7,2659.1 443.9,2658.1 445.1,2656.1 446.3,2655.1 447.5,2654.1 448.7,2657.1 449.9,2659.1 451.1,2658.1 452.3,2658.5 453.1,2666.1 454.3,2672.5 455.5,2671.1 457.1,2669.7 458.7,2670.1 460.3,2671.1 461.9,2669.7 462.7,2666.1 463.9,2663.1 465.1,2669.1 466.3,2672.1 467.5,2674.1 468.7,2671.1 469.9,2667.1 471.1,2668.1 472.3,2669.7 473.5,2667.1 474.7,2664.5 476.3,2664.1 477.9,2663.7 479.1,2663.1 480.3,2669.1 481.5,2672.5 483.1,2673.7 484.3,2671.1 485.5,2669.1 486.7,2671.1 488.3,2669.7 489.9,2668.1 491.1,2669.7 492.3,2671.1 493.5,2674.1 494.7,2676.1 495.9,2680.1 496.7,2687.1 497.9,2688.1 498.7,2689.7 499.5,2698.1 500.3,2701.1 501.5,2698.1 502.7,2697.1 503.9,2690.1 504.7,2686.5 505.9,2696.1 507.1,2698.1 508.7,2699.1 510.3,2698.1 511.5,2697.1 513.1,2698.1 514.7,2697.1 516.3,2695.1 517.9,2695.7 519.1,2694.5 519.9,2690.1 521.5,2688.1 522.7,2689.1 523.9,2691.1 525.5,2692.1 526.7,2693.7 527.9,2694.1 529.1,2694.5 530.4,2693.1 531.2,2702.1 532.0,2707.7 533.2,2705.1 534.4,2701.1 535.6,2699.1 536.4,2698.5 537.2,2704.1 538.0,2707.1 538.4,2720.2 539.2,2730.2 540.0,2730.6 540.4,2752.2 540.8,2770.2 542.0,2762.2 543.2,2755.2 544.4,2754.2 545.6,2751.2 546.8,2749.2 547.6,2736.2 548.8,2734.2 550.4,2735.2 551.6,2732.6 552.8,2736.2 554.4,2737.2 556.0,2734.6 557.2,2734.2 558.0,2741.2 559.2,2742.6 560.4,2742.2 561.6,2749.2 562.4,2754.2 563.2,2762.2 564.4,2770.2 565.6,2771.2 566.8,2760.2 568.0,2759.8 569.2,2766.2 570.4,2764.2 572.0,2765.2 573.2,2764.6 574.0,2755.2 575.2,2754.6 576.4,2764.2 577.6,2763.2 578.4,2755.8 579.6,2755.2 580.4,2765.2 582.0,2766.2 583.2,2767.2 584.4,2764.2 586.0,2763.8 587.2,2764.2 588.4,2770.2 589.2,2780.2 590.0,2798.2 591.6,2797.2 592.8,2802.2 593.6,2812.3 594.4,2820.3 595.2,2826.3 596.4,2812.3 597.6,2810.3 598.8,2818.3 600.0,2811.9 601.2,2820.3 602.8,2821.3 604.0,2814.3 605.2,2801.2 606.8,2800.2 608.0,2801.2 609.2,2799.2 610.0,2805.2 611.2,2800.2 612.4,2798.2 613.2,2799.2 614.0,2786.2 614.8,2781.8 616.0,2787.2 617.2,2788.2 618.4,2787.2 619.6,2790.2 620.8,2792.2 621.6,2795.2 622.8,2796.2 623.6,2797.2 624.8,2805.2 626.0,2796.2 627.2,2794.2 628.0,2787.2 629.2,2795.2 630.4,2792.2 631.2,2780.2 632.0,2775.2 633.6,2774.6 634.8,2779.2 636.0,2778.6 637.2,2770.2 638.4,2768.2 639.6,2765.2 640.9,2761.2 642.1,2764.2 643.3,2768.2 644.5,2769.8 645.7,2764.6 646.5,2765.2 647.3,2781.2 648.5,2772.2 649.7,2772.6 650.5,2774.2 651.3,2784.2 652.1,2798.2 653.3,2799.2 654.5,2802.2 655.7,2803.2 656.5,2783.2 657.7,2782.6 658.5,2798.2 659.7,2799.2 660.9,2798.6 662.1,2794.6 663.3,2795.2 664.5,2794.2 665.7,2798.2 666.5,2813.9 667.7,2805.2 668.9,2805.8 670.1,2801.2 671.3,2800.2 672.5,2806.2 673.3,2819.9 674.5,2820.3 676.1,2820.7 677.3,2816.3 678.1,2802.6 679.3,2803.2 680.5,2804.2 681.7,2803.8 682.5,2796.2 683.7,2792.6 684.9,2791.8 686.5,2791.2 687.7,2792.2 688.5,2797.2 689.3,2805.2 690.5,2806.2 691.7,2805.2 692.9,2805.8 694.1,2808.2 694.9,2816.3 696.1,2817.3 697.3,2824.7 698.5,2816.3 699.7,2817.3 700.9,2815.9 702.1,2820.3 703.3,2828.3 704.1,2834.3 705.3,2835.3 706.9,2834.7 708.1,2832.7 709.3,2836.3 710.5,2831.3 711.7,2830.7 712.5,2843.3 713.7,2842.3 714.9,2835.3 716.1,2840.3 717.3,2840.7 718.5,2826.7 719.7,2828.3 720.5,2841.3 721.7,2841.9 722.9,2835.3 724.1,2836.3 725.3,2848.3 726.1,2855.3 727.3,2853.3 728.5,2851.3 729.7,2850.3 730.9,2849.3 732.1,2846.7 733.3,2853.3 734.5,2852.3 735.7,2848.3 736.5,2838.3 737.7,2837.9 738.9,2837.3 740.2,2842.3 741.4,2837.3 742.6,2833.3 743.8,2832.3 745.0,2835.3 746.2,2831.9 747.4,2832.7 748.6,2831.9 749.8,2837.3 751.0,2838.3 751.8,2827.3 753.0,2825.9 754.2,2826.3 755.4,2827.3 756.6,2836.3 757.8,2835.9 759.0,2835.3 760.2,2831.3 761.4,2831.9 762.6,2828.3 763.8,2827.3 765.0,2825.3 765.8,2818.3 767.0,2816.3 767.8,2808.2 769.0,2807.2 770.2,2803.2 771.4,2810.3 772.6,2809.2 773.8,2805.2 775.0,2801.2 776.2,2800.2 777.4,2805.2 778.6,2803.2 779.8,2805.2 781.0,2796.2 782.2,2800.2 783.4,2796.6 784.6,2800.2 785.8,2799.8 787.0,2799.2 787.8,2790.2 788.6,2784.2 789.8,2783.2 791.0,2784.2 791.8,2794.2 792.6,2803.2 793.8,2804.2 795.0,2802.6 796.2,2803.2 797.0,2812.3 798.2,2818.3 799.4,2820.3 800.6,2819.3 801.8,2823.3 803.0,2820.3 804.2,2815.3 805.4,2816.3 806.6,2814.3 807.8,2811.9 809.0,2808.2 810.2,2807.2 811.4,2804.2 812.2,2803.8 813.0,2814.3 814.2,2817.3 815.4,2816.3 816.6,2819.3 817.8,2820.3 819.0,2814.3 820.2,2812.7 821.4,2813.9 822.6,2813.3 823.8,2819.3 825.0,2816.3 826.2,2815.9 827.4,2809.2 828.6,2816.7 829.8,2817.3 831.4,2816.3 832.6,2815.3 833.4,2810.3 834.6,2814.3 835.8,2814.7 837.0,2813.9 838.2,2815.3 839.4,2814.3 841.1,2814.7 842.7,2814.3 843.9,2814.7 844.7,2827.3 845.9,2830.3 847.1,2831.9 848.3,2832.3 849.5,2831.9 850.7,2828.3 852.3,2827.9 853.5,2827.3 854.7,2824.3 855.9,2819.9 857.1,2819.3 858.3,2821.3 859.5,2820.3 860.3,2818.3 861.1,2803.2 862.3,2802.2 863.5,2803.8 864.7,2803.2 866.3,2803.8 867.9,2802.6 868.7,2799.8 870.3,2799.2 871.5,2802.2 873.1,2801.8 874.3,2801.2 875.9,2801.8 876.7,2796.2 877.9,2795.2 879.1,2795.8 879.9,2811.9 880.7,2802.6 881.9,2803.2 883.1,2809.8 884.3,2804.6 885.5,2806.2 886.7,2810.3 887.9,2805.8 889.1,2806.6 890.3,2807.2 891.5,2812.7 892.3,2815.3 893.5,2813.9 894.7,2812.7 895.9,2812.3 897.1,2804.2 898.3,2803.2 899.5,2804.2 901.1,2803.8 902.7,2802.6 903.9,2805.2 905.5,2805.8 906.7,2809.2 907.9,2811.3 908.7,2815.3 909.9,2814.7 911.1,2814.3 912.3,2810.7 913.5,2810.3 914.7,2810.7 915.9,2811.3 916.7,2818.3 917.9,2820.3 919.1,2817.3 920.3,2816.7 921.5,2821.3 922.7,2824.3 923.9,2830.3 925.1,2829.9 926.3,2828.3 927.5,2827.9 928.3,2831.9 929.9,2833.9 931.5,2833.3 932.7,2830.7 934.3,2831.9 935.9,2832.3 937.1,2835.3 938.3,2832.7 939.1,2832.3 940.4,2839.9 941.6,2838.3 942.8,2830.3 944.0,2828.3 945.6,2827.3 946.8,2823.3 948.4,2820.7 950.0,2820.3 951.2,2821.3 952.4,2819.3 953.6,2817.3 954.8,2820.3 956.0,2822.7 957.6,2821.9 958.8,2822.7 960.0,2830.3 961.2,2842.3 962.4,2843.3 963.6,2846.3 964.8,2851.3 966.0,2839.3 966.8,2838.3 967.6,2846.7 968.8,2844.3 969.6,2837.9 970.8,2841.3 971.6,2833.3 972.8,2832.3 974.0,2829.9 975.2,2833.3 976.4,2829.3 977.6,2827.3 979.2,2826.7 980.4,2827.3 981.6,2837.3 982.8,2836.7 984.0,2823.3 985.2,2822.7 986.4,2828.3 987.6,2827.9 988.8,2827.3 989.6,2815.3 990.8,2814.7 992.0,2815.9 993.2,2816.7 994.4,2826.3 995.6,2826.7 996.8,2827.3 998.0,2824.3 999.2,2828.3 1000.4,2830.3 1001.6,2825.3 1002.8,2827.3 1004.0,2823.3 1005.2,2825.9 1006.4,2821.3 1007.6,2825.3 1008.8,2824.3 1010.0,2819.3 1010.8,2814.3 1012.0,2813.3 1013.2,2810.3 1014.4,2809.2 1015.6,2807.2 1016.8,2808.2 1017.6,2793.2 1018.8,2792.2 1020.0,2789.2 1021.2,2785.2 1022.4,2784.2 1023.6,2786.2 1024.8,2787.8 1026.0,2788.6 1027.2,2789.8 1028.0,2798.6 1029.2,2797.2 1030.0,2790.2 1031.2,2793.2 1032.4,2794.2 1033.6,2803.2 1034.8,2805.2 1036.0,2804.6 1037.2,2810.3 1038.4,2809.2 1039.6,2806.6 1040.8,2805.8 1042.0,2811.3 1043.2,2813.3 1044.8,2815.3 1046.4,2815.9 1048.0,2814.7 1049.2,2811.3 1050.5,2810.3 1051.7,2811.3 1052.9,2813.3 1054.1,2814.3 1054.9,2824.3 1056.1,2825.3 1057.3,2827.3 1058.5,2828.3 1059.7,2829.3 1060.9,2827.9 1062.1,2828.7 1063.3,2829.3 1064.1,2822.3 1065.3,2817.3 1066.5,2816.7 1067.7,2813.3 1068.9,2810.3 1069.7,2809.2 1070.9,2811.3 1072.1,2815.3 1073.3,2816.3 1074.1,2810.3 1075.3,2809.2 1076.5,2806.6 1077.7,2804.6 1078.9,2806.2 1080.1,2810.7 1081.3,2806.6 1082.5,2807.8 1083.7,2810.3 1084.9,2808.2 1086.1,2807.2 1087.3,2807.8 1088.5,2808.2 1089.7,2811.3 1090.9,2814.3 1092.1,2814.7 1092.9,2811.3 1093.7,2803.8 1094.9,2803.2 1095.7,2813.9 1096.9,2814.3 1098.1,2812.7 1099.3,2809.2 1100.5,2810.3 1101.7,2809.8 1103.3,2810.3 1104.5,2809.8 1105.3,2800.2 1106.1,2797.2 1107.7,2796.6 1109.3,2796.2 1110.1,2801.2 1111.3,2802.2 1112.5,2802.6 1113.7,2801.8 1114.9,2802.2 1115.7,2807.2 1117.3,2807.8 1118.5,2806.6 1119.7,2805.2 1120.9,2805.8 1121.7,2809.2 1122.9,2812.3 1124.1,2811.9 1125.3,2809.2 1126.5,2806.6 1127.7,2807.2 1128.9,2807.8 1130.1,2806.6 1131.3,2805.2 1132.1,2800.2 1133.7,2799.8 1134.9,2800.6 1135.7,2807.2 1136.9,2809.2 1138.1,2808.2 1139.3,2807.2 1140.5,2805.8 1141.7,2809.2 1142.9,2810.3 1144.1,2808.2 1145.3,2809.2 1146.5,2813.3 1147.7,2812.3 1148.9,2810.3 1150.2,2809.8 1151.4,2811.3 1152.6,2813.9 1153.8,2816.7 1155.0,2819.3 1156.2,2820.3 1156.6,2831.3 1157.8,2833.3 1159.0,2833.9 1160.2,2830.3 1161.4,2830.7 1162.6,2831.9 1163.8,2831.3 1165.0,2832.7 1166.2,2831.9 1167.4,2833.3 1168.6,2833.9 1169.8,2831.3 1171.0,2830.3 1172.2,2826.3 1173.4,2819.3 1174.6,2821.3 1175.8,2821.9 1177.0,2820.3 1178.2,2819.9 1179.0,2806.2 1180.2,2804.6 1181.4,2805.2 1182.6,2809.2 1183.4,2817.3 1184.6,2816.3 1185.8,2815.3 1187.0,2811.9 1188.2,2811.3 1189.4,2815.3 1190.6,2816.3 1191.8,2815.9 1193.0,2816.7 1193.8,2820.7 1195.4,2821.3 1197.0,2820.7 1198.6,2821.3 1199.4,2812.7 1200.6,2809.2 1201.8,2808.6 1203.0,2813.3 1204.2,2812.3 1205.0,2803.2 1206.2,2804.6 1207.4,2805.8 1208.6,2808.2 1209.4,2816.3 1210.6,2816.7 1211.8,2808.2 1213.0,2808.6 1214.2,2805.2 1215.4,2807.2 1216.6,2803.2 1217.8,2800.2 1219.0,2796.2 1219.8,2790.2 1221.0,2790.6 1222.2,2792.2 1223.4,2793.2 1224.6,2792.6 1225.8,2795.8 1227.0,2796.2 1228.2,2795.2 1229.8,2794.6 1231.0,2801.2 1232.2,2803.2 1233.4,2804.2 1234.6,2808.2 1235.8,2816.3 1237.0,2819.9 1238.2,2820.7 1239.8,2820.3 1241.4,2821.3 1243.0,2821.9 1244.2,2822.3 1245.0,2825.9 1246.2,2821.3 1247.4,2821.9 1248.6,2824.3 1249.8,2822.7 1251.1,2823.9 1252.3,2824.7 1253.1,2828.3 1254.3,2827.3 1255.5,2825.3 1256.7,2829.3 1257.9,2818.3 1259.1,2816.7 1260.3,2817.9 1261.5,2821.3 1262.7,2820.7 1263.9,2821.3 1265.1,2820.3 1266.3,2825.9 1267.5,2827.9 1268.7,2822.3 1269.9,2821.3 1271.1,2817.3 1272.7,2817.9 1274.3,2817.3 1275.5,2816.7 1276.7,2819.3 1277.9,2821.3 1279.1,2822.3 1280.3,2821.9 1281.1,2819.3 1282.3,2810.3 1283.1,2804.6 1284.3,2805.2 1285.5,2807.2 1286.7,2810.3 1287.9,2812.7 1288.7,2814.3 1289.9,2810.3 1291.1,2811.3 1292.3,2809.2 1293.1,2805.8 1294.3,2805.2 1295.5,2806.6 1296.7,2804.2 1297.9,2798.6 1298.7,2797.2 1299.9,2799.2 1301.1,2799.8 1302.3,2798.2 1303.5,2794.2 1304.3,2780.2 1305.5,2778.2 1306.7,2776.2 1307.9,2771.2 1308.7,2769.2 1309.1,2753.2 1310.3,2752.6 1311.1,2768.2 1311.9,2755.2 1313.1,2769.2 1314.3,2757.2 1315.5,2767.2 1316.7,2758.2 1317.5,2765.2 1318.7,2760.2 1319.9,2759.2 1321.1,2758.2 1322.3,2756.2 1323.5,2754.2 1324.3,2746.2 1325.1,2744.2 1326.3,2745.2 1327.5,2743.2 1328.7,2741.8 1329.9,2740.2 1331.1,2742.6 1332.3,2751.2 1333.5,2754.2 1334.3,2745.2 1335.5,2744.2 1336.7,2745.8 1337.9,2747.2 1339.1,2748.2 1339.9,2759.2 1341.1,2760.2 1342.3,2759.8 1343.5,2759.2 1344.3,2750.2 1345.1,2749.8 1345.9,2757.2 1347.1,2758.6 1348.3,2759.8 1349.5,2758.2 1350.8,2750.2 1352.0,2749.2 1353.2,2748.2 1354.0,2742.2 1354.8,2741.8 1355.6,2752.2 1356.8,2753.8 1358.0,2752.6 1359.2,2751.8 1360.0,2745.2 1361.2,2744.2 1362.4,2751.2 1363.6,2751.8 1364.8,2750.2 1366.0,2747.2 1366.8,2736.2 1367.6,2725.2 1368.8,2724.2 1370.0,2724.6 1371.2,2729.2 1372.4,2725.2 1373.6,2725.8 1374.4,2734.2 1375.6,2735.8 1376.8,2735.2 1378.0,2734.6 1379.2,2730.2 1380.4,2728.2 1381.6,2735.2 1382.8,2738.6 1384.0,2739.2 1385.2,2740.2 1386.0,2749.2 1387.2,2753.2 1388.4,2757.2 1389.6,2760.2 1390.8,2761.2 1392.0,2759.2 1393.2,2758.2 1394.0,2743.2 1395.2,2742.2 1396.4,2741.2 1397.2,2732.2 1398.4,2726.2 1399.6,2725.2 1400.8,2720.2 1402.0,2717.2 1403.2,2714.2 1404.4,2712.2 1405.6,2723.2 1406.8,2716.2 1407.6,2730.2 1408.4,2732.2 1408.8,2702.1 1410.0,2701.1 1411.2,2697.1 1412.4,2701.1 1413.2,2696.1 1414.0,2686.1 1415.2,2685.1 1416.4,2680.1 1417.6,2673.1 1418.8,2669.7 1420.4,2668.1 1421.6,2669.7 1422.4,2686.1 1424.0,2686.5 1425.6,2683.1 1426.8,2684.1 1428.0,2694.2 1429.2,2687.1 1430.4,2689.1 1431.6,2693.2 1432.8,2692.2 1433.6,2678.1 1434.4,2670.1 1435.6,2669.1 1436.4,2668.1 1437.2,2661.1 1438.4,2660.1 1440.0,2661.1 1440.8,2677.1 1442.0,2677.7 1443.2,2670.1 1444.4,2669.7 1445.6,2675.1 1447.2,2674.5 1448.4,2668.1 1449.6,2663.1 1450.4,2661.1 1451.6,2668.1 1452.8,2669.1 1454.0,2670.1 1454.8,2678.1 1456.0,2679.1 1457.6,2680.1 1458.8,2685.1 1460.1,2686.1 1461.3,2676.1 1462.1,2673.7 1463.3,2672.1 1463.7,2654.5 1464.9,2654.1 1466.1,2660.1 1466.9,2670.1 1468.1,2666.5 1469.3,2668.1 1470.5,2673.1 1471.7,2678.1 1472.9,2680.1 1474.1,2679.1 1474.9,2675.1 1475.7,2660.1 1476.9,2658.5 1478.1,2658.1 1479.7,2657.7 1480.5,2665.1 1481.7,2670.1 1482.9,2672.1 1484.5,2673.7 1485.3,2676.1 1485.7,2710.2 1486.5,2720.6 1487.7,2721.2 1488.5,2716.2 1489.7,2716.6 1490.9,2721.2 1491.7,2716.6 1492.9,2721.8 1494.1,2722.2 1495.3,2721.2 1496.1,2708.2 1497.3,2707.2 1498.5,2709.2 1499.7,2711.2 1500.9,2703.2 1502.1,2702.2 1503.3,2703.2 1504.5,2700.2 1505.7,2699.8 1506.5,2688.1 1507.7,2676.1 1508.9,2675.7 1510.1,2676.1 1510.9,2694.2 1512.1,2698.2 1512.9,2720.2 1513.7,2738.2 1514.9,2739.2 1516.1,2744.2 1516.9,2738.2 1518.1,2744.2 1518.9,2755.2 1520.1,2754.2 1520.9,2750.2 1522.1,2750.6 1522.9,2776.2 1524.1,2777.2 1524.9,2766.2 1526.5,2766.6 1527.7,2784.2 1528.9,2784.6 1530.1,2779.2 1531.3,2785.2 1532.5,2782.2 1533.7,2784.2 1534.5,2795.3 1535.7,2794.3 1536.9,2793.3 1537.7,2797.3 1538.5,2808.3 1539.3,2820.7 1540.1,2819.3 1541.3,2812.3 1542.5,2813.3 1543.7,2819.3 1544.9,2820.3 1546.1,2816.3 1547.3,2815.3 1548.5,2809.3 1549.3,2794.3 1550.5,2793.9 1551.3,2802.3 1552.5,2801.3 1553.3,2792.7 1554.1,2774.2 1555.3,2773.8 1556.5,2781.2 1557.7,2780.2 1558.9,2767.2 1560.2,2760.2 1561.4,2758.6 1562.6,2758.2 1563.4,2743.2 1564.6,2742.6 1565.4,2753.2 1566.6,2752.2 1567.8,2740.6 1569.0,2740.2 1570.2,2765.8 1571.4,2765.2 1572.6,2763.2 1573.8,2761.2 1574.6,2747.2 1575.8,2740.2 1577.0,2737.2 1577.8,2737.8 1578.6,2724.2 1579.8,2718.6 1581.0,2718.2 1581.8,2729.2 1583.0,2725.2 1584.2,2732.6 1585.4,2724.2 1586.2,2720.2 1587.8,2721.2 1589.4,2722.2 1590.6,2721.2 1591.4,2706.2 1592.2,2703.2 1593.4,2702.6 1594.6,2706.2 1595.4,2711.2 1596.6,2710.2 1597.4,2722.6 1598.6,2722.2 1599.8,2732.2 1601.0,2752.2 1602.2,2752.6 1603.8,2751.2 1605.0,2754.2 1606.2,2753.8 1607.0,2730.2 1608.2,2727.2 1609.4,2726.2 1610.6,2710.2 1611.8,2709.2 1613.0,2714.2 1614.2,2703.2 1615.4,2704.2 1616.6,2714.2 1617.8,2708.2 1619.0,2707.8 1620.2,2701.2 1621.4,2705.2 1622.6,2704.2 1623.8,2703.2 1625.0,2702.2 1625.8,2700.6 1626.6,2673.1 1627.8,2671.7 1629.0,2672.5 1630.2,2672.1 1631.4,2670.1 1632.6,2678.1 1633.8,2676.1 1635.0,2676.5 1635.8,2693.2 1637.0,2693.8 1637.8,2690.2 1639.4,2689.7 1640.6,2690.6 1641.4,2700.2 1642.2,2701.2 1643.0,2724.2 1644.2,2727.2 1645.4,2726.6 1646.6,2730.2 1647.8,2735.2 1648.6,2728.2 1649.8,2727.2 1651.0,2724.2 1651.8,2712.2 1652.6,2696.2 1653.8,2697.2 1655.0,2706.2 1655.8,2698.2 1657.0,2705.2 1658.2,2705.8 1659.0,2700.2 1659.8,2692.2 1661.5,2691.8 1662.7,2695.2 1663.9,2694.2 1664.7,2681.1 1665.9,2680.1 1666.7,2676.1 1667.9,2667.1 1668.7,2670.1 1669.9,2692.2 1671.1,2693.2 1672.3,2692.6 1673.5,2693.2 1674.3,2700.2 1675.1,2704.6 1676.3,2705.2 1677.1,2713.8 1678.3,2714.2 1679.5,2709.2 1680.3,2701.8 1681.9,2701.2 1682.7,2712.2 1683.9,2708.2 1685.1,2710.2 1686.3,2715.2 1687.5,2715.8 1688.3,2733.2 1689.5,2729.2 1690.3,2740.2 1691.1,2742.2 1692.3,2742.6 1693.5,2739.2 1694.7,2738.2 1695.9,2736.2 1696.7,2727.2 1697.9,2726.2 1698.7,2714.2 1699.9,2713.2 1700.7,2701.8 1701.9,2702.6 1702.7,2706.2 1703.9,2700.2 1705.1,2705.2 1705.9,2692.2 1706.7,2688.1 1707.9,2688.5 1709.5,2688.1 1711.1,2689.1 1711.9,2690.2 1712.7,2698.2 1713.9,2699.2 1714.7,2694.2 1715.5,2671.1 1716.7,2669.1 1717.9,2670.1 1719.1,2669.7 1719.9,2685.1 1720.7,2672.1 1721.9,2671.1 1723.1,2673.1 1724.3,2666.1 1725.5,2671.1 1726.7,2670.1 1727.9,2668.1 1729.1,2666.1 1729.9,2649.1 1731.1,2648.1 1731.9,2635.1 1733.1,2634.1 1734.3,2622.1 1735.1,2621.1 1735.9,2626.1 1737.1,2612.1 1738.3,2613.7 1739.5,2615.1 1740.3,2630.1 1741.5,2636.1 1742.7,2632.1 1743.5,2640.1 1744.7,2641.1 1745.5,2651.1 1746.7,2652.1 1747.5,2666.1 1748.7,2666.5 1749.5,2649.7 1750.7,2649.1 1751.5,2668.1 1752.7,2675.1 1753.9,2676.1 1754.7,2680.1 1755.9,2686.1 1757.1,2685.7 1758.3,2688.1 1759.5,2680.1 1760.8,2672.1 1762.0,2666.1 1763.2,2664.5 1764.0,2655.1 1766.0,2654.5 1766.8,2668.1 1767.6,2676.1 1768.4,2668.1 1769.6,2667.7 1770.4,2676.5 1771.6,2675.7 1772.8,2680.1 1773.6,2689.1 1774.8,2681.1 1776.4,2681.7 1778.0,2681.1 1779.2,2686.5 1780.4,2685.7 1781.2,2676.1 1782.4,2675.1 1783.6,2673.1 1784.8,2681.7 1786.0,2682.1 1787.6,2681.1 1788.8,2680.1 1789.6,2666.1 1790.8,2666.5 1792.0,2681.1 1793.2,2680.1 1793.6,2666.1 1795.2,2666.5 1796.4,2665.1 1797.6,2663.7 1798.8,2664.1 1799.6,2681.1 1800.8,2680.1 1802.0,2676.1 1803.2,2676.5 1804.0,2688.1 1805.2,2706.2 1806.4,2707.2 1807.6,2712.2 1808.8,2707.2 1809.6,2700.2 1810.8,2699.2 1812.0,2698.2 1813.2,2693.2 1814.4,2690.2 1815.6,2687.1 1816.4,2680.1 1818.0,2679.7 1818.8,2672.1 1820.0,2660.1 1820.8,2653.1 1822.4,2652.1 1823.6,2639.1 1824.8,2638.1 1826.0,2634.1 1827.2,2643.1 1828.4,2644.1 1830.0,2644.1 1830.8,2634.1 1831.6,2621.1 1832.8,2619.7 1834.0,2619.1 1835.2,2623.1 1836.0,2631.1 1837.2,2630.1 1838.0,2626.5 1839.2,2626.1 1840.0,2616.1 1840.4,2602.1 1841.6,2602.5 1842.4,2612.1 1843.6,2614.5 1844.4,2620.1 1845.6,2612.5 1847.2,2613.1 1847.6,2626.1 1848.8,2626.5 1849.6,2621.1 1850.4,2634.1 1851.2,2641.1 1852.4,2643.1 1853.6,2643.7 1854.8,2643.1 1855.6,2634.1 1856.4,2610.5 1857.6,2610.1 1858.4,2616.1 1859.6,2617.1 1860.8,2618.1 1861.2,2637.1 1862.4,2637.7 1863.6,2631.1 1865.2,2631.7 1866.0,2644.1 1867.2,2646.1 1868.4,2644.1 1869.6,2644.5 1870.5,2631.7 1871.7,2631.1 1872.5,2643.7 1873.7,2643.1 1874.9,2642.1 1876.1,2639.1 1877.3,2638.5 1878.1,2649.1 1879.3,2650.1 1880.5,2652.1 1881.7,2653.7 1882.5,2636.1 1883.3,2622.1 1884.5,2621.1 1885.3,2617.1 1886.5,2617.7 1887.3,2642.1 1888.9,2642.5 1889.7,2628.1 1891.3,2628.5 1892.1,2642.1 1893.7,2642.5 1894.9,2637.1 1896.5,2636.5 1897.3,2619.1 1898.5,2619.7 1899.3,2636.1 1900.1,2626.1 1901.7,2624.1 1903.3,2623.7 1904.1,2629.1 1904.9,2637.1 1906.1,2638.1 1906.9,2647.1 1908.1,2648.1 1908.9,2654.5 1910.1,2649.1 1911.3,2649.7 1912.1,2660.1 1913.3,2666.1 1914.1,2656.1 1915.7,2657.1 1917.3,2658.1 1918.5,2658.5 1919.3,2651.1 1920.5,2651.7 1921.7,2653.7 1922.5,2655.1 1923.3,2679.1 1924.5,2678.5 1926.1,2678.1 1927.3,2676.1 1928.5,2679.1 1929.7,2667.7 1930.9,2669.1 1932.1,2671.1 1933.3,2672.1 1934.5,2671.7 1935.7,2677.1 1936.9,2678.1 1938.1,2679.7 1939.3,2676.1 1940.5,2675.1 1942.1,2673.7 1943.7,2672.5 1945.3,2671.1 1946.1,2672.1 1946.9,2691.2 1948.1,2692.2 1949.3,2695.2 1950.1,2701.2 1951.3,2701.8 1952.1,2699.2 1953.3,2699.8 1954.5,2710.2 1955.7,2717.2 1956.9,2718.2 1958.1,2714.2 1959.3,2723.2 1960.5,2710.6 1961.7,2709.8 1963.3,2709.2 1964.5,2710.2 1965.7,2721.2 1966.9,2722.2 1968.1,2720.2 1969.3,2723.2 1970.2,2734.2 1971.4,2738.2 1972.2,2740.2 1973.4,2735.2 1974.6,2737.2 1975.8,2733.2 1977.0,2738.2 1978.2,2738.6 1979.4,2738.2 1980.6,2739.2 1981.8,2753.2 1982.6,2753.8 1983.8,2746.2 1985.0,2754.2 1985.8,2748.2 1987.0,2749.2 1988.2,2750.2 1989.8,2751.2 1990.6,2764.2 1991.4,2770.2 1992.2,2783.2 1993.4,2782.2 1994.6,2774.2 1995.8,2765.2 1997.0,2762.2 1998.2,2773.2 1999.0,2757.2 2000.2,2754.6 2001.0,2750.2 2001.8,2755.2 2003.0,2760.2 2004.2,2759.2 2005.4,2760.2 2006.6,2768.2 2007.8,2760.2 2009.0,2761.2 2010.2,2762.2 2011.4,2761.8 2012.6,2755.2 2013.8,2765.2 2015.0,2764.2 2016.2,2763.2 2017.4,2758.2 2018.6,2754.2 2019.8,2760.2 2021.0,2761.2 2022.2,2759.2 2023.4,2762.2 2024.2,2775.8 2025.4,2770.2 2026.6,2770.6 2027.4,2758.2 2028.6,2757.8 2030.2,2757.2 2031.4,2772.2 2032.6,2770.2 2033.8,2740.2 2035.0,2739.2 2036.2,2744.2 2037.4,2738.2 2038.6,2740.6 2039.8,2737.2 2041.4,2738.2 2042.6,2742.2 2043.4,2732.2 2044.6,2731.2 2046.2,2731.8 2047.8,2731.2 2049.0,2748.2 2050.2,2732.2 2051.8,2731.8 2053.0,2732.6 2054.2,2737.2 2055.4,2741.2 2056.2,2754.2 2057.4,2756.2 2058.6,2761.8 2059.8,2752.2 2061.0,2742.2 2062.2,2741.2 2063.8,2740.2 2065.4,2736.2 2066.6,2740.2 2068.2,2741.2 2069.4,2749.2 2070.7,2744.6 2072.3,2744.2 2073.5,2743.2 2074.3,2729.2 2075.5,2726.2 2076.3,2718.6 2077.5,2718.2 2078.7,2719.2 2079.9,2722.2 2081.1,2726.2 2082.3,2729.2 2083.9,2728.2 2085.1,2723.2 2085.9,2711.2 2087.1,2712.2 2088.3,2711.2 2089.1,2703.2 2090.3,2702.2 2091.5,2693.2 2092.3,2690.6 2093.5,2689.7 2094.7,2689.1 2095.9,2687.1 2096.7,2680.1 2097.9,2682.5 2099.1,2689.1 2100.3,2687.1 2101.5,2681.7 2102.7,2687.1 2103.9,2685.1 2105.1,2684.1 2106.3,2681.7 2107.5,2684.1 2108.3,2692.2 2109.5,2694.2 2110.7,2695.2 2111.9,2694.6 2113.1,2693.2 2113.5,2672.1 2114.7,2671.1 2115.5,2671.7 2116.7,2658.1 2117.9,2657.1 2119.1,2661.1 2120.3,2662.1 2121.5,2665.1 2122.3,2672.1 2123.5,2667.1 2124.7,2666.1 2125.9,2672.1 2127.1,2673.7 2128.3,2671.1 2129.1,2658.1 2130.3,2657.1 2131.1,2640.1 2132.3,2639.7 2133.5,2655.1 2134.7,2655.7 2135.9,2653.7 2137.5,2653.1 2138.3,2664.1 2139.1,2684.1 2140.3,2688.1 2141.5,2694.2 2142.7,2695.2 2143.9,2684.1 2145.1,2689.1 2146.3,2688.1 2147.5,2672.1 2148.7,2671.7 2149.9,2685.1 2151.1,2682.1 2152.3,2678.1 2153.5,2672.1 2154.7,2671.1 2155.9,2668.1 2157.1,2661.1 2158.3,2670.1 2159.1,2692.2 2160.3,2693.2 2161.5,2695.2 2162.7,2695.8 2163.9,2693.2 2165.5,2693.8 2166.7,2692.6 2167.9,2693.2 2168.7,2676.5 2169.5,2676.1 2170.4,2691.2 2171.6,2693.2 2172.8,2694.2 2173.6,2708.2 2174.8,2710.2 2176.0,2711.2 2177.6,2710.2 2178.8,2713.2 2180.0,2711.2 2180.8,2699.2 2182.0,2698.2 2183.2,2700.2 2184.4,2702.2 2185.2,2714.2 2186.0,2716.2 2187.2,2707.2 2188.4,2706.2 2189.6,2705.2 2190.8,2703.2 2192.0,2700.2 2193.2,2684.5 2194.4,2684.1 2195.6,2689.1 2196.4,2710.2 2197.6,2711.2 2198.8,2713.2 2200.0,2716.2 2201.2,2710.2 2202.0,2701.8 2203.2,2702.2 2204.4,2709.8 2205.6,2709.2 2206.8,2678.1 2208.0,2677.1 2208.8,2655.1 2210.0,2653.1 2211.2,2636.1 2212.4,2634.1 2213.6,2635.1 2214.8,2650.1 2216.0,2653.1 2217.2,2634.1 2218.4,2633.1 2219.6,2633.7 2220.4,2600.1 2221.2,2561.0 2222.4,2560.0 2222.8,2560.1 2224.0,2558.1 2224.8,2532.1 2225.6,2529.1 2226.4,2529.7 2227.2,2548.1 2228.4,2546.1 2229.2,2580.2 2230.4,2580.6 2230.8,2548.1 2231.2,2536.5 2232.4,2537.1 2233.2,2560.1 2234.4,2564.1 2235.2,2568.5 2236.4,2566.1 2236.8,2539.1 2237.6,2538.5 2238.4,2558.1 2239.2,2544.1 2240.0,2558.1 2241.2,2558.5 2242.4,2558.1 2242.8,2510.1 2243.6,2509.7 2244.4,2532.1 2245.2,2540.1 2246.0,2548.1 2247.2,2540.1 2248.0,2553.7 2249.2,2541.1 2250.4,2540.1 2251.2,2556.1 2252.4,2559.7 2253.0,2540.1 2253.0,2523.1 2254.0,2522.1 2255.2,2529.7 2256.4,2529.1 2257.0,2500.1 2257.4,2480.1 2257.6,2462.4 2258.4,2462.0 2259.6,2475.1 2260.9,2460.0 2262.1,2474.1 2262.9,2458.0 2263.7,2451.6 2264.9,2452.4 2265.7,2466.0 2266.9,2490.1 2268.1,2469.0 2268.9,2492.1 2269.7,2463.0 2270.9,2462.4 2271.7,2467.0 2272.5,2453.6 2273.7,2453.0 2274.5,2482.1 2275.7,2485.1 2276.9,2460.0 2277.7,2486.1 2278.9,2458.0 2279.7,2457.6 2280.1,2480.1 2280.5,2500.1 2281.3,2506.5 2282.5,2509.1 2283.3,2520.1 2284.1,2531.1 2285.3,2519.1 2286.1,2520.1 2287.3,2533.1 2288.5,2531.1 2289.7,2530.1 2290.5,2510.1 2291.3,2509.7 2292.1,2528.1 2292.9,2521.1 2293.7,2501.7 2294.5,2501.1 2295.3,2522.1 2296.1,2532.1 2297.3,2538.1 2298.1,2561.1 2299.3,2560.1 2300.1,2534.1 2301.3,2533.1 2302.5,2540.1 2303.3,2535.1 2304.5,2536.5 2305.7,2537.1 2306.5,2551.1 2307.7,2552.1 2308.9,2563.1 2310.1,2553.1 2311.3,2558.1 2312.5,2556.1 2313.7,2564.1 2314.9,2563.1 2315.7,2549.1 2316.9,2548.5 2318.1,2564.1 2319.3,2566.5 2320.5,2548.1 2321.7,2545.7 2322.9,2545.1 2324.1,2548.1 2324.9,2568.1 2325.7,2573.2 2326.9,2574.2 2327.7,2592.2 2328.9,2595.2 2330.1,2598.2 2330.9,2592.2 2331.7,2587.2 2332.9,2586.6 2334.1,2588.6 2335.3,2587.8 2336.5,2589.2 2337.7,2596.2 2338.9,2598.2 2340.1,2603.2 2341.3,2604.2 2342.5,2601.2 2343.7,2597.2 2344.9,2598.2 2345.7,2588.2 2346.9,2587.8 2347.7,2602.2 2348.9,2602.6 2350.1,2603.2 2351.3,2598.2 2352.5,2592.2 2353.7,2592.6 2354.9,2591.8 2356.1,2593.2 2357.3,2592.2 2358.5,2592.6 2359.7,2591.8 2360.6,2578.2 2361.8,2576.2 2362.6,2569.1 2364.2,2568.5 2365.4,2569.7 2366.6,2569.1 2367.8,2568.1 2368.6,2543.1 2369.8,2542.1 2370.6,2532.1 2371.8,2529.1 2372.6,2544.1 2373.8,2541.1 2375.0,2540.1 2376.2,2541.1 2377.0,2553.1 2378.2,2554.1 2379.0,2548.1 2380.6,2549.1 2381.8,2550.1 2383.0,2550.5 2384.2,2548.1 2385.4,2547.1 2386.2,2540.1 2387.4,2538.1 2388.2,2549.7 2389.4,2536.1 2390.6,2535.7 2391.8,2540.1 2392.6,2563.1 2393.8,2560.1 2394.6,2554.1 2395.8,2553.7 2397.0,2553.1 2397.8,2558.1 2399.0,2559.1 2399.8,2548.1 2401.0,2549.1 2402.2,2551.7 2403.4,2551.1 2403.8,2535.1 2404.6,2516.1 2405.8,2516.5 2406.6,2509.1 2408.2,2508.1 2409.0,2520.1 2409.8,2521.1 2410.2,2558.1 2411.4,2559.1 2412.6,2559.7 2413.4,2558.1 2413.8,2526.1 2414.6,2509.1 2415.8,2509.7 2417.0,2510.5 2418.2,2509.1 2419.0,2524.1 2419.8,2540.1 2420.2,2580.2 2420.6,2602.2 2421.8,2603.2 2422.6,2612.2 2423.4,2608.2 2424.2,2624.2 2425.0,2637.8 2425.8,2638.2 2427.0,2622.2 2427.8,2602.2 2428.2,2621.2 2429.0,2612.2 2429.4,2545.1 2430.6,2546.1 2431.8,2549.1 2433.0,2552.1 2434.2,2581.2 2435.4,2570.2 2436.2,2558.1 2437.4,2557.1 2438.2,2536.1 2439.4,2535.1 2440.2,2546.1 2441.0,2522.1 2442.2,2519.1 2443.4,2520.1 2444.2,2508.1 2445.4,2507.1 2446.6,2520.1 2447.4,2535.1 2448.6,2536.1 2449.8,2536.5 2450.6,2520.1 2451.8,2513.7 2453.0,2516.1 2454.2,2518.1 2455.0,2529.1 2456.2,2528.1 2457.0,2543.1 2458.2,2542.5 2459.0,2542.1 2459.8,2540.1 2461.1,2548.1 2461.9,2534.1 2463.1,2545.1 2464.3,2546.1 2465.5,2545.1 2466.7,2535.1 2467.9,2525.1 2469.1,2526.1 2470.3,2528.1 2471.5,2527.1 2472.3,2535.1 2473.5,2534.5 2474.7,2537.1 2475.9,2550.1 2477.1,2551.1 2478.3,2543.7 2479.5,2540.1 2480.7,2541.1 2481.5,2558.1 2482.7,2568.1 2483.9,2569.1 2485.1,2568.5 2486.3,2558.1 2487.1,2545.1 2488.3,2546.1 2489.5,2552.1 2491.1,2553.1 2492.3,2556.1 2493.5,2557.1 2494.3,2550.1 2495.5,2549.1 2496.3,2540.1 2497.9,2539.7 2499.1,2542.1 2500.3,2542.5 2501.5,2540.1 2502.7,2544.5 2504.3,2543.7 2505.9,2545.1 2507.1,2541.1 2508.3,2533.1 2509.5,2538.1 2510.7,2539.1 2511.9,2541.1 2513.1,2541.7 2514.3,2544.1 2515.5,2542.1 2516.7,2540.1 2517.9,2538.1 2518.7,2516.1 2519.9,2507.7 2521.5,2508.1 2522.3,2492.1 2523.5,2485.1 2524.7,2486.1 2525.9,2490.1 2527.1,2489.7 2527.9,2478.1 2529.1,2461.6 2530.3,2461.0 2531.1,2474.1 2532.3,2477.1 2533.1,2482.1 2533.9,2526.1 2535.1,2525.1 2535.9,2516.1 2537.1,2517.1 2538.3,2500.1 2539.5,2499.7 2540.3,2527.1 2541.5,2524.1 2542.7,2531.1 2543.9,2533.1 2545.1,2526.1 2546.3,2523.1 2547.5,2534.1 2548.3,2524.1 2549.5,2525.1 2550.7,2539.1 2551.9,2540.1 2553.5,2542.1 2554.7,2543.1 2556.3,2540.1 2557.9,2543.7 2559.1,2540.1 2560.4,2540.5 2561.6,2543.7 2562.8,2544.5 2564.0,2546.1 2564.8,2576.2 2566.0,2578.2 2567.2,2579.2 2568.4,2579.8 2569.2,2569.1 2570.4,2567.1 2571.6,2568.5 2572.8,2565.7 2574.0,2566.5 2574.8,2578.2 2576.0,2575.2 2577.2,2563.1 2578.4,2562.1 2579.6,2563.1 2580.4,2578.2 2581.6,2576.2 2582.8,2575.8 2584.0,2577.2 2585.2,2571.2 2586.4,2570.2 2587.6,2578.2 2589.2,2579.2 2590.4,2578.2 2591.6,2577.8 2592.4,2591.2 2593.6,2590.2 2594.8,2589.2 2596.0,2586.2 2597.2,2569.1 2598.4,2568.1 2600.0,2569.1 2600.8,2597.2 2602.0,2596.6 2603.2,2591.2 2604.4,2590.6 2605.6,2591.8 2606.8,2596.6 2608.0,2598.2 2609.2,2597.8 2610.4,2598.6 2611.2,2618.2 2612.4,2620.2 2613.6,2625.2 2614.4,2620.2 2615.2,2627.2 2616.4,2629.2 2617.6,2614.2 2618.8,2610.2 2620.0,2612.2 2621.2,2603.2 2622.4,2602.6 2623.2,2612.2 2624.4,2613.2 2625.6,2614.2 2626.8,2617.2 2628.0,2604.2 2628.8,2601.2 2630.0,2602.1 2631.2,2603.1 2632.4,2610.1 2633.6,2602.5 2634.8,2603.7 2636.0,2603.1 2637.2,2607.1 2638.4,2606.1 2639.2,2601.1 2640.4,2600.1 2641.2,2589.1 2642.4,2587.7 2643.6,2588.5 2644.4,2600.1 2644.8,2617.7 2646.0,2619.1 2647.2,2620.1 2648.4,2617.7 2649.6,2620.1 2650.8,2625.1 2652.0,2626.1 2653.2,2620.1 2654.0,2613.7 2655.2,2614.1 2656.4,2619.1 2657.6,2621.1 2658.8,2620.1 2660.0,2623.7 2661.2,2624.1 2662.4,2619.7 2663.6,2619.1 2664.4,2628.1 2665.2,2639.1 2666.4,2638.1 2667.6,2632.1 2668.8,2627.1 2670.1,2626.1 2671.3,2632.1 2672.5,2633.1 2673.7,2634.1 2674.5,2645.1 2675.7,2646.1 2676.9,2646.5 2678.1,2645.1 2678.9,2637.1 2680.1,2639.1 2680.9,2640.1 2681.7,2658.1 2682.9,2659.1 2684.1,2658.1 2685.3,2658.5 2686.1,2668.1 2687.3,2669.1 2688.5,2672.2 2689.3,2674.2 2690.5,2664.1 2691.7,2662.5 2692.9,2663.1 2694.1,2662.1 2695.3,2661.1 2696.1,2658.1 2697.3,2657.7 2698.5,2658.1 2699.7,2661.1 2700.9,2663.1 2702.1,2662.1 2703.3,2663.1 2704.5,2663.7 2705.3,2675.8 2706.1,2676.2 2707.3,2664.1 2708.5,2663.7 2709.7,2664.1 2710.5,2663.1 2711.7,2658.1 2712.5,2657.1 2713.7,2661.1 2714.9,2664.1 2716.1,2663.7 2716.9,2663.1 2717.7,2653.1 2718.9,2652.1 2720.1,2652.5 2721.3,2651.1 2722.1,2648.1 2723.3,2652.1 2724.5,2652.5 2726.1,2652.1 2727.7,2653.1 2728.9,2656.1 2730.1,2656.5 2731.3,2654.1 2732.5,2652.1 2733.3,2641.1 2734.5,2640.1 2735.7,2639.7 2736.9,2639.1 2738.1,2645.1 2739.3,2640.1 2740.5,2639.1 2741.3,2633.1 2742.5,2631.1 2743.7,2629.7 2744.9,2628.5 2746.1,2628.1 2747.3,2624.5 2748.5,2624.1 2750.1,2623.7 2751.7,2623.5 2752.9,2624.1 2754.1,2634.1 2755.3,2629.1 2756.5,2628.1 2757.7,2628.5 2758.9,2628.1 2760.1,2632.1 2761.3,2634.1 2762.5,2636.1 2763.3,2640.1 2764.1,2662.1 2765.3,2665.1 2766.5,2665.7 2767.7,2661.1 2768.9,2661.7 2770.2,2662.1 2771.4,2661.1 2772.6,2662.1 2773.8,2667.1 2775.0,2664.1 2776.2,2662.1 2777.4,2661.1 2778.6,2659.7 2779.8,2657.1 2781.0,2656.1 2782.2,2656.5 2783.4,2656.1 2784.6,2651.1 2785.4,2650.5 2786.6,2655.1 2787.8,2656.1 2789.0,2657.1 2790.2,2658.1 2791.4,2659.1 2792.6,2660.1 2793.8,2660.5 2795.0,2659.7 2795.8,2652.5 2797.0,2656.1 2798.2,2657.1 2799.4,2657.7 2800.6,2658.1 2801.8,2671.2 2803.0,2672.2 2804.2,2680.2 2805.4,2679.8 2806.6,2668.1 2807.8,2667.1 2809.0,2666.1 2810.2,2665.7 2811.4,2667.1 2812.6,2667.7 2813.8,2662.1 2815.0,2661.7 2816.2,2665.1 2817.4,2659.1 2818.6,2658.1 2819.8,2658.5 2821.0,2659.1 2822.2,2658.1 2823.0,2656.5 2824.2,2656.1 2825.4,2657.1 2826.2,2666.1 2827.4,2667.7 2828.6,2668.1 2829.8,2664.1 2831.0,2663.7 2831.8,2677.2 2833.0,2677.8 2834.2,2678.2 2835.4,2673.2 2836.2,2672.6 2837.4,2680.2 2838.6,2681.2 2839.8,2678.2 2841.0,2680.2 2842.2,2685.8 2843.4,2678.2 2844.6,2677.8 2845.8,2674.6 2847.0,2676.2 2848.2,2678.2 2849.4,2678.6 2850.6,2679.2 2851.4,2679.8 2852.2,2669.1 2853.0,2668.5 2854.2,2677.2 2855.4,2677.8 2856.6,2676.6 2857.8,2672.2 2859.0,2671.2 2860.2,2668.1 2861.4,2666.5 2862.6,2669.1 2863.8,2671.2 2865.0,2673.2 2865.8,2670.2 2867.0,2675.2 2868.2,2677.2 2869.0,2665.1 2870.3,2664.1 2871.5,2663.1 2872.7,2660.1 2873.5,2653.7 2874.7,2652.5 2876.3,2653.1 2877.9,2652.5 2879.1,2656.1 2880.3,2658.1 2881.5,2659.1 2882.3,2674.2 2883.5,2675.2 2884.7,2672.2 2885.9,2671.2 2887.1,2671.8 2887.9,2678.2 2889.1,2680.2 2890.3,2681.2 2891.5,2677.2 2892.7,2676.6 2893.9,2678.2 2895.1,2679.2 2896.3,2677.2 2897.5,2680.2 2898.7,2681.2 2899.9,2674.2 2901.1,2673.8 2902.3,2674.6 2903.5,2677.2 2904.7,2674.2 2905.9,2671.2 2907.1,2672.2 2908.3,2671.8 2909.5,2672.6 2910.7,2667.1 2911.9,2666.5 2913.1,2674.2 2914.3,2675.2 2915.5,2678.2 2916.7,2677.2 2917.9,2676.2 2919.1,2670.2 2920.3,2669.1 2921.5,2672.2 2922.7,2673.2 2923.9,2672.6 2924.7,2665.1 2925.9,2664.5 2927.1,2666.1 2928.3,2665.7 2929.5,2663.7 2930.7,2676.2 2931.9,2680.2 2933.1,2680.6 2934.3,2679.2 2935.5,2677.2 2936.7,2676.2 2937.9,2675.8 2939.1,2673.2 2940.3,2671.2 2941.5,2668.1 2942.3,2662.1 2943.5,2660.1 2944.3,2658.1 2945.5,2664.1 2946.3,2652.1 2947.5,2651.1 2948.7,2650.1 2949.9,2649.7 2951.1,2649.1 2952.3,2655.1 2953.5,2655.7 2954.7,2648.1 2955.5,2639.7 2956.3,2638.1 2957.1,2634.1 2958.3,2631.1 2959.1,2628.1 2959.9,2610.1 2961.1,2609.1 2961.9,2626.1 2963.1,2628.1 2964.3,2629.1 2965.1,2649.7 2966.3,2649.1 2967.1,2642.1 2968.3,2641.7 2969.5,2649.1 2970.8,2648.1 2971.6,2638.5 2972.8,2638.1 2974.0,2649.7 2975.2,2645.1 2976.4,2651.1 2977.6,2646.1 2978.8,2646.5 2980.0,2649.1 2981.2,2650.1 2982.4,2647.1 2983.6,2643.1 2984.8,2642.1 2986.0,2638.1 2986.8,2634.5 2988.0,2634.1 2989.6,2634.5 2990.8,2634.1 2991.6,2640.1 2992.8,2644.1 2994.0,2648.1 2995.2,2652.1 2996.4,2658.1 2997.6,2662.1 2998.8,2660.1 3000.0,2659.7 3000.8,2670.2 3002.0,2669.1 3003.2,2664.1 3004.4,2663.7 3005.6,2668.1 3006.4,2674.2 3007.6,2675.2 3008.4,2682.2 3009.6,2687.2 3010.8,2687.8 3012.0,2687.2 3013.2,2686.6 3014.0,2678.2 3015.2,2677.2 3016.4,2676.2 3017.6,2670.6 3018.8,2675.2 3020.0,2675.8 3021.2,2676.2 3022.4,2680.2 3023.6,2674.2 3024.8,2671.2 3026.0,2678.2 3027.2,2679.2 3028.4,2674.2 3029.6,2670.2 3030.8,2670.6 3031.6,2680.2 3032.8,2691.2 3034.0,2686.2 3034.8,2675.2 3036.0,2676.2 3037.2,2680.2 3038.4,2683.2 3040.0,2683.2 3041.2,2686.2 3042.4,2685.2 3043.6,2687.2 3044.8,2689.2 3046.0,2691.2 3047.2,2691.8 3048.4,2692.2 3049.6,2693.2 3050.4,2714.2 3051.6,2715.2 3052.8,2714.2 3054.0,2717.2 3055.2,2718.2 3056.4,2724.2 3057.6,2726.2 3058.8,2725.2 3060.0,2728.2 3061.2,2730.6 3062.4,2721.2 3063.6,2720.2 3064.8,2724.6 3066.0,2723.8 3067.2,2709.2 3068.4,2707.8 3069.6,2707.2 3070.8,2711.2 3071.6,2700.2 3072.8,2701.2 3074.0,2706.2 3075.2,2701.2 3076.4,2700.2 3077.6,2697.2 3078.8,2696.6 3080.1,2697.2 3081.3,2706.2 3082.5,2712.2 3083.7,2717.2 3084.9,2720.2 3086.1,2720.6 3087.3,2714.2 3088.1,2713.2 3089.3,2721.2 3090.5,2720.2 3091.7,2722.2 3092.5,2728.2 3093.3,2736.2 3094.5,2735.2 3095.7,2734.6 3096.9,2730.2 3098.1,2735.2 3099.3,2729.8 3100.5,2729.2 3101.7,2728.2 3102.5,2736.2 3103.3,2749.8 3104.5,2750.2 3105.7,2747.2 3106.9,2746.2 3108.1,2748.2 3108.9,2759.2 3110.1,2758.6 3110.9,2765.2 3111.7,2768.2 3112.9,2763.2 3113.7,2755.2 3114.9,2754.6 3116.1,2754.2 3116.9,2740.2 3117.7,2729.2 3118.9,2735.2 3120.1,2742.2 3121.3,2741.2 3122.1,2752.2 3123.3,2753.2 3124.5,2753.8 3125.3,2763.2 3126.5,2764.2 3127.7,2765.2 3128.9,2771.9 3130.1,2771.3 3130.9,2759.2 3132.1,2760.2 3133.3,2758.2 3134.5,2757.2 3135.7,2764.2 3136.9,2765.2 3138.1,2771.9 3139.3,2773.3 3140.5,2774.3 3141.3,2752.2 3142.5,2751.2 3143.7,2756.2 3144.5,2742.2 3145.7,2741.2 3146.1,2714.6 3147.3,2713.8 3148.5,2713.2 3149.7,2712.2 3150.9,2720.2 3152.1,2726.2 3153.3,2731.2 3154.5,2729.2 3155.7,2723.2 3156.9,2724.2 3158.1,2730.2 3159.3,2729.8 3160.1,2720.2 3160.9,2702.6 3162.1,2703.8 3163.3,2719.2 3164.5,2718.2 3165.7,2707.2 3166.9,2708.2 3168.1,2715.2 3169.3,2709.2 3170.1,2700.2 3171.3,2716.2 3172.5,2713.2 3173.7,2708.2 3174.9,2697.2 3176.1,2709.8 3177.3,2707.2 3178.5,2701.8 3179.7,2707.2 3181.0,2704.2 3182.2,2696.6 3183.4,2695.8 3184.6,2694.2 3185.8,2693.2 3186.6,2681.2 3187.8,2691.8 3188.6,2676.2 3189.8,2675.2 3191.0,2672.2 3192.2,2669.1 3193.0,2650.1 3194.2,2649.1 3195.4,2649.7 3196.6,2658.1 3197.4,2646.1 3198.6,2645.1 3199.8,2646.1 3201.0,2638.1 3202.2,2637.7 3203.4,2646.1 3204.6,2647.1 3205.8,2650.1 3206.6,2636.1 3207.8,2636.5 3208.6,2660.1 3209.4,2679.2 3210.6,2679.8 3211.8,2674.2 3213.0,2674.6 3214.2,2680.2 3215.4,2679.8 3216.6,2684.2 3217.4,2695.2 3218.6,2695.8 3219.8,2692.2 3221.4,2691.8 3222.6,2696.2 3223.8,2702.2 3225.0,2708.6 3226.2,2708.2 3227.4,2700.2 3228.6,2686.2 3229.8,2685.2 3231.0,2686.2 3231.8,2708.2 3233.4,2708.6 3234.2,2694.2 3235.0,2680.2 3236.2,2679.2 3237.4,2657.1 3238.6,2656.1 3239.4,2616.1 3240.6,2616.5 3241.4,2643.1 3242.6,2642.1 3243.4,2626.1 3244.2,2614.1 3245.0,2615.1 3245.8,2632.1 3247.0,2634.1 3248.2,2629.7 3249.4,2623.1 3250.6,2629.1 3251.8,2628.1 3252.6,2614.1 3253.4,2600.5 3254.6,2601.1 3255.8,2616.1 3257.0,2617.1 3258.2,2614.1 3259.0,2591.1 3260.2,2590.5 3261.4,2614.1 3262.6,2615.7 3263.8,2610.1 3265.0,2611.1 3266.2,2623.1 3267.4,2622.5 3268.2,2614.1 3269.4,2615.1 3270.6,2620.1 3271.8,2621.1 3273.0,2623.1 3273.8,2601.1 3274.6,2585.7 3275.8,2585.1 3277.0,2604.1 3278.2,2603.7 3279.0,2595.1 3280.3,2595.7 3281.1,2606.1 3282.3,2605.1 3283.5,2604.1 3284.3,2620.1 3285.5,2638.1 3286.7,2639.1 3287.9,2627.1 3289.1,2628.1 3290.3,2628.5 3291.1,2648.1 3292.3,2647.7 3293.5,2646.1 3294.7,2647.1 3295.9,2626.1 3297.1,2627.1 3298.3,2645.1 3299.5,2636.1 3300.3,2649.7 3301.5,2634.1 3302.7,2644.1 3303.9,2637.1 3305.1,2648.1 3306.3,2638.1 3307.5,2649.1 3308.7,2639.1 3309.9,2639.7 3311.1,2652.1 3311.9,2667.1 3313.1,2667.7 3314.3,2661.1 3315.5,2662.1 3316.7,2671.2 3317.9,2670.2 3318.7,2664.1 3319.9,2663.1 3321.1,2660.1 3322.3,2669.1 3323.5,2660.1 3324.7,2659.7 3325.9,2659.1 3326.7,2640.1 3327.9,2639.1 3329.1,2638.1 3329.9,2641.1 3331.1,2626.1 3332.3,2627.1 3333.5,2640.1 3334.3,2634.1 3335.5,2636.1 3336.7,2632.1 3337.9,2631.1 3338.7,2648.1 3339.9,2640.1 3341.1,2636.1 3341.9,2657.1 3343.1,2656.1 3344.3,2652.1 3345.5,2651.1 3346.7,2660.1 3347.5,2672.6 3348.7,2672.2 3349.9,2671.8 3351.1,2672.2 3352.3,2680.2 3353.5,2688.2 3354.7,2689.2 3355.9,2688.6 3357.1,2682.2 3357.9,2671.2 3359.1,2670.2 3360.3,2669.7 3361.5,2669.1 3362.3,2656.1 3363.5,2651.1 3364.7,2652.1 3365.9,2651.7 3367.1,2651.1 3367.9,2670.2 3369.1,2670.6 3370.3,2668.1 3371.5,2667.1 3372.7,2670.2 3373.5,2677.2 3374.7,2667.1 3375.9,2666.1 3377.1,2658.5 3378.3,2661.1 3379.5,2669.1 3380.8,2664.1 3382.0,2665.1 3382.8,2672.2 3383.6,2700.2 3384.8,2720.2 3386.0,2722.2 3386.8,2732.2 3387.6,2739.2 3388.8,2742.2 3390.0,2743.8 3390.8,2737.2 3392.0,2735.2 3392.8,2715.2 3394.0,2709.2 3395.2,2707.2 3395.6,2661.1 3396.8,2662.1 3398.0,2670.2 3399.2,2668.1 3400.0,2641.1 3400.8,2627.1 3402.0,2625.1 3403.2,2626.1 3404.0,2634.1 3405.2,2633.1 3406.0,2626.1 3406.8,2608.1 3408.0,2607.7 3409.2,2620.1 3410.4,2626.1 3411.2,2619.1 3412.4,2618.5 3413.6,2620.1 3414.4,2636.1 3415.2,2651.1 3416.4,2652.1 3417.6,2660.1 3418.8,2659.7 3420.0,2647.1 3420.8,2645.1 3421.6,2630.1 3422.8,2629.7 3423.6,2633.1 3424.8,2632.5 3425.2,2619.1 3426.4,2618.1 3427.6,2617.1 3428.8,2616.1 3429.6,2604.1 3430.4,2588.1 3431.6,2586.1 3432.4,2567.0 3434.0,2567.6 3434.8,2570.1 3435.2,2596.1 3436.0,2606.5 3437.2,2601.1 3438.0,2602.1 3438.8,2618.1 3440.0,2619.1 3441.2,2628.1"/>
</g>
<path class="sp" d="M191.5,142.0 V1595.2 H3444.0"/>
<line class="tk" x1="176.4" y1="1533.6" x2="190.1" y2="1533.6"/>
<text class="r" x="161" y="1545.5">1,000</text>
<line class="tk" x1="176.4" y1="1296.9" x2="190.1" y2="1296.9"/>
<text class="r" x="161" y="1308.8">1,200</text>
<line class="tk" x1="176.4" y1="1060.2" x2="190.1" y2="1060.2"/>
<text class="r" x="161" y="1072.1">1,400</text>
<line class="tk" x1="176.4" y1="823.4" x2="190.1" y2="823.4"/>
<text class="r" x="161" y="835.3">1,600</text>
<line class="tk" x1="176.4" y1="586.7" x2="190.1" y2="586.7"/>
<text class="r" x="161" y="598.6">1,800</text>
<line class="tk" x1="176.4" y1="350.0" x2="190.1" y2="350.0"/>
<text class="r" x="161" y="361.9">2,000</text>
<line class="tk" x1="191.5" y1="1596.8" x2="191.5" y2="1610.7"/>
<line class="tk" x1="735.5" y1="1596.8" x2="735.5" y2="1610.7"/>
<line class="tk" x1="1279.6" y1="1596.8" x2="1279.6" y2="1610.7"/>
<line class="tk" x1="1823.6" y1="1596.8" x2="1823.6" y2="1610.7"/>
<line class="tk" x1="2367.7" y1="1596.8" x2="2367.7" y2="1610.7"/>
<line class="tk" x1="2911.7" y1="1596.8" x2="2911.7" y2="1610.7"/>
<path class="sp" d="M191.5,1760.3 V2245.0 H3444.0"/>
<line class="tk" x1="176.4" y1="2174.1" x2="190.1" y2="2174.1"/>
<text class="r" x="161" y="2186.0">−4</text>
<line class="tk" x1="176.4" y1="2093.3" x2="190.1" y2="2093.3"/>
<text class="r" x="161" y="2105.2">−2</text>
<line class="tk" x1="176.4" y1="2012.4" x2="190.1" y2="2012.4"/>
<text class="r" x="161" y="2024.3">0</text>
<line class="tk" x1="176.4" y1="1931.5" x2="190.1" y2="1931.5"/>
<text class="r" x="161" y="1943.4">2</text>
<line class="tk" x1="176.4" y1="1850.7" x2="190.1" y2="1850.7"/>
<text class="r" x="161" y="1862.6">4</text>
<line class="tk" x1="176.4" y1="1769.8" x2="190.1" y2="1769.8"/>
<text class="r" x="161" y="1781.7">6</text>
<line class="tk" x1="191.5" y1="2246.6" x2="191.5" y2="2260.5"/>
<line class="tk" x1="735.5" y1="2246.6" x2="735.5" y2="2260.5"/>
<line class="tk" x1="1279.6" y1="2246.6" x2="1279.6" y2="2260.5"/>
<line class="tk" x1="1823.6" y1="2246.6" x2="1823.6" y2="2260.5"/>
<line class="tk" x1="2367.7" y1="2246.6" x2="2367.7" y2="2260.5"/>
<line class="tk" x1="2911.7" y1="2246.6" x2="2911.7" y2="2260.5"/>
<path class="sp" d="M191.5,2411.0 V2895.7 H3444.0"/>
<line class="tk" x1="176.4" y1="2861.7" x2="190.1" y2="2861.7"/>
<text class="r" x="161" y="2873.6">−2</text>
<line class="tk" x1="176.4" y1="2728.9" x2="190.1" y2="2728.9"/>
<text class="r" x="161" y="2740.8">0</text>
<line class="tk" x1="176.4" y1="2596.1" x2="190.1" y2="2596.1"/>
<text class="r" x="161" y="2608.0">2</text>
<line class="tk" x1="176.4" y1="2463.3" x2="190.1" y2="2463.3"/>
<text class="r" x="161" y="2475.2">4</text>
<line class="tk" x1="191.5" y1="2897.3" x2="191.5" y2="2911.2"/>
<line class="tk" x1="735.5" y1="2897.3" x2="735.5" y2="2911.2"/>
<line class="tk" x1="1279.6" y1="2897.3" x2="1279.6" y2="2911.2"/>
<line class="tk" x1="1823.6" y1="2897.3" x2="1823.6" y2="2911.2"/>
<line class="tk" x1="2367.7" y1="2897.3" x2="2367.7" y2="2911.2"/>
<line class="tk" x1="2911.7" y1="2897.3" x2="2911.7" y2="2911.2"/>
<text class="m" x="191.5" y="2950">2012</text>
<text class="m" x="735.5" y="2950">2014</text>
<text class="m" x="1279.6" y="2950">2016</text>
<text class="m" x="1823.6" y="2950">2018</text>
<text class="m" x="2367.7" y="2950">2020</text>
<text class="m" x="2911.7" y="2950">2022</text>
<text class="m" transform="translate(56,872) rotate(-90)">USD/oz</text>
<text class="m g" transform="translate(99,2005) rotate(-90)">Z-Score short term</text>
<text class="m g" transform="translate(99,2655.5) rotate(-90)">Z-Score long term</text>
<rect x="206.5" y="160" width="792" height="58.5" rx="6" ry="6" fill="#fff" stroke="#cfcfcf" stroke-width="2.8"/>
<line x1="219.0" y1="185.7" x2="289.0" y2="185.7" stroke="#000" stroke-width="4.17"/>
<text x="315.0" y="198">Gold price</text>
<line x1="531.0" y1="185.7" x2="601.0" y2="185.7" stroke="#ff0000" stroke-width="4.17"/>
<text x="626.5" y="198">5Y MA</text>
<line x1="790.5" y1="185.7" x2="860.5" y2="185.7" stroke="#008000" stroke-width="4.17"/>
<text x="886.5" y="198">1Y MA</text>
<circle cx="3442.6" cy="363.6" r="11.3" fill="#000"/>
<text x="3456.5" y="370.6">1988.5</text>
<circle cx="3442.6" cy="404.2" r="11.3" fill="#008000"/>
<text x="3456.5" y="411.2">1954.2</text>
<circle cx="3442.6" cy="523.8" r="11.3" fill="#ff0000"/>
<text x="3456.5" y="530.8">1853.2</text>
<circle cx="3442.5" cy="1983.3" r="11.3" fill="#808080"/>
<text x="3483.6" y="1992">0.7</text>
<circle cx="3442.5" cy="2631.1" r="11.3" fill="#808080"/>
<text x="3483.6" y="2639.8">1.5</text>
<text class="b r" x="3441" y="2938">Source: XTB Research</text>
</svg></body></html>
